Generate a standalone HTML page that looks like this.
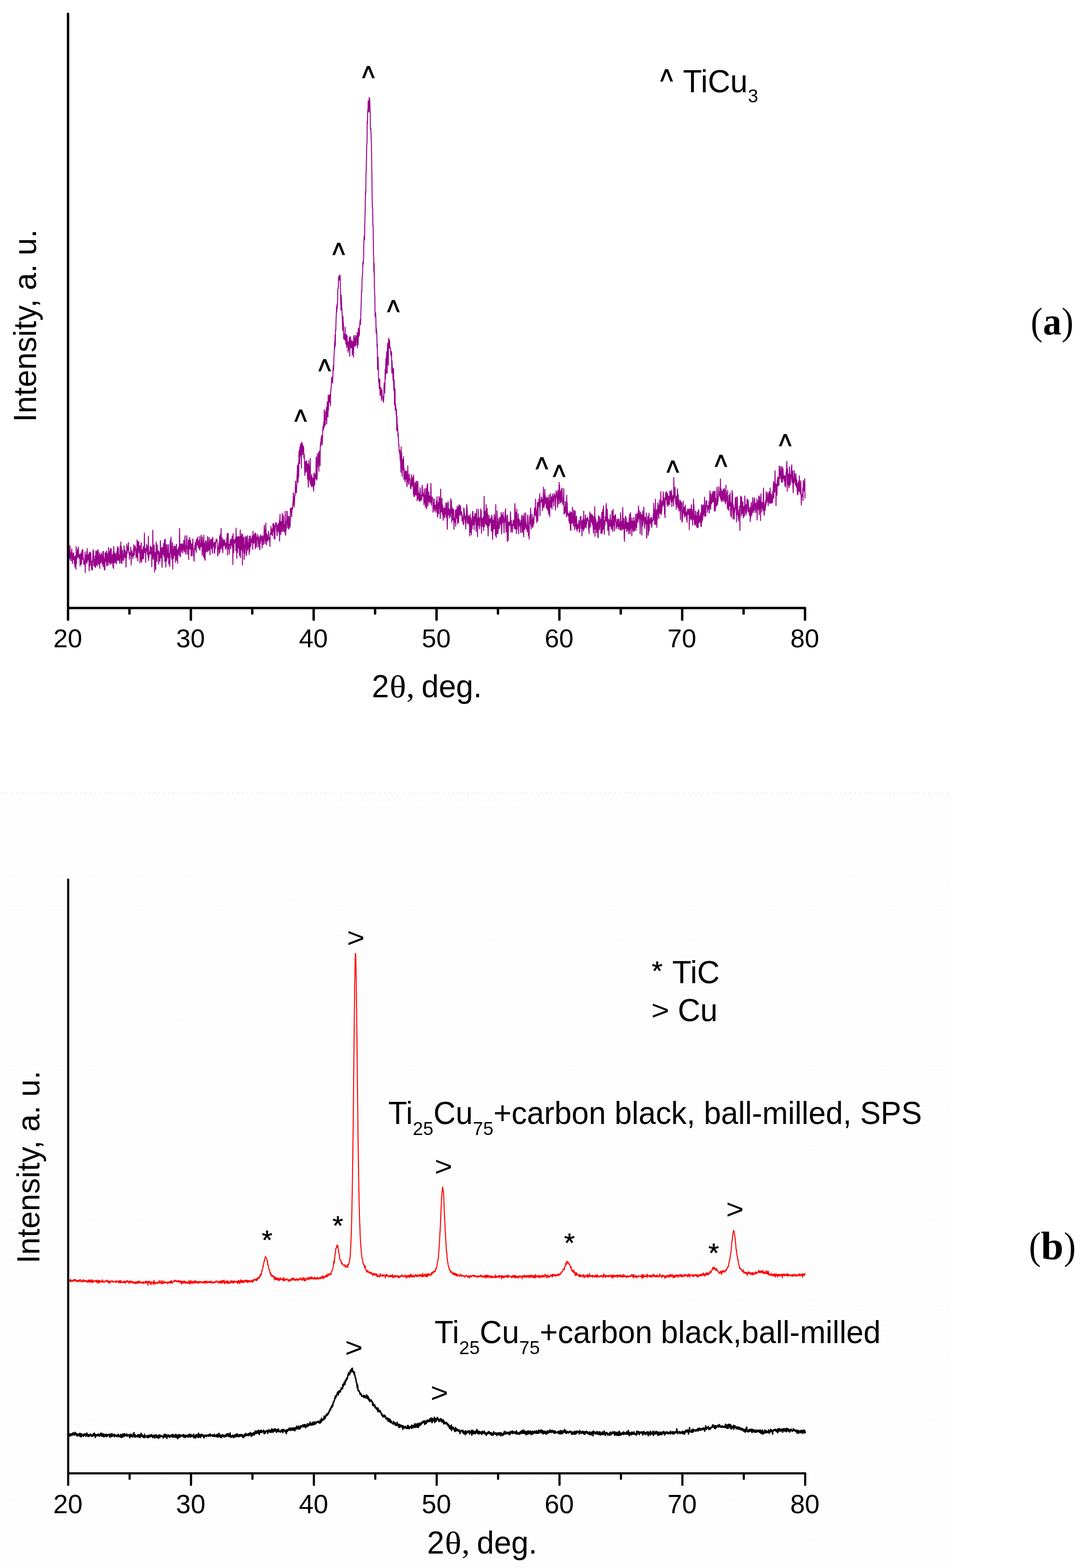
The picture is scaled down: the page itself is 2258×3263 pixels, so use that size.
<!DOCTYPE html>
<html lang="en"><head><meta charset="utf-8"><title>XRD patterns</title>
<style>html,body{margin:0;padding:0;background:#fff}body{width:2258px;height:3263px;overflow:hidden}svg{display:block}</style></head><body>
<svg width="2258" height="3263" viewBox="0 0 2258 3263">
<defs><filter id="soft" x="-2%" y="-2%" width="104%" height="104%"><feGaussianBlur stdDeviation="0.7"/></filter><pattern id="dither" x="0" y="1650.3" width="10.4" height="10.4" patternUnits="userSpaceOnUse"><g fill="#f7f8f8"><circle cx="2.6" cy="5.2" r="1.25"/><circle cx="7.8" cy="5.2" r="1.25"/><circle cx="0" cy="10.4" r="1.25"/><circle cx="5.2" cy="10.4" r="1.25"/><circle cx="10.4" cy="10.4" r="1.25"/><circle cx="0" cy="0" r="1.25" fill="#fff"/></g></pattern></defs>
<rect width="2258" height="3263" fill="#fff"/>
<g id="chart-a">
<polyline fill="none" stroke="#99008a" stroke-width="2.0" stroke-linejoin="round" stroke-linecap="round" points="141.6,1157.3 142.1,1153.4 142.6,1162.1 143.1,1130 143.6,1164.1 144.2,1156.3 144.7,1151.1 145.2,1162 145.7,1135.4 146.2,1158.8 146.7,1151.5 147.2,1166.4 147.7,1166.9 148.2,1149.2 148.8,1149.2 149.3,1142.3 149.8,1151.3 150.3,1165.7 150.8,1172.8 151.3,1164.7 151.8,1162.3 152.3,1150.6 152.8,1164.5 153.4,1151.5 153.9,1165.3 154.4,1159.6 154.9,1173.4 155.4,1165 155.9,1180.2 156.4,1157.2 156.9,1172.4 157.4,1165.5 158,1184.7 158.5,1137.2 159,1174.1 159.5,1149.5 160,1151.5 160.5,1162.6 161,1143.2 161.5,1147.4 162,1156.4 162.6,1158.8 163.1,1138.2 163.6,1151.6 164.1,1161.1 164.6,1161.3 165.1,1154.4 165.6,1162.9 166.1,1156.3 166.7,1178.3 167.2,1152.5 167.7,1163.8 168.2,1156.6 168.7,1174.1 169.2,1150.4 169.7,1174.4 170.2,1147.5 170.7,1145.2 171.3,1155.9 171.8,1164.2 172.3,1143.2 172.8,1156.4 173.3,1162.9 173.8,1162.5 174.3,1174.4 174.8,1173.2 175.3,1167.3 175.9,1174.9 176.4,1175.2 176.9,1148.6 177.4,1191.4 177.9,1162.4 178.4,1155.1 178.9,1170.8 179.4,1156.6 179.9,1171.2 180.5,1147.4 181,1172.4 181.5,1141.6 182,1167.9 182.5,1160.2 183,1156.5 183.5,1165 184,1155.5 184.5,1153 185.1,1168.1 185.6,1188.1 186.1,1150 186.6,1178 187.1,1177.1 187.6,1148.4 188.1,1165.5 188.6,1169.8 189.1,1151.2 189.7,1177 190.2,1174.4 190.7,1185.1 191.2,1168 191.7,1175.3 192.2,1186.5 192.7,1166.4 193.2,1156.4 193.7,1144.1 194.3,1166.6 194.8,1146.4 195.3,1177.1 195.8,1164.8 196.3,1173.4 196.8,1164.9 197.3,1178.9 197.8,1156.8 198.3,1163.4 198.9,1180.9 199.4,1146.3 199.9,1165.2 200.4,1175.3 200.9,1148.8 201.4,1153.5 201.9,1146.3 202.4,1177.9 202.9,1160 203.5,1158.3 204,1144 204.5,1148.5 205,1174.4 205.5,1159.8 206,1157.1 206.5,1172.5 207,1150.4 207.5,1183.1 208.1,1157.3 208.6,1155.4 209.1,1158.6 209.6,1162.5 210.1,1171.1 210.6,1152.8 211.1,1151.1 211.6,1162.3 212.2,1166.2 212.7,1173.1 213.2,1155.5 213.7,1174.2 214.2,1148.3 214.7,1179.5 215.2,1147.3 215.7,1160.3 216.2,1163.9 216.8,1174.5 217.3,1186 217.8,1161.9 218.3,1185.8 218.8,1150.5 219.3,1165.3 219.8,1158 220.3,1168.4 220.8,1148.6 221.4,1146.6 221.9,1177.5 222.4,1174.6 222.9,1168 223.4,1151.5 223.9,1168.3 224.4,1166.4 224.9,1176.6 225.4,1163.5 226,1139.4 226.5,1157.6 227,1160 227.5,1170.6 228,1157 228.5,1146.4 229,1175.1 229.5,1165.1 230,1141.4 230.6,1151.3 231.1,1171.8 231.6,1142.3 232.1,1172.4 232.6,1160 233.1,1157.7 233.6,1170.9 234.1,1154 234.6,1160.2 235.2,1180.7 235.7,1148.3 236.2,1182.9 236.7,1137.3 237.2,1148 237.7,1170.8 238.2,1150.4 238.7,1154.8 239.2,1169.1 239.8,1171.2 240.3,1165 240.8,1151.5 241.3,1166.7 241.8,1160.4 242.3,1173.7 242.8,1163.3 243.3,1147.8 243.8,1156.5 244.4,1137.8 244.9,1166.1 245.4,1163.6 245.9,1158 246.4,1140.1 246.9,1152.5 247.4,1166.3 247.9,1155 248.4,1158.8 249,1172.1 249.5,1165.3 250,1136.2 250.5,1161.7 251,1144.6 251.5,1127.8 252,1171.7 252.5,1137.2 253,1152.3 253.6,1172.5 254.1,1165.3 254.6,1155.3 255.1,1144.5 255.6,1159.7 256.1,1154.9 256.6,1166.4 257.1,1160.6 257.6,1165 258.2,1135.8 258.7,1144.1 259.2,1157.3 259.7,1159.9 260.2,1146.9 260.7,1145.7 261.2,1154.4 261.7,1156.3 262.3,1180.1 262.8,1149.5 263.3,1161.3 263.8,1132 264.3,1152.8 264.8,1149.9 265.3,1137.2 265.8,1141.2 266.3,1145.3 266.9,1143.5 267.4,1128.9 267.9,1149.2 268.4,1152 268.9,1149.2 269.4,1163.7 269.9,1150.8 270.4,1154.2 270.9,1152.3 271.5,1154.2 272,1138.8 272.5,1148.7 273,1175.6 273.5,1156.4 274,1149.9 274.5,1146.1 275,1156.7 275.5,1151.7 276.1,1154.3 276.6,1162.8 277.1,1153.1 277.6,1149.9 278.1,1143 278.6,1133.6 279.1,1156.2 279.6,1155.1 280.1,1141.8 280.7,1142.9 281.2,1135.8 281.7,1137 282.2,1145.2 282.7,1148.8 283.2,1160.8 283.7,1156.6 284.2,1142 284.7,1159.5 285.3,1123.5 285.8,1143.5 286.3,1154.8 286.8,1167.5 287.3,1126.8 287.8,1132.4 288.3,1141.5 288.8,1127.4 289.3,1147.1 289.9,1150.9 290.4,1143.9 290.9,1135.8 291.4,1171.6 291.9,1167.6 292.4,1150.9 292.9,1165.9 293.4,1133.4 293.9,1129.4 294.5,1149.9 295,1169.9 295.5,1143.5 296,1156.2 296.5,1162.7 297,1146.8 297.5,1157.1 298,1137.5 298.5,1162.9 299.1,1151.5 299.6,1146.9 300.1,1137.8 300.6,1108.9 301.1,1150.1 301.6,1146 302.1,1144.5 302.6,1140.9 303.1,1170.6 303.7,1145 304.2,1145.1 304.7,1146.1 305.2,1132.3 305.7,1139.3 306.2,1141.9 306.7,1150.6 307.2,1154.3 307.8,1136.8 308.3,1160.4 308.8,1115.7 309.3,1166.6 309.8,1155.6 310.3,1157.8 310.8,1149 311.3,1152.7 311.8,1151.8 312.4,1143.1 312.9,1135.9 313.4,1153.3 313.9,1151.5 314.4,1139.3 314.9,1149 315.4,1138.9 315.9,1179.6 316.4,1155.8 317,1157.2 317.5,1160.8 318,1103.5 318.5,1149.6 319,1163.9 319.5,1135.1 320,1154.4 320.5,1157.6 321,1133.9 321.6,1190.6 322.1,1151.6 322.6,1149.9 323.1,1151.7 323.6,1167.7 324.1,1185 324.6,1145.6 325.1,1128.1 325.6,1159.8 326.2,1154.9 326.7,1169.1 327.2,1133.8 327.7,1147.9 328.2,1152.2 328.7,1149.4 329.2,1147.4 329.7,1146.1 330.2,1174.1 330.8,1148 331.3,1167.6 331.8,1151.1 332.3,1161 332.8,1168.1 333.3,1159.8 333.8,1124.9 334.3,1138 334.8,1144.3 335.4,1161 335.9,1142.3 336.4,1140.5 336.9,1170.2 337.4,1180.7 337.9,1139.5 338.4,1149.4 338.9,1154 339.4,1138 340,1146.1 340.5,1130.8 341,1157.8 341.5,1149.1 342,1134.9 342.5,1123.2 343,1168.5 343.5,1152.4 344,1122.3 344.6,1153 345.1,1180.2 345.6,1151.4 346.1,1167.4 346.6,1133.2 347.1,1166.3 347.6,1133.2 348.1,1159.3 348.6,1146.3 349.2,1155.3 349.7,1160.6 350.2,1140.4 350.7,1133 351.2,1173.8 351.7,1160.1 352.2,1157.8 352.7,1151.4 353.3,1178.8 353.8,1161 354.3,1124.4 354.8,1148.6 355.3,1150.7 355.8,1117.7 356.3,1130 356.8,1161 357.3,1143 357.9,1164.7 358.4,1140.9 358.9,1129.3 359.4,1183.9 359.9,1156.9 360.4,1143.9 360.9,1162.8 361.4,1146.3 361.9,1136 362.5,1156.4 363,1150.5 363.5,1137.2 364,1148.4 364.5,1138.2 365,1170.4 365.5,1157.5 366,1144.4 366.5,1135.6 367.1,1132.7 367.6,1166.3 368.1,1143.5 368.6,1159 369.1,1156.7 369.6,1172.3 370.1,1146.5 370.6,1142.6 371.1,1142.6 371.7,1138.5 372.2,1152.9 372.7,1154.5 373.2,1156.8 373.7,1099.8 374.2,1134.5 374.7,1136.3 375.2,1133.2 375.7,1158.8 376.3,1136.5 376.8,1132.1 377.3,1147.2 377.8,1136.6 378.3,1142.9 378.8,1133.3 379.3,1131.2 379.8,1150.9 380.3,1141.9 380.9,1133.6 381.4,1140.2 381.9,1143.7 382.4,1123.9 382.9,1145 383.4,1148.7 383.9,1130.8 384.4,1144.3 384.9,1115.2 385.5,1133.8 386,1149 386.5,1136.2 387,1153.8 387.5,1141.9 388,1142.4 388.5,1114.4 389,1120.7 389.5,1135.6 390.1,1138.4 390.6,1153.2 391.1,1139.4 391.6,1153.3 392.1,1123.4 392.6,1164.8 393.1,1132 393.6,1126.6 394.1,1124.1 394.7,1118.3 395.2,1143.2 395.7,1130.5 396.2,1124.2 396.7,1133.2 397.2,1129.4 397.7,1156.4 398.2,1133.4 398.8,1140.9 399.3,1132.7 399.8,1156.9 400.3,1131.3 400.8,1133.2 401.3,1121.5 401.8,1141.7 402.3,1140.2 402.8,1155.9 403.4,1155.6 403.9,1167.9 404.4,1144.3 404.9,1144.7 405.4,1134.4 405.9,1141.9 406.4,1127.6 406.9,1135 407.4,1137.4 408,1146.4 408.5,1149.5 409,1122.7 409.5,1121.9 410,1133.6 410.5,1132 411,1132 411.5,1117.6 412,1136.2 412.6,1130.1 413.1,1139.7 413.6,1138.9 414.1,1124.4 414.6,1142.2 415.1,1142.8 415.6,1116.4 416.1,1144.8 416.6,1131.4 417.2,1138.8 417.7,1137.1 418.2,1130.4 418.7,1113.5 419.2,1137.1 419.7,1129.1 420.2,1132.9 420.7,1155 421.2,1117.6 421.8,1128.9 422.3,1145.5 422.8,1127 423.3,1158.3 423.8,1156.1 424.3,1113.7 424.8,1160.8 425.3,1130.2 425.8,1133.2 426.4,1165.4 426.9,1165.8 427.4,1133.5 427.9,1124.4 428.4,1136.7 428.9,1148.3 429.4,1127.1 429.9,1142.5 430.4,1137.1 431,1135.3 431.5,1148.7 432,1116.5 432.5,1118.1 433,1126.4 433.5,1146.4 434,1144.1 434.5,1133.2 435,1143.3 435.6,1118.8 436.1,1127.7 436.6,1144 437.1,1154.8 437.6,1128.5 438.1,1135.2 438.6,1122.8 439.1,1126.6 439.6,1137.9 440.2,1142.3 440.7,1121.5 441.2,1130.9 441.7,1143.4 442.2,1151.4 442.7,1118.1 443.2,1129.4 443.7,1131.3 444.3,1131.4 444.8,1137.8 445.3,1129.4 445.8,1137 446.3,1151.2 446.8,1151.1 447.3,1127.9 447.8,1131.8 448.3,1141.6 448.9,1129 449.4,1127.4 449.9,1121.9 450.4,1126.6 450.9,1121.8 451.4,1123.2 451.9,1125.3 452.4,1132.2 452.9,1156.9 453.5,1154.9 454,1138.5 454.5,1139.1 455,1142.4 455.5,1133.1 456,1129.7 456.5,1152 457,1115.5 457.5,1149.1 458.1,1121.9 458.6,1111.5 459.1,1142.5 459.6,1122.6 460.1,1100 460.6,1138.5 461.1,1138.3 461.6,1132 462.1,1143.6 462.7,1118.7 463.2,1134.3 463.7,1150.2 464.2,1134.7 464.7,1131.6 465.2,1123.6 465.7,1130.8 466.2,1135.8 466.7,1122.8 467.3,1127 467.8,1126.4 468.3,1132.2 468.8,1140.4 469.3,1134.7 469.8,1143.4 470.3,1130 470.8,1140.1 471.3,1131.4 471.9,1120.9 472.4,1117.4 472.9,1110.4 473.4,1155 473.9,1112.7 474.4,1115.5 474.9,1109.8 475.4,1136 475.9,1142.7 476.5,1132.9 477,1153.3 477.5,1133 478,1134.6 478.5,1134.6 479,1124.2 479.5,1130.8 480,1142 480.5,1121.4 481.1,1129.4 481.6,1134.5 482.1,1133.9 482.6,1130.2 483.1,1115.7 483.6,1140.7 484.1,1128.8 484.6,1175.1 485.1,1110.5 485.7,1150.1 486.2,1150.3 486.7,1143.9 487.2,1123.3 487.7,1126.5 488.2,1130.2 488.7,1123.7 489.2,1127.7 489.7,1120.5 490.3,1120.7 490.8,1145.9 491.3,1099.2 491.8,1136.6 492.3,1137 492.8,1161.7 493.3,1117 493.8,1118.1 494.4,1149.7 494.9,1135.5 495.4,1116.5 495.9,1140.3 496.4,1124.6 496.9,1140.5 497.4,1117.1 497.9,1138.2 498.4,1156.3 499,1117.9 499.5,1124.7 500,1102.9 500.5,1160.8 501,1131.6 501.5,1141.7 502,1115.6 502.5,1144.2 503,1110.4 503.6,1118.3 504.1,1125.8 504.6,1175.9 505.1,1112.6 505.6,1149.3 506.1,1118.9 506.6,1132.2 507.1,1121.7 507.6,1118.1 508.2,1163.9 508.7,1133.7 509.2,1147.3 509.7,1152.6 510.2,1135.1 510.7,1117.2 511.2,1139 511.7,1116.8 512.2,1127.8 512.8,1156.5 513.3,1152.1 513.8,1123.7 514.3,1116.6 514.8,1114.6 515.3,1145.3 515.8,1130 516.3,1141 516.8,1135.3 517.4,1133.7 517.9,1121.2 518.4,1153.9 518.9,1115.7 519.4,1148.4 519.9,1130.9 520.4,1140.3 520.9,1133.3 521.4,1115.2 522,1136.9 522.5,1127.6 523,1121.4 523.5,1128.1 524,1128.8 524.5,1123 525,1115.5 525.5,1120.6 526,1143.2 526.6,1105.5 527.1,1126.6 527.6,1129.4 528.1,1130.7 528.6,1121.2 529.1,1112.6 529.6,1121.4 530.1,1128.3 530.6,1109.5 531.2,1141.9 531.7,1123.9 532.2,1109.7 532.7,1112.6 533.2,1130.8 533.7,1138.6 534.2,1127.8 534.7,1121.7 535.2,1117.3 535.8,1116.5 536.3,1112.3 536.8,1122.8 537.3,1138.6 537.8,1124.7 538.3,1117.9 538.8,1117.6 539.3,1131.3 539.9,1128.7 540.4,1143.9 540.9,1142.3 541.4,1115.3 541.9,1130.4 542.4,1113.1 542.9,1120.9 543.4,1124.3 543.9,1117.1 544.5,1115.6 545,1127.4 545.5,1140.6 546,1125.4 546.5,1132.6 547,1115.1 547.5,1125.2 548,1133.2 548.5,1131 549.1,1123.7 549.6,1106.7 550.1,1093.3 550.6,1119 551.1,1101.2 551.6,1131.6 552.1,1102.9 552.6,1125.8 553.1,1088.4 553.7,1105.5 554.2,1116.9 554.7,1133.8 555.2,1121.5 555.7,1111.4 556.2,1126.5 556.7,1124.7 557.2,1115.1 557.7,1118.1 558.3,1123.2 558.8,1105.5 559.3,1118.8 559.8,1121.1 560.3,1120.6 560.8,1125.3 561.3,1118.5 561.8,1137.3 562.3,1110.1 562.9,1111.8 563.4,1111.8 563.9,1095.5 564.4,1110 564.9,1100.4 565.4,1112.4 565.9,1101.1 566.4,1101.2 566.9,1114.9 567.5,1108.4 568,1089.7 568.5,1093.4 569,1089.9 569.5,1105.6 570,1090.1 570.5,1121.1 571,1094.1 571.5,1110 572.1,1121.9 572.6,1104.2 573.1,1094 573.6,1088.5 574.1,1094.1 574.6,1088 575.1,1087.7 575.6,1101.2 576.1,1108.8 576.7,1114.9 577.2,1093.1 577.7,1092.7 578.2,1098.7 578.7,1105.6 579.2,1089.4 579.7,1102.2 580.2,1096.3 580.7,1109.8 581.3,1084.3 581.8,1126 582.3,1082.9 582.8,1070 583.3,1105.8 583.8,1112.5 584.3,1090.4 584.8,1085.2 585.4,1105.5 585.9,1099.3 586.4,1106.7 586.9,1086.4 587.4,1068.3 587.9,1085.9 588.4,1090.7 588.9,1104.8 589.4,1106 590,1072.5 590.5,1091.9 591,1091.5 591.5,1096.1 592,1107.2 592.5,1093.3 593,1097.8 593.5,1063.7 594,1113.8 594.6,1112.5 595.1,1092.6 595.6,1102.3 596.1,1083.9 596.6,1081.3 597.1,1063.8 597.6,1064.7 598.1,1089.7 598.6,1097.9 599.2,1085.5 599.7,1098.9 600.2,1074.4 600.7,1082.5 601.2,1101.4 601.7,1074.8 602.2,1079.5 602.7,1076.9 603.2,1087.1 603.8,1097.5 604.3,1058 604.8,1058.7 605.3,1057.8 605.8,1066 606.3,1057.5 606.8,1075.7 607.3,1067.8 607.8,1055.9 608.4,1060.4 608.9,1058.4 609.4,1046.7 609.9,1051.1 610.4,1025.2 610.9,1048.5 611.4,1033.3 611.9,1044.8 612.4,1055.3 613,1042.6 613.5,1028.5 614,1031.1 614.5,1019.6 615,1001.3 615.5,1023.5 616,1025.3 616.5,1019.5 617,1025.4 617.6,1007 618.1,992.1 618.6,983.8 619.1,968.3 619.6,997.1 620.1,1004.3 620.6,996.5 621.1,963.8 621.6,992.4 622.2,939.2 622.7,945.2 623.2,936.2 623.7,964.9 624.2,930 624.7,948.3 625.2,925.3 625.7,932.2 626.2,949.4 626.8,921.5 627.3,974.1 627.8,922.2 628.3,920.9 628.8,938.6 629.3,923.2 629.8,946 630.3,935.1 630.9,927.4 631.4,941.2 631.9,930.3 632.4,953.1 632.9,944.7 633.4,950 633.9,970.3 634.4,989.5 634.9,974.8 635.5,961.4 636,960.3 636.5,983.1 637,965.4 637.5,980.9 638,958.7 638.5,977.3 639,977.9 639.5,965 640.1,997.3 640.6,965.6 641.1,983.3 641.6,1014 642.1,998 642.6,958.8 643.1,999 643.6,991.9 644.1,994.2 644.7,968.4 645.2,1003.4 645.7,953.7 646.2,1006.6 646.7,1009 647.2,1007.8 647.7,992.2 648.2,1012.8 648.7,987.8 649.3,992.7 649.8,1004.6 650.3,1011.5 650.8,1010 651.3,995 651.8,1016 652.3,1002.7 652.8,1022.3 653.3,986.6 653.9,984 654.4,989.1 654.9,1009.7 655.4,991.9 655.9,988 656.4,987.2 656.9,989.6 657.4,996.4 657.9,951.2 658.5,963 659,983.4 659.5,999.2 660,989.5 660.5,944.2 661,971.6 661.5,955.9 662,949.5 662.5,960.8 663.1,941.9 663.6,980.8 664.1,948.7 664.6,938.5 665.1,943.3 665.6,956.1 666.1,969.4 666.6,929.6 667.1,920.5 667.7,928.3 668.2,911.4 668.7,912.6 669.2,909 669.7,905.9 670.2,921.8 670.7,925.7 671.2,909.8 671.7,894.7 672.3,887.1 672.8,895.2 673.3,884.4 673.8,879.2 674.3,890.6 674.8,852.4 675.3,886.9 675.8,876.3 676.4,880.8 676.9,884.6 677.4,857 677.9,873.5 678.4,855 678.9,870.1 679.4,847.4 679.9,882.1 680.4,863.5 681,836.5 681.5,843.6 682,855.9 682.5,867.6 683,822.4 683.5,853.9 684,834.1 684.5,828.1 685,827.7 685.6,821.2 686.1,837.7 686.6,832.1 687.1,821.5 687.6,844.2 688.1,813.4 688.6,813.4 689.1,807.1 689.6,799.9 690.2,785.8 690.7,784.6 691.2,796.9 691.7,790.8 692.2,796 692.7,784.4 693.2,768.9 693.7,760.1 694.2,770.6 694.8,744.9 695.3,740.6 695.8,727.7 696.3,712.9 696.8,724.2 697.3,696.5 697.8,719.6 698.3,685.2 698.8,687.7 699.4,665.3 699.9,654.2 700.4,638.9 700.9,649 701.4,632.7 701.9,640.8 702.4,630.3 702.9,606.2 703.4,599.8 704,600 704.5,577.5 705,578.8 705.5,573.5 706,575.8 706.5,583 707,580.2 707.5,572.2 708,578.6 708.6,604.6 709.1,625.7 709.6,645.5 710.1,614.6 710.6,622.8 711.1,640.8 711.6,641.2 712.1,656.1 712.6,669.6 713.2,687.5 713.7,658.3 714.2,671.1 714.7,672.1 715.2,704.9 715.7,701.7 716.2,705.6 716.7,694.9 717.2,702.6 717.8,707.6 718.3,681 718.8,706.4 719.3,705.9 719.8,715.9 720.3,710.5 720.8,695.8 721.3,723.4 721.8,715 722.4,698.5 722.9,716.7 723.4,711.5 723.9,714.1 724.4,733 724.9,725.5 725.4,728.5 725.9,709.6 726.5,719.6 727,701.3 727.5,705 728,741.5 728.5,712.8 729,719.7 729.5,700.7 730,716.2 730.5,723.9 731.1,715 731.6,722.4 732.1,709 732.6,708.3 733.1,738.7 733.6,729.9 734.1,711.4 734.6,715 735.1,715 735.7,743.2 736.2,698.5 736.7,714.3 737.2,721.6 737.7,719.3 738.2,703.8 738.7,705 739.2,697.8 739.7,717.7 740.3,719.7 740.8,718.4 741.3,711.1 741.8,700.5 742.3,698.6 742.8,705.9 743.3,691.7 743.8,724 744.3,694.1 744.9,715.7 745.4,717.4 745.9,682.4 746.4,701.6 746.9,697.8 747.4,688.7 747.9,698 748.4,677.3 748.9,674.3 749.5,665.4 750,675.3 750.5,669 751,648.9 751.5,637.6 752,617.3 752.5,606.7 753,607.8 753.5,579.8 754.1,576 754.6,568.1 755.1,545.6 755.6,545.6 756.1,549.5 756.6,536.2 757.1,510.7 757.6,495.6 758.1,490.1 758.7,499.2 759.2,464.3 759.7,446.7 760.2,421.7 760.7,398.6 761.2,402.6 761.7,361 762.2,354.2 762.7,327.5 763.3,300.3 763.8,297.2 764.3,251.7 764.8,256.9 765.3,228.7 765.8,230.7 766.3,209.8 766.8,215.2 767.3,233 767.9,232.5 768.4,203 768.9,222.4 769.4,205.4 769.9,221.1 770.4,232.4 770.9,268.7 771.4,266.5 772,274 772.5,287.5 773,301.3 773.5,341.6 774,366.6 774.5,411.6 775,433.4 775.5,432.7 776,466.6 776.6,473.5 777.1,522.6 777.6,534.3 778.1,567 778.6,547.9 779.1,593.1 779.6,610.3 780.1,617.4 780.6,658.7 781.2,654 781.7,650.9 782.2,662.3 782.7,692.8 783.2,682.1 783.7,689 784.2,694.2 784.7,722.4 785.2,715.6 785.8,768.9 786.3,746.3 786.8,743 787.3,760.2 787.8,791 788.3,796.3 788.8,792.7 789.3,808.4 789.8,790.9 790.4,788.3 790.9,823.1 791.4,818.6 791.9,811 792.4,806.2 792.9,809 793.4,820.6 793.9,833.2 794.4,823.6 795,811.3 795.5,825.6 796,825 796.5,824.7 797,833.2 797.5,832 798,837.1 798.5,831.3 799,808.6 799.6,796.9 800.1,805.9 800.6,818.1 801.1,804.4 801.6,768.8 802.1,788.8 802.6,766.3 803.1,746.5 803.6,776.8 804.2,747.3 804.7,731.7 805.2,746.4 805.7,776.8 806.2,728.8 806.7,715.7 807.2,713.8 807.7,728.5 808.2,760.1 808.8,703.5 809.3,723.3 809.8,723.7 810.3,707.3 810.8,707.8 811.3,724.4 811.8,721.9 812.3,725.1 812.8,727.2 813.4,738.4 813.9,740.6 814.4,731.2 814.9,733.1 815.4,776.1 815.9,751.2 816.4,763.2 816.9,767.2 817.5,778.4 818,791.7 818.5,783.6 819,767 819.5,812.3 820,798.7 820.5,790.9 821,842.3 821.5,831.3 822.1,809.1 822.6,853.3 823.1,840.9 823.6,844.8 824.1,853.3 824.6,864 825.1,851.4 825.6,896.1 826.1,865.8 826.7,896.7 827.2,884.3 827.7,892.9 828.2,907.7 828.7,901.7 829.2,913.8 829.7,927 830.2,925.3 830.7,940 831.3,936.6 831.8,945.1 832.3,937.1 832.8,958.2 833.3,954.9 833.8,964.3 834.3,982.7 834.8,930 835.3,971.4 835.9,942.2 836.4,967.6 836.9,991.1 837.4,973.3 837.9,956.4 838.4,977.5 838.9,971.7 839.4,966.3 839.9,950.6 840.5,997.4 841,973.4 841.5,994.6 842,984 842.5,990 843,1002.6 843.5,981 844,981.5 844.5,978.7 845.1,994.2 845.6,997.8 846.1,981.3 846.6,1009.3 847.1,1012.8 847.6,997.4 848.1,1002.6 848.6,969.3 849.1,994 849.7,996.1 850.2,1005.2 850.7,1008 851.2,992.1 851.7,986.4 852.2,998.5 852.7,996 853.2,996 853.7,1000.6 854.3,1016.1 854.8,1006.2 855.3,1017.3 855.8,1012.6 856.3,990.1 856.8,988.3 857.3,1009.9 857.8,997.5 858.3,1006.7 858.9,1012.3 859.4,993.4 859.9,994.2 860.4,1028.7 860.9,988.5 861.4,1033 861.9,1015.4 862.4,1027.2 863,1033.2 863.5,1006.6 864,1003.5 864.5,1011.5 865,1028 865.5,1030.2 866,1029.4 866.5,1002.2 867,1001.4 867.6,1013.3 868.1,1042.1 868.6,1039 869.1,1031.2 869.6,1001.8 870.1,1019.6 870.6,1038.5 871.1,1030.6 871.6,1026 872.2,1042 872.7,1026.6 873.2,1043.4 873.7,1026.6 874.2,1015.1 874.7,1022.2 875.2,1042 875.7,1034.7 876.2,1030.2 876.8,1039.7 877.3,1040.1 877.8,1037.9 878.3,1015.9 878.8,1009.9 879.3,1022 879.8,1031.2 880.3,1032.7 880.8,1027.1 881.4,1031.4 881.9,1040.3 882.4,1050.4 882.9,1017.3 883.4,1030.9 883.9,1045.6 884.4,1031.1 884.9,1042.1 885.4,1055.8 886,1021 886.5,1015.7 887,1033 887.5,1051.3 888,1058.6 888.5,1031 889,1009.5 889.5,1037.5 890,1006.5 890.6,1053 891.1,1031.9 891.6,1045.7 892.1,1039.7 892.6,1023.5 893.1,1044.6 893.6,1037.7 894.1,1032.1 894.6,1034.4 895.2,1036.8 895.7,1046.5 896.2,1037.9 896.7,1006 897.2,1025.8 897.7,1051.7 898.2,1040.8 898.7,1035 899.2,1038.3 899.8,1034.4 900.3,1040.5 900.8,1049.8 901.3,1066.1 901.8,1046 902.3,1058.6 902.8,1049.6 903.3,1037.8 903.8,1044.5 904.4,1063.6 904.9,1060.4 905.4,1053 905.9,1051.2 906.4,1056.7 906.9,1057 907.4,1065.9 907.9,1041.8 908.5,1042.7 909,1059.5 909.5,1033.5 910,1057.2 910.5,1073.5 911,1075.9 911.5,1058.3 912,1045.7 912.5,1060.9 913.1,1068.9 913.6,1033.3 914.1,1050.5 914.6,1056.8 915.1,1058.3 915.6,1036.3 916.1,1079 916.6,1063.9 917.1,1017.8 917.7,1066 918.2,1055.2 918.7,1064.8 919.2,1061.8 919.7,1037.1 920.2,1057 920.7,1070.3 921.2,1051.4 921.7,1069.8 922.3,1082.7 922.8,1060.6 923.3,1059.4 923.8,1074.1 924.3,1056.1 924.8,1063.4 925.3,1078 925.8,1072.6 926.3,1057.9 926.9,1070 927.4,1060.7 927.9,1046.7 928.4,1050.8 928.9,1076.4 929.4,1054.9 929.9,1047 930.4,1083.6 930.9,1101.2 931.5,1065.8 932,1065.5 932.5,1043.9 933,1048.8 933.5,1072 934,1058.8 934.5,1058.7 935,1064.6 935.5,1078.4 936.1,1060.8 936.6,1061 937.1,1075.1 937.6,1056.9 938.1,1037.8 938.6,1057.4 939.1,1068.4 939.6,1042.4 940.1,1087.1 940.7,1069.7 941.2,1056.3 941.7,1078 942.2,1077.6 942.7,1082.8 943.2,1059.6 943.7,1060.5 944.2,1061.1 944.7,1101.8 945.3,1078.6 945.8,1087.9 946.3,1086.6 946.8,1084.2 947.3,1074.5 947.8,1061.6 948.3,1095.3 948.8,1071.4 949.3,1060.5 949.9,1074.5 950.4,1066.1 950.9,1079 951.4,1053.3 951.9,1076.1 952.4,1090.2 952.9,1083.7 953.4,1055.7 953.9,1064.1 954.5,1087.4 955,1050.5 955.5,1056.9 956,1053.2 956.5,1051.8 957,1072.8 957.5,1051.7 958,1070.7 958.6,1054.2 959.1,1071.3 959.6,1070.5 960.1,1069.2 960.6,1065.1 961.1,1068.5 961.6,1084.2 962.1,1071.8 962.6,1076.3 963.2,1081.7 963.7,1090 964.2,1078.4 964.7,1092.2 965.2,1057.2 965.7,1058.1 966.2,1066.3 966.7,1068.7 967.2,1081.4 967.8,1081.5 968.3,1089.1 968.8,1075 969.3,1101 969.8,1072.3 970.3,1086.8 970.8,1067.9 971.3,1049.8 971.8,1057.1 972.4,1061.9 972.9,1089.7 973.4,1084.1 973.9,1088.3 974.4,1078.9 974.9,1072.9 975.4,1080 975.9,1091.1 976.4,1075.2 977,1089.5 977.5,1115.4 978,1081.1 978.5,1070.1 979,1108 979.5,1084.8 980,1077.8 980.5,1090.3 981,1113.2 981.6,1084.8 982.1,1082.7 982.6,1100.5 983.1,1065.2 983.6,1093.3 984.1,1064 984.6,1080.1 985.1,1091 985.6,1075.6 986.2,1083.3 986.7,1102.2 987.2,1074.8 987.7,1091.7 988.2,1068.5 988.7,1084.5 989.2,1070.2 989.7,1084.7 990.2,1069.1 990.8,1105.7 991.3,1089.8 991.8,1059.4 992.3,1087.9 992.8,1091.3 993.3,1092.9 993.8,1117.1 994.3,1077.6 994.8,1088.6 995.4,1059.8 995.9,1086.5 996.4,1094.1 996.9,1078.1 997.4,1085.7 997.9,1100.5 998.4,1087.5 998.9,1076.5 999.4,1078.4 1000,1076.4 1000.5,1059 1001,1095.7 1001.5,1062.5 1002,1109.7 1002.5,1083.2 1003,1082.6 1003.5,1078.3 1004.1,1084 1004.6,1095.6 1005.1,1079.6 1005.6,1085.5 1006.1,1075.1 1006.6,1104 1007.1,1072.1 1007.6,1033.1 1008.1,1096.1 1008.7,1081.6 1009.2,1084.8 1009.7,1063.8 1010.2,1076.4 1010.7,1090.5 1011.2,1083.8 1011.7,1049.9 1012.2,1083.3 1012.7,1093.5 1013.3,1066.8 1013.8,1058.2 1014.3,1087.5 1014.8,1098.1 1015.3,1070.1 1015.8,1115.5 1016.3,1097.3 1016.8,1080.2 1017.3,1092.3 1017.9,1073 1018.4,1094 1018.9,1088.8 1019.4,1085.9 1019.9,1080.5 1020.4,1086.3 1020.9,1087.2 1021.4,1078 1021.9,1087.2 1022.5,1105.4 1023,1078.1 1023.5,1071.9 1024,1102.8 1024.5,1076 1025,1122.6 1025.5,1109.6 1026,1106 1026.5,1082.6 1027.1,1098.6 1027.6,1101.3 1028.1,1083.6 1028.6,1070.6 1029.1,1075.2 1029.6,1100 1030.1,1100.8 1030.6,1076.8 1031.1,1114.2 1031.7,1049.9 1032.2,1087.2 1032.7,1118.6 1033.2,1094.6 1033.7,1111.2 1034.2,1106.6 1034.7,1063.3 1035.2,1106.4 1035.7,1106 1036.3,1110.5 1036.8,1099.9 1037.3,1078.9 1037.8,1087.7 1038.3,1099.7 1038.8,1085.9 1039.3,1099.7 1039.8,1086.6 1040.3,1076.3 1040.9,1077 1041.4,1088.6 1041.9,1082.5 1042.4,1093.2 1042.9,1066 1043.4,1083.4 1043.9,1110.9 1044.4,1105.9 1044.9,1071.2 1045.5,1079.3 1046,1088 1046.5,1074.6 1047,1066 1047.5,1082.6 1048,1074.6 1048.5,1093.2 1049,1108.8 1049.6,1080.7 1050.1,1087.1 1050.6,1081.5 1051.1,1064.4 1051.6,1078.6 1052.1,1058.8 1052.6,1090.3 1053.1,1107 1053.6,1073.9 1054.2,1101.6 1054.7,1092.3 1055.2,1090.9 1055.7,1127 1056.2,1071.6 1056.7,1088.1 1057.2,1099.3 1057.7,1124.2 1058.2,1089.3 1058.8,1086.6 1059.3,1093.1 1059.8,1086.1 1060.3,1089.7 1060.8,1094.1 1061.3,1092.2 1061.8,1090.7 1062.3,1064.9 1062.8,1081.9 1063.4,1107.5 1063.9,1092.2 1064.4,1083 1064.9,1093.6 1065.4,1102 1065.9,1092.1 1066.4,1107.6 1066.9,1092.9 1067.4,1094.8 1068,1083.5 1068.5,1090.5 1069,1091.9 1069.5,1081.9 1070,1093.4 1070.5,1100.2 1071,1071.5 1071.5,1048.1 1072,1060.4 1072.6,1100.9 1073.1,1086.6 1073.6,1087.2 1074.1,1066.3 1074.6,1110.2 1075.1,1082.1 1075.6,1059.2 1076.1,1101.8 1076.6,1094.5 1077.2,1080.2 1077.7,1079.6 1078.2,1081.1 1078.7,1068.9 1079.2,1111 1079.7,1083.3 1080.2,1095.8 1080.7,1081 1081.2,1081.8 1081.8,1089 1082.3,1093.7 1082.8,1088.6 1083.3,1108.1 1083.8,1098.8 1084.3,1082.4 1084.8,1092.9 1085.3,1080.8 1085.8,1072.2 1086.4,1108.5 1086.9,1098.9 1087.4,1085.4 1087.9,1105.6 1088.4,1073.6 1088.9,1079.3 1089.4,1110 1089.9,1117.3 1090.4,1084.6 1091,1068.5 1091.5,1083.1 1092,1102 1092.5,1100.2 1093,1097 1093.5,1095.8 1094,1067.3 1094.5,1090.4 1095.1,1088.2 1095.6,1101.2 1096.1,1095.9 1096.6,1094.4 1097.1,1107 1097.6,1100.4 1098.1,1072.1 1098.6,1073.8 1099.1,1086.8 1099.7,1115 1100.2,1094.8 1100.7,1095.1 1101.2,1122.1 1101.7,1089.2 1102.2,1079.6 1102.7,1072.6 1103.2,1090.7 1103.7,1077.3 1104.3,1057.4 1104.8,1086 1105.3,1100.7 1105.8,1085.3 1106.3,1082.7 1106.8,1085 1107.3,1069.9 1107.8,1093.5 1108.3,1097.5 1108.9,1081.1 1109.4,1096.3 1109.9,1085.3 1110.4,1076 1110.9,1090.3 1111.4,1079.8 1111.9,1066.3 1112.4,1057.1 1112.9,1057.8 1113.5,1067.3 1114,1072.7 1114.5,1038.6 1115,1070.5 1115.5,1063.9 1116,1075.1 1116.5,1077.1 1117,1087.3 1117.5,1059.4 1118.1,1057.8 1118.6,1045.2 1119.1,1084.2 1119.6,1073.1 1120.1,1057.5 1120.6,1045 1121.1,1048.2 1121.6,1040.5 1122.1,1037.2 1122.7,1055.1 1123.2,1027.5 1123.7,1073.2 1124.2,1050.7 1124.7,1048.2 1125.2,1042.3 1125.7,1040.7 1126.2,1043.7 1126.7,1034.1 1127.3,1036 1127.8,1038.5 1128.3,1046.5 1128.8,1062.7 1129.3,1047.4 1129.8,1038.8 1130.3,1054.5 1130.8,1013.9 1131.3,1034.9 1131.9,1057.1 1132.4,1046.8 1132.9,1052.8 1133.4,1030.6 1133.9,1018.2 1134.4,1037.3 1134.9,1031.3 1135.4,1048.4 1135.9,1038.5 1136.5,1050.5 1137,1057.6 1137.5,1034.7 1138,1038.5 1138.5,1039.7 1139,1056.6 1139.5,1061.6 1140,1035.4 1140.5,1052.9 1141.1,1055.7 1141.6,1070.1 1142.1,1061.2 1142.6,1030 1143.1,1048.7 1143.6,1045.9 1144.1,1075.1 1144.6,1041.6 1145.2,1050.5 1145.7,1027 1146.2,1041.7 1146.7,1055.7 1147.2,1045.1 1147.7,1034.1 1148.2,1036.5 1148.7,1059.2 1149.2,1041 1149.8,1037.8 1150.3,1027.5 1150.8,1044.1 1151.3,1043.6 1151.8,1031.7 1152.3,1052.9 1152.8,1032.2 1153.3,1033.5 1153.8,1027.2 1154.4,1030.2 1154.9,1033.5 1155.4,1045.4 1155.9,1061.3 1156.4,1050.8 1156.9,1031.7 1157.4,1021.2 1157.9,1027.6 1158.4,1024.1 1159,1035.5 1159.5,1032.2 1160,1043.7 1160.5,1056 1161,1020 1161.5,1047.7 1162,1048.8 1162.5,1037.6 1163,1040.1 1163.6,1003.8 1164.1,1024.8 1164.6,1009.7 1165.1,1047.4 1165.6,1024.2 1166.1,1024.4 1166.6,1045.1 1167.1,1021.4 1167.6,1045.2 1168.2,1035 1168.7,1017.2 1169.2,1020 1169.7,1015.8 1170.2,1043 1170.7,1046.8 1171.2,1042.7 1171.7,1050.3 1172.2,1044 1172.8,1033.8 1173.3,1017.1 1173.8,1069.9 1174.3,1060.4 1174.8,1068.6 1175.3,1062.3 1175.8,1054.4 1176.3,1054.1 1176.8,1043.6 1177.4,1067.2 1177.9,1060.2 1178.4,1064.5 1178.9,1076 1179.4,1030.5 1179.9,1071.3 1180.4,1045.5 1180.9,1065.2 1181.4,1069.7 1182,1073.5 1182.5,1068.4 1183,1068.3 1183.5,1070.4 1184,1084.4 1184.5,1068.9 1185,1088.5 1185.5,1079.3 1186,1064.3 1186.6,1087.4 1187.1,1101.6 1187.6,1066.5 1188.1,1104 1188.6,1070.7 1189.1,1082.5 1189.6,1067.1 1190.1,1088.9 1190.7,1072.9 1191.2,1055.5 1191.7,1076.4 1192.2,1088.3 1192.7,1074 1193.2,1094.8 1193.7,1073.5 1194.2,1061.3 1194.7,1064.4 1195.3,1071.5 1195.8,1102.6 1196.3,1091.1 1196.8,1076.8 1197.3,1063.4 1197.8,1094.6 1198.3,1086.3 1198.8,1099.8 1199.3,1082.8 1199.9,1074 1200.4,1099.7 1200.9,1105.3 1201.4,1090.9 1201.9,1101.8 1202.4,1095.5 1202.9,1099.5 1203.4,1092 1203.9,1095.7 1204.5,1083.2 1205,1088.2 1205.5,1107.2 1206,1090 1206.5,1106.6 1207,1094.1 1207.5,1075.8 1208,1082.8 1208.5,1076.7 1209.1,1074.7 1209.6,1099.7 1210.1,1084.9 1210.6,1097.4 1211.1,1115.2 1211.6,1083.2 1212.1,1091 1212.6,1100.3 1213.1,1080.5 1213.7,1085.1 1214.2,1105.3 1214.7,1063.6 1215.2,1094.7 1215.7,1101.3 1216.2,1086 1216.7,1082 1217.2,1097.2 1217.7,1081.7 1218.3,1071.5 1218.8,1095.6 1219.3,1094.9 1219.8,1098.5 1220.3,1079.3 1220.8,1091.5 1221.3,1084.1 1221.8,1080.8 1222.3,1076.3 1222.9,1078.6 1223.4,1083.4 1223.9,1080.8 1224.4,1084.7 1224.9,1100.9 1225.4,1093.7 1225.9,1110.6 1226.4,1088.5 1226.9,1079.4 1227.5,1065.3 1228,1093.5 1228.5,1097.1 1229,1069.7 1229.5,1077.7 1230,1085.8 1230.5,1080.8 1231,1085.2 1231.5,1069.7 1232.1,1091 1232.6,1080.3 1233.1,1072.4 1233.6,1087.5 1234.1,1094.4 1234.6,1100.5 1235.1,1109.4 1235.6,1074.8 1236.2,1090.9 1236.7,1101.1 1237.2,1092.5 1237.7,1054.2 1238.2,1115.9 1238.7,1076.6 1239.2,1083.6 1239.7,1100.4 1240.2,1081.9 1240.8,1092.2 1241.3,1108.9 1241.8,1106.7 1242.3,1096.1 1242.8,1090.1 1243.3,1085.9 1243.8,1090.5 1244.3,1118.3 1244.8,1118.9 1245.4,1073.1 1245.9,1077.1 1246.4,1088.4 1246.9,1102.6 1247.4,1101.5 1247.9,1098.4 1248.4,1075.3 1248.9,1083.5 1249.4,1091.1 1250,1081 1250.5,1109.8 1251,1083.8 1251.5,1110.3 1252,1082.1 1252.5,1065.7 1253,1066.1 1253.5,1109 1254,1098.8 1254.6,1059.6 1255.1,1101.5 1255.6,1092.1 1256.1,1052.5 1256.6,1096.7 1257.1,1083.4 1257.6,1111.9 1258.1,1083.5 1258.6,1087.1 1259.2,1092.2 1259.7,1075.1 1260.2,1079.5 1260.7,1083.7 1261.2,1054.2 1261.7,1047.8 1262.2,1082.5 1262.7,1085.1 1263.2,1086.9 1263.8,1059.7 1264.3,1081.3 1264.8,1103.9 1265.3,1083.1 1265.8,1079.6 1266.3,1102 1266.8,1093.5 1267.3,1114 1267.8,1091.8 1268.4,1081.4 1268.9,1085.3 1269.4,1094.3 1269.9,1071 1270.4,1087 1270.9,1095.9 1271.4,1083.3 1271.9,1100.4 1272.4,1082.5 1273,1100 1273.5,1063.1 1274,1067.2 1274.5,1101.9 1275,1067.2 1275.5,1106.2 1276,1060.1 1276.5,1093.1 1277,1085.6 1277.6,1073.7 1278.1,1090.1 1278.6,1096.8 1279.1,1104.6 1279.6,1077.6 1280.1,1070.7 1280.6,1084.5 1281.1,1072.2 1281.7,1084.6 1282.2,1088.7 1282.7,1099.9 1283.2,1095.9 1283.7,1092.5 1284.2,1086 1284.7,1080 1285.2,1095.6 1285.7,1085.3 1286.3,1081.5 1286.8,1100.7 1287.3,1093.3 1287.8,1080 1288.3,1083.9 1288.8,1094.9 1289.3,1087.6 1289.8,1101.2 1290.3,1096 1290.9,1102.6 1291.4,1066.9 1291.9,1075.7 1292.4,1103.3 1292.9,1086.8 1293.4,1084.8 1293.9,1085.8 1294.4,1089.4 1294.9,1102.4 1295.5,1078.7 1296,1056.2 1296.5,1079.9 1297,1098.8 1297.5,1100.9 1298,1079.1 1298.5,1084.9 1299,1113.8 1299.5,1126.8 1300.1,1104.2 1300.6,1096.6 1301.1,1078.2 1301.6,1075.7 1302.1,1074.1 1302.6,1099.8 1303.1,1077.4 1303.6,1097.3 1304.1,1105.1 1304.7,1106.6 1305.2,1086.2 1305.7,1101.8 1306.2,1099.9 1306.7,1102.3 1307.2,1087.9 1307.7,1094.8 1308.2,1110.6 1308.7,1092.6 1309.3,1078.4 1309.8,1103.9 1310.3,1070.3 1310.8,1094.4 1311.3,1111.3 1311.8,1100.6 1312.3,1067.1 1312.8,1099 1313.3,1087.4 1313.9,1090.1 1314.4,1084.1 1314.9,1115.1 1315.4,1077.6 1315.9,1101.3 1316.4,1084.2 1316.9,1084.9 1317.4,1093.4 1317.9,1105.9 1318.5,1105.5 1319,1076.8 1319.5,1089.8 1320,1083.4 1320.5,1104.7 1321,1099.2 1321.5,1087.1 1322,1096.3 1322.5,1078.9 1323.1,1070.1 1323.6,1103.8 1324.1,1092.3 1324.6,1081.2 1325.1,1097.6 1325.6,1069.4 1326.1,1068.6 1326.6,1078.6 1327.2,1080.1 1327.7,1086.8 1328.2,1073.4 1328.7,1052.7 1329.2,1074.9 1329.7,1079.3 1330.2,1062.2 1330.7,1071.4 1331.2,1083.5 1331.8,1089.8 1332.3,1110.9 1332.8,1065.8 1333.3,1080.6 1333.8,1076.4 1334.3,1081.2 1334.8,1070.8 1335.3,1093 1335.8,1113.4 1336.4,1072.2 1336.9,1095.2 1337.4,1063.9 1337.9,1092.4 1338.4,1086 1338.9,1079.6 1339.4,1080.4 1339.9,1055.2 1340.4,1076.6 1341,1084.5 1341.5,1099.5 1342,1091.2 1342.5,1076.1 1343,1082.2 1343.5,1089.3 1344,1077.2 1344.5,1086.1 1345,1067.5 1345.6,1119.8 1346.1,1118.8 1346.6,1092.6 1347.1,1085.9 1347.6,1081.9 1348.1,1077 1348.6,1073.5 1349.1,1113.8 1349.6,1088.5 1350.2,1107 1350.7,1067.7 1351.2,1103.1 1351.7,1082.9 1352.2,1083.7 1352.7,1089 1353.2,1079.6 1353.7,1088.4 1354.2,1076.7 1354.8,1080.9 1355.3,1093.3 1355.8,1076.8 1356.3,1097.5 1356.8,1088.9 1357.3,1087.5 1357.8,1081.3 1358.3,1081 1358.8,1084.2 1359.4,1070.8 1359.9,1082.1 1360.4,1047.3 1360.9,1077.9 1361.4,1064.1 1361.9,1070.5 1362.4,1091.5 1362.9,1059.9 1363.4,1069 1364,1038.7 1364.5,1091.6 1365,1073.2 1365.5,1066 1366,1078 1366.5,1060.5 1367,1097.4 1367.5,1071.4 1368,1080.2 1368.6,1056.9 1369.1,1046.4 1369.6,1062.3 1370.1,1058.8 1370.6,1070.8 1371.1,1078.9 1371.6,1050.9 1372.1,1062.8 1372.6,1040 1373.2,1067.2 1373.7,1056.3 1374.2,1060.3 1374.7,1069.6 1375.2,1023 1375.7,1053.5 1376.2,1070.6 1376.7,1066.7 1377.3,1062.9 1377.8,1043.3 1378.3,1055.4 1378.8,1042.4 1379.3,1049.5 1379.8,1032 1380.3,1023.5 1380.8,1047.9 1381.3,1052.9 1381.9,1042.1 1382.4,1036.1 1382.9,1069.9 1383.4,1043.2 1383.9,1077 1384.4,1046.2 1384.9,1035.9 1385.4,1024.6 1385.9,1031.3 1386.5,1040 1387,1023.8 1387.5,1023.6 1388,1050.2 1388.5,1049.2 1389,1044.1 1389.5,1027.5 1390,1054.1 1390.5,1032.2 1391.1,1049 1391.6,1032.8 1392.1,1048.2 1392.6,1033.3 1393.1,1050.6 1393.6,1039.1 1394.1,1021.4 1394.6,1038.1 1395.1,1023.3 1395.7,1039.5 1396.2,1024.3 1396.7,1044.9 1397.2,1029.8 1397.7,1020.2 1398.2,1054.5 1398.7,1029.9 1399.2,1044.2 1399.7,1037.7 1400.3,1038 1400.8,1033.4 1401.3,1031.3 1401.8,1052.9 1402.3,993.7 1402.8,1032.8 1403.3,1018.8 1403.8,1016.7 1404.3,1037.6 1404.9,1014 1405.4,1034.6 1405.9,1044.8 1406.4,1049.2 1406.9,1041.2 1407.4,1060 1407.9,1032.1 1408.4,1054.2 1408.9,1048.2 1409.5,1041.6 1410,1017.4 1410.5,1037.5 1411,1057.1 1411.5,1029.8 1412,1052.2 1412.5,1039.8 1413,1063.3 1413.5,1048.5 1414.1,1058 1414.6,1056.7 1415.1,1040.9 1415.6,1064.3 1416.1,1080.9 1416.6,1042.7 1417.1,1063.2 1417.6,1049 1418.1,1061.5 1418.7,1045.9 1419.2,1086.8 1419.7,1062.6 1420.2,1083.7 1420.7,1069.4 1421.2,1065.6 1421.7,1042.9 1422.2,1059.1 1422.8,1062.6 1423.3,1069.9 1423.8,1066.4 1424.3,1055.4 1424.8,1075.1 1425.3,1075.8 1425.8,1065.7 1426.3,1051 1426.8,1068.2 1427.4,1072.8 1427.9,1065.1 1428.4,1066.5 1428.9,1081 1429.4,1066.3 1429.9,1086.9 1430.4,1063.9 1430.9,1060.9 1431.4,1059.1 1432,1070.5 1432.5,1060.8 1433,1059.7 1433.5,1067.3 1434,1066.1 1434.5,1102.2 1435,1069.5 1435.5,1059.5 1436,1078.8 1436.6,1058.9 1437.1,1078.8 1437.6,1078.6 1438.1,1082 1438.6,1053.6 1439.1,1050.3 1439.6,1079.6 1440.1,1072.3 1440.6,1067 1441.2,1092.9 1441.7,1060.2 1442.2,1072.3 1442.7,1081.2 1443.2,1038.5 1443.7,1062.3 1444.2,1050.7 1444.7,1074.1 1445.2,1091.1 1445.8,1073.6 1446.3,1076.2 1446.8,1092.9 1447.3,1063.3 1447.8,1066.7 1448.3,1089.5 1448.8,1073.8 1449.3,1089.1 1449.8,1096.5 1450.4,1078.3 1450.9,1065.5 1451.4,1098.1 1451.9,1080.7 1452.4,1080 1452.9,1097.7 1453.4,1061.6 1453.9,1067.1 1454.4,1061 1455,1087.5 1455.5,1082.7 1456,1074.3 1456.5,1074 1457,1075 1457.5,1087 1458,1067.3 1458.5,1094.1 1459,1093.7 1459.6,1096.1 1460.1,1050.2 1460.6,1087.6 1461.1,1061.9 1461.6,1053.2 1462.1,1082.4 1462.6,1073.6 1463.1,1053 1463.6,1050.6 1464.2,1063.9 1464.7,1068.9 1465.2,1073.5 1465.7,1061.4 1466.2,1034.4 1466.7,1058.4 1467.2,1052.6 1467.7,1074.7 1468.3,1055.6 1468.8,1074 1469.3,1042.7 1469.8,1051.1 1470.3,1041.2 1470.8,1050.1 1471.3,1051.3 1471.8,1057 1472.3,1066.1 1472.9,1052.4 1473.4,1057 1473.9,1052.7 1474.4,1056.5 1474.9,1059.6 1475.4,1043.3 1475.9,1067.6 1476.4,1061 1476.9,1041.9 1477.5,1021.6 1478,1033.4 1478.5,1051.6 1479,1059.8 1479.5,1028 1480,1039.6 1480.5,1048.8 1481,1047.5 1481.5,1045.1 1482.1,1027.8 1482.6,1044.8 1483.1,1029.6 1483.6,1022.4 1484.1,1042.6 1484.6,1044.8 1485.1,1033.2 1485.6,1027.4 1486.1,1023 1486.7,1063.7 1487.2,1050.1 1487.7,1021.8 1488.2,1023.4 1488.7,1063.1 1489.2,1037 1489.7,1048.6 1490.2,1049.1 1490.7,1051.7 1491.3,1053.3 1491.8,1022.2 1492.3,1013.8 1492.8,1035.5 1493.3,1050 1493.8,1036.2 1494.3,1043.5 1494.8,1032.2 1495.3,1034.2 1495.9,1012.9 1496.4,1028.4 1496.9,1025.5 1497.4,1025.6 1497.9,1032.2 1498.4,1022.7 1498.9,1034.7 1499.4,996.5 1499.9,1039.3 1500.5,1034.7 1501,1017.5 1501.5,1044.1 1502,1022.4 1502.5,1030 1503,1037.8 1503.5,1042.1 1504,1021.5 1504.5,1037.9 1505.1,1018.8 1505.6,1033.9 1506.1,1042.6 1506.6,1022.8 1507.1,1016 1507.6,1036.2 1508.1,1019.2 1508.6,1044.8 1509.1,1030.5 1509.7,1044.6 1510.2,1048.5 1510.7,1009.5 1511.2,1038.2 1511.7,1024.3 1512.2,1041.9 1512.7,1034.8 1513.2,1033.5 1513.8,1059.3 1514.3,1020.1 1514.8,1049.3 1515.3,1054.6 1515.8,1045.7 1516.3,1060.1 1516.8,1062.3 1517.3,1030.8 1517.8,1040.8 1518.4,1030.1 1518.9,1052.5 1519.4,1025.6 1519.9,1041 1520.4,1065.7 1520.9,1073.2 1521.4,1045.9 1521.9,1076.3 1522.4,1063.1 1523,1052.3 1523.5,1020.8 1524,1055 1524.5,1025.5 1525,1060.6 1525.5,1080 1526,1050.5 1526.5,1062.5 1527,1056 1527.6,1066.9 1528.1,1080.2 1528.6,1057.9 1529.1,1066.1 1529.6,1060.8 1530.1,1036.7 1530.6,1036 1531.1,1041.5 1531.6,1058.3 1532.2,1034.6 1532.7,1086.2 1533.2,1054.5 1533.7,1063.7 1534.2,1071.3 1534.7,1033.9 1535.2,1064.1 1535.7,1070.9 1536.2,1073.2 1536.8,1083.6 1537.3,1074 1537.8,1060.7 1538.3,1071.6 1538.8,1076.1 1539.3,1052.9 1539.8,1103.7 1540.3,1057 1540.8,1056.2 1541.4,1032.3 1541.9,1047.3 1542.4,1044.5 1542.9,1073.3 1543.4,1034.4 1543.9,1051.6 1544.4,1068.8 1544.9,1068 1545.4,1054.5 1546,1043.9 1546.5,1072.3 1547,1077.7 1547.5,1055.2 1548,1057.1 1548.5,1054.1 1549,1064 1549.5,1074.1 1550,1032.3 1550.6,1045.2 1551.1,1059.2 1551.6,1050.8 1552.1,1064.6 1552.6,1071.2 1553.1,1050.5 1553.6,1067.1 1554.1,1060.3 1554.6,1038.3 1555.2,1041.6 1555.7,1051.6 1556.2,1045.5 1556.7,1064.8 1557.2,1040.5 1557.7,1055.8 1558.2,1054.7 1558.7,1067.7 1559.3,1066.3 1559.8,1072.5 1560.3,1068.9 1560.8,1056.1 1561.3,1085.5 1561.8,1064.4 1562.3,1077.1 1562.8,1053.7 1563.3,1045.6 1563.9,1063.2 1564.4,1072.5 1564.9,1067.5 1565.4,1063.2 1565.9,1054.9 1566.4,1035.5 1566.9,1045.2 1567.4,1066.7 1567.9,1059.8 1568.5,1051.5 1569,1061.9 1569.5,1039.4 1570,1036.1 1570.5,1042.6 1571,1044.5 1571.5,1066.9 1572,1060.1 1572.5,1053 1573.1,1047.8 1573.6,1053.4 1574.1,1050 1574.6,1066.3 1575.1,1037.9 1575.6,1082.3 1576.1,1054.9 1576.6,1048.7 1577.1,1052.9 1577.7,1041.8 1578.2,1060.2 1578.7,1044.8 1579.2,1031.7 1579.7,1071 1580.2,1058.1 1580.7,1034 1581.2,1058.4 1581.7,1043.4 1582.3,1047.5 1582.8,1083.2 1583.3,1036 1583.8,1027.8 1584.3,1065.7 1584.8,1046.3 1585.3,1046.3 1585.8,1048.6 1586.3,1056.9 1586.9,1045 1587.4,1062.8 1587.9,1053.8 1588.4,1042.3 1588.9,1015.4 1589.4,1043.1 1589.9,1068.2 1590.4,1072.1 1590.9,1057 1591.5,1056.7 1592,1046.8 1592.5,1062 1593,1054.1 1593.5,1041.1 1594,1051.7 1594.5,1023.5 1595,1027.3 1595.5,1046 1596.1,1040.8 1596.6,1041.2 1597.1,1039.5 1597.6,1025 1598.1,1034.9 1598.6,1052.5 1599.1,1040.1 1599.6,1041.9 1600.1,1029.5 1600.7,1023.6 1601.2,1046.1 1601.7,1047.1 1602.2,1042.1 1602.7,1015.4 1603.2,1045.2 1603.7,1032.6 1604.2,1047.9 1604.7,1031.1 1605.3,1027.3 1605.8,1031.5 1606.3,1045.6 1606.8,1038.1 1607.3,1046.5 1607.8,1045 1608.3,1021.7 1608.8,1036.4 1609.4,1007.8 1609.9,1001.9 1610.4,1036.4 1610.9,1016 1611.4,1006.1 1611.9,1021.6 1612.4,1023.9 1612.9,979.8 1613.4,1002.6 1614,1012.4 1614.5,1006.7 1615,1052.5 1615.5,1011.1 1616,1020.2 1616.5,1008.1 1617,1030.7 1617.5,1000.6 1618,1001.6 1618.6,992.5 1619.1,1011.4 1619.6,999.2 1620.1,994.5 1620.6,1008.2 1621.1,1009.5 1621.6,969.6 1622.1,986.9 1622.6,978.5 1623.2,979.6 1623.7,996.1 1624.2,970.9 1624.7,980.4 1625.2,990.4 1625.7,988.5 1626.2,1003.2 1626.7,981.3 1627.2,971 1627.8,977.8 1628.3,1003.8 1628.8,989.3 1629.3,974 1629.8,981.6 1630.3,995.1 1630.8,991.2 1631.3,997.3 1631.8,1000.4 1632.4,989.3 1632.9,990.8 1633.4,1010.7 1633.9,1003.5 1634.4,990.7 1634.9,1013.8 1635.4,1004.9 1635.9,983.2 1636.4,983 1637,973.9 1637.5,959.9 1638,983 1638.5,1022.5 1639,975.8 1639.5,989.4 1640,996.2 1640.5,1009.3 1641,986.9 1641.6,1011.5 1642.1,1015 1642.6,1008.4 1643.1,971.6 1643.6,983.6 1644.1,988 1644.6,1009.5 1645.1,1000.8 1645.6,998.2 1646.2,988.2 1646.7,986 1647.2,971.8 1647.7,967.2 1648.2,1004.1 1648.7,1003.1 1649.2,1004.4 1649.7,979.9 1650.2,1011.6 1650.8,1025.4 1651.3,996.7 1651.8,992.4 1652.3,1005.1 1652.8,979.4 1653.3,994.9 1653.8,986.3 1654.3,997.9 1654.9,1006.7 1655.4,1002.7 1655.9,1010.2 1656.4,985.9 1656.9,999.7 1657.4,1013.8 1657.9,998 1658.4,1003.2 1658.9,1019.1 1659.5,1028.7 1660,1005.9 1660.5,1029.4 1661,1008 1661.5,1019.4 1662,1001.1 1662.5,1018.8 1663,1022.5 1663.5,990.2 1664.1,1004.5 1664.6,1011.7 1665.1,1027.7 1665.6,1022.4 1666.1,1018.7 1666.6,1000.4 1667.1,1024.6 1667.6,1050.9 1668.1,1028.9 1668.7,1032.4 1669.2,1030.7 1669.7,1031.5 1670.2,1033.4 1670.7,1014.8 1671.2,1041.7 1671.7,1002 1672.2,999.9 1672.7,1022.2 1673.3,1013.5 1673.8,1007.9 1674.3,1013.9 1674.8,995.9 1675.3,1036.5"/>
<g stroke="#000" stroke-width="5" stroke-linecap="round" fill="none">
<path d="M141.6 28.8 V1289.5"/>
<path d="M141.6 1265.2 H1675.3" stroke-linecap="butt"/>
<path d="M269.4 1265.2 v11.5 M397.2 1265.2 v24.3 M525 1265.2 v11.5 M652.8 1265.2 v24.3 M780.6 1265.2 v11.5 M908.5 1265.2 v24.3 M1036.3 1265.2 v11.5 M1164.1 1265.2 v24.3 M1291.9 1265.2 v11.5 M1419.7 1265.2 v24.3 M1547.5 1265.2 v11.5 M1675.3 1265.2 v24.3"/>
</g>
<g font-family='"Liberation Sans", Arial, Helvetica, sans-serif' font-size="54" text-anchor="middle" fill="#000">
<text transform="translate(141 1346.5) scale(1 1.010)" x="0" y="0">20</text>
<text transform="translate(396.6 1346.5) scale(1 1.010)" x="0" y="0">30</text>
<text transform="translate(652.2 1346.5) scale(1 1.010)" x="0" y="0">40</text>
<text transform="translate(907.9 1346.5) scale(1 1.010)" x="0" y="0">50</text>
<text transform="translate(1163.5 1346.5) scale(1 1.010)" x="0" y="0">60</text>
<text transform="translate(1419.1 1346.5) scale(1 1.010)" x="0" y="0">70</text>
<text transform="translate(1674.7 1346.5) scale(1 1.010)" x="0" y="0">80</text>
</g>
<text transform="translate(777 1450.8) scale(1.000 1.030)" x="-3.2" y="0" font-family='"Liberation Sans", Arial, Helvetica, sans-serif' font-size="64.5" fill="#000">2</text>
<text transform="translate(814.2 1450.8) scale(1.090 1.000)" x="-3.1" y="0" font-family='"Liberation Serif", "Times New Roman", serif' font-size="66" fill="#000">θ</text>
<text transform="translate(848 1450.8) scale(1.050 1.000)" x="-2.5" y="0" font-family='"Liberation Serif", "Times New Roman", serif' font-size="66" fill="#000">,</text>
<text transform="translate(880 1450.8) scale(1.000 1.030)" x="-2.7" y="0" font-family='"Liberation Sans", Arial, Helvetica, sans-serif' font-size="64.5" fill="#000">deg.</text>
<text transform="translate(75.2 878.3) rotate(-90) scale(1.011 1.04)" font-family='"Liberation Sans", Arial, Helvetica, sans-serif' font-size="64.5" fill="#000">Intensity, a. u.</text>
<g font-family='"Liberation Sans", Arial, Helvetica, sans-serif' font-size="54" fill="#000" stroke="#000" stroke-width="1.1" stroke-linejoin="miter">
<text transform="translate(625.6 852.5) scale(1 1.224)" x="-12.7" y="37.7">^</text>
<text transform="translate(675.7 747.7) scale(1 1.224)" x="-12.7" y="37.7">^</text>
<text transform="translate(705 505.7) scale(1 1.224)" x="-12.7" y="37.7">^</text>
<text transform="translate(766.8 137.4) scale(1 1.224)" x="-12.7" y="37.7">^</text>
<text transform="translate(818.6 624.6) scale(1 1.224)" x="-12.7" y="37.7">^</text>
<text transform="translate(1127.8 952) scale(1 1.224)" x="-12.7" y="37.7">^</text>
<text transform="translate(1163.6 967.6) scale(1 1.224)" x="-12.7" y="37.7">^</text>
<text transform="translate(1400.3 958.8) scale(1 1.224)" x="-12.7" y="37.7">^</text>
<text transform="translate(1500.5 947.2) scale(1 1.224)" x="-12.7" y="37.7">^</text>
<text transform="translate(1634.3 904.3) scale(1 1.224)" x="-12.7" y="37.7">^</text>
</g>
<g font-family='"Liberation Sans", Arial, Helvetica, sans-serif' font-size="54.5" fill="#000" stroke="#000" stroke-width="1.1" stroke-linejoin="miter">
<text transform="translate(1387.2 144.7) scale(1 1.250)" x="-12.8" y="38">^</text>
</g>
<text transform="translate(1422.7 191.7) scale(1.000 1.030)" x="-1.5" y="0" font-family='"Liberation Sans", Arial, Helvetica, sans-serif' font-size="65" fill="#000">TiCu</text>
<text transform="translate(1558 213.3) scale(1.000 1.030)" x="-1.5" y="0" font-family='"Liberation Sans", Arial, Helvetica, sans-serif' font-size="38.5" fill="#000">3</text>
<text transform="translate(2148.3 695.6) scale(0.930 1.000)" x="-3.5" y="0" font-family='"Liberation Serif", "Times New Roman", serif' font-size="80.3" fill="#000">(</text>
<text transform="translate(2173 695.6) scale(0.950 1.000)" x="-2.6" y="0" font-family='"Liberation Serif", "Times New Roman", serif' font-size="81" font-weight="bold" fill="#000">a</text>
<text transform="translate(2211.7 695.6) scale(0.930 1.000)" x="-2.6" y="0" font-family='"Liberation Serif", "Times New Roman", serif' font-size="80.3" fill="#000">)</text>
</g>
<g id="chart-b" filter="url(#soft)">
<rect x="0" y="1652" width="1980" height="1611" fill="#fefefe"/>
<rect x="0" y="1652" width="1980" height="1611" fill="url(#dither)"/>
<path d="M5 1650.3 H1980" stroke="#e4efe6" stroke-width="3" stroke-dasharray="0.1 10.1" stroke-linecap="round" fill="none"/>
<polyline fill="none" stroke="#000" stroke-width="2.9" stroke-linejoin="round" stroke-linecap="round" points="141.9,2985.6 142.4,2986.2 143,2985 143.5,2983.8 144.1,2984.7 144.6,2983.6 145.2,2985.8 145.7,2988.5 146.3,2984.7 146.8,2984.4 147.4,2986.7 147.9,2986.5 148.5,2986 149,2983.8 149.6,2985.7 150.1,2987.2 150.7,2983 151.2,2984.8 151.8,2981.8 152.3,2983.1 152.9,2981.9 153.4,2985.3 154,2983.2 154.5,2986.4 155.1,2986.2 155.6,2985.5 156.1,2980.6 156.7,2984.8 157.2,2985.8 157.8,2986.1 158.3,2982.7 158.9,2984.9 159.4,2983.9 160,2984.3 160.5,2988.2 161.1,2984.3 161.6,2985.9 162.2,2987.9 162.7,2984.8 163.3,2985.8 163.8,2986.3 164.4,2986.2 164.9,2983.5 165.5,2986.2 166,2988.9 166.6,2982.8 167.1,2987.9 167.7,2986.4 168.2,2984.8 168.8,2990.3 169.3,2987.7 169.8,2983.6 170.4,2986.3 170.9,2987.4 171.5,2985.8 172,2987.6 172.6,2986.1 173.1,2987.6 173.7,2989.2 174.2,2984.8 174.8,2986.7 175.3,2985.3 175.9,2986.5 176.4,2983.8 177,2985.1 177.5,2985.9 178.1,2988.2 178.6,2988.7 179.2,2983.5 179.7,2984.7 180.3,2987.7 180.8,2982.2 181.4,2985.4 181.9,2986.2 182.5,2989 183,2987.8 183.5,2985.7 184.1,2985.6 184.6,2985.9 185.2,2989.6 185.7,2985.5 186.3,2985.8 186.8,2987.2 187.4,2986.2 187.9,2986.1 188.5,2984.1 189,2986.5 189.6,2985.6 190.1,2989 190.7,2987.9 191.2,2986.5 191.8,2987.9 192.3,2985.8 192.9,2988.8 193.4,2986.6 194,2987.8 194.5,2983.9 195.1,2987.3 195.6,2983.1 196.2,2982.3 196.7,2986 197.2,2984.7 197.8,2987 198.3,2991.4 198.9,2984.9 199.4,2985.4 200,2987.1 200.5,2987.7 201.1,2986.3 201.6,2986.3 202.2,2988.2 202.7,2987.8 203.3,2984.6 203.8,2986.6 204.4,2986.8 204.9,2984.6 205.5,2987.3 206,2985 206.6,2988.8 207.1,2987.2 207.7,2987 208.2,2985.6 208.8,2986.6 209.3,2982.7 209.8,2984.5 210.4,2987.6 210.9,2982.4 211.5,2988.7 212,2983.2 212.6,2988.5 213.1,2985.1 213.7,2988.6 214.2,2987.2 214.8,2983.7 215.3,2989.6 215.9,2990 216.4,2986.8 217,2986.4 217.5,2986.7 218.1,2984.9 218.6,2989.3 219.2,2985.9 219.7,2986.9 220.3,2985.4 220.8,2985.7 221.4,2984.4 221.9,2989.7 222.5,2986.7 223,2989.1 223.5,2987.1 224.1,2985.6 224.6,2986.4 225.2,2985.9 225.7,2987.1 226.3,2986.3 226.8,2986.5 227.4,2984.3 227.9,2985.5 228.5,2990.6 229,2985.8 229.6,2985 230.1,2987.9 230.7,2990.2 231.2,2984.2 231.8,2986.8 232.3,2985.9 232.9,2983.5 233.4,2988.8 234,2987.2 234.5,2987.4 235.1,2985.7 235.6,2988.2 236.2,2986.2 236.7,2987 237.2,2985 237.8,2984.8 238.3,2990.1 238.9,2986.3 239.4,2988 240,2987.3 240.5,2986.4 241.1,2986.3 241.6,2988.7 242.2,2986.7 242.7,2987.1 243.3,2987.4 243.8,2989.9 244.4,2988.8 244.9,2988.2 245.5,2986.2 246,2984.5 246.6,2989.4 247.1,2989.5 247.7,2987.2 248.2,2988.6 248.8,2989.1 249.3,2989.2 249.9,2989.4 250.4,2986.5 250.9,2990.7 251.5,2984.9 252,2989.3 252.6,2988.6 253.1,2989.4 253.7,2991.5 254.2,2990.7 254.8,2985.2 255.3,2984 255.9,2989.3 256.4,2985.5 257,2987.6 257.5,2989.4 258.1,2984.2 258.6,2983.2 259.2,2988.2 259.7,2987.7 260.3,2987.1 260.8,2987.8 261.4,2985.9 261.9,2984.5 262.5,2987.4 263,2985.7 263.6,2984.3 264.1,2988.8 264.6,2987.6 265.2,2988.6 265.7,2985.7 266.3,2986.4 266.8,2985.7 267.4,2985.9 267.9,2988.2 268.5,2986.2 269,2988.6 269.6,2988.5 270.1,2992.1 270.7,2984.9 271.2,2989.7 271.8,2987.7 272.3,2987.8 272.9,2984.8 273.4,2986.9 274,2989.5 274.5,2987.7 275.1,2988.1 275.6,2987.3 276.2,2990.4 276.7,2987.9 277.3,2983.3 277.8,2986.5 278.3,2983.8 278.9,2981.2 279.4,2986.9 280,2990.8 280.5,2988.1 281.1,2985.6 281.6,2986.1 282.2,2990.4 282.7,2988.4 283.3,2988.2 283.8,2988 284.4,2988.2 284.9,2989.8 285.5,2989.3 286,2988.6 286.6,2985.9 287.1,2989.2 287.7,2986.7 288.2,2990.4 288.8,2985.5 289.3,2987.9 289.9,2988.2 290.4,2985.4 291,2991.8 291.5,2991.3 292,2987.2 292.6,2989.8 293.1,2989 293.7,2982.8 294.2,2988.8 294.8,2988.1 295.3,2988.4 295.9,2986 296.4,2987.7 297,2987.9 297.5,2990.8 298.1,2989 298.6,2988.3 299.2,2991.5 299.7,2987.2 300.3,2987.5 300.8,2984.5 301.4,2991.7 301.9,2990.4 302.5,2990.3 303,2989.8 303.6,2988.6 304.1,2988.9 304.7,2987.9 305.2,2988 305.7,2988.5 306.3,2991.6 306.8,2989.6 307.4,2988.3 307.9,2987.2 308.5,2987.1 309,2991.8 309.6,2989.5 310.1,2988.6 310.7,2987.8 311.2,2986.2 311.8,2988.4 312.3,2990.3 312.9,2987.7 313.4,2988 314,2988.1 314.5,2988.8 315.1,2985.2 315.6,2988.1 316.2,2986.8 316.7,2990.4 317.3,2986.9 317.8,2989.8 318.4,2991.8 318.9,2987.9 319.4,2987.3 320,2989 320.5,2988.6 321.1,2986.5 321.6,2989.6 322.2,2992.8 322.7,2988.1 323.3,2988.2 323.8,2986.4 324.4,2989.3 324.9,2986 325.5,2986.3 326,2991.3 326.6,2986.7 327.1,2990.9 327.7,2991.9 328.2,2989.2 328.8,2989.8 329.3,2992.8 329.9,2988.3 330.4,2987.4 331,2985.8 331.5,2988.8 332,2991.8 332.6,2990.7 333.1,2986.7 333.7,2986.9 334.2,2987.6 334.8,2989.3 335.3,2988.3 335.9,2989.1 336.4,2989.3 337,2988.1 337.5,2988.6 338.1,2989.1 338.6,2988.5 339.2,2989.8 339.7,2992.6 340.3,2989.9 340.8,2988.8 341.4,2985.2 341.9,2989.5 342.5,2984.6 343,2985.7 343.6,2990.5 344.1,2990.2 344.7,2988.4 345.2,2985.1 345.7,2987.9 346.3,2987.3 346.8,2990 347.4,2993.4 347.9,2989.2 348.5,2987.1 349,2986.2 349.6,2988.6 350.1,2988.3 350.7,2986.3 351.2,2988.9 351.8,2986.3 352.3,2991 352.9,2990.9 353.4,2991 354,2987.7 354.5,2989.8 355.1,2988.4 355.6,2987.9 356.2,2988 356.7,2986 357.3,2985.7 357.8,2990.3 358.4,2988.3 358.9,2989.1 359.4,2990.8 360,2985 360.5,2987 361.1,2989 361.6,2989.5 362.2,2987.9 362.7,2990.8 363.3,2989.1 363.8,2986.1 364.4,2986.7 364.9,2990.4 365.5,2989.6 366,2984.7 366.6,2991.5 367.1,2989.9 367.7,2991.5 368.2,2987.8 368.8,2988 369.3,2986.3 369.9,2994 370.4,2988.3 371,2992 371.5,2987.3 372.1,2989 372.6,2985.1 373.1,2987.8 373.7,2990.7 374.2,2986 374.8,2990.9 375.3,2989.3 375.9,2986.4 376.4,2987.6 377,2987.7 377.5,2988.5 378.1,2987.5 378.6,2986.9 379.2,2988 379.7,2986.5 380.3,2985.9 380.8,2988.5 381.4,2990.5 381.9,2985.4 382.5,2988.6 383,2987.2 383.6,2986.5 384.1,2990.4 384.7,2987.5 385.2,2991.7 385.8,2986.9 386.3,2989.4 386.8,2988.1 387.4,2987 387.9,2989.8 388.5,2988.2 389,2989.8 389.6,2988.5 390.1,2986.3 390.7,2988.3 391.2,2988.7 391.8,2990.6 392.3,2986.6 392.9,2988.5 393.4,2984.9 394,2989.9 394.5,2986.3 395.1,2984.7 395.6,2988.4 396.2,2990.8 396.7,2985.3 397.3,2986.2 397.8,2987 398.4,2986.1 398.9,2989.3 399.5,2986.8 400,2987 400.5,2989.7 401.1,2986.9 401.6,2989.4 402.2,2986.4 402.7,2985.9 403.3,2984.6 403.8,2992.4 404.4,2987.8 404.9,2989 405.5,2988.4 406,2988.8 406.6,2988.6 407.1,2992.5 407.7,2986.3 408.2,2985.2 408.8,2986.3 409.3,2985.6 409.9,2990 410.4,2990.2 411,2986.4 411.5,2985.5 412.1,2987.7 412.6,2991.3 413.2,2982.5 413.7,2989.5 414.2,2986.2 414.8,2990.6 415.3,2986.1 415.9,2987.8 416.4,2985.2 417,2986.3 417.5,2991.3 418.1,2990.1 418.6,2987.5 419.2,2986.5 419.7,2984.4 420.3,2987.5 420.8,2988.3 421.4,2988.2 421.9,2988.2 422.5,2986 423,2988.2 423.6,2988.3 424.1,2991.1 424.7,2992.3 425.2,2988 425.8,2986.7 426.3,2988.2 426.9,2987 427.4,2986.8 427.9,2988.2 428.5,2986.1 429,2989.6 429.6,2988.1 430.1,2988.8 430.7,2987.9 431.2,2986.8 431.8,2986.3 432.3,2987.8 432.9,2987.1 433.4,2988.8 434,2988.3 434.5,2985.4 435.1,2988.4 435.6,2985.4 436.2,2987 436.7,2987.6 437.3,2983.9 437.8,2988.4 438.4,2988.6 438.9,2987.9 439.5,2987.3 440,2987.4 440.5,2986.2 441.1,2987.7 441.6,2987.1 442.2,2988.4 442.7,2985.7 443.3,2988.7 443.8,2988.5 444.4,2987.9 444.9,2987.3 445.5,2989.3 446,2984.7 446.6,2989.1 447.1,2988.7 447.7,2988.8 448.2,2989 448.8,2986.8 449.3,2987.6 449.9,2989.5 450.4,2989 451,2988.6 451.5,2985 452.1,2989.3 452.6,2990.6 453.2,2990.2 453.7,2988.6 454.2,2984.8 454.8,2990.1 455.3,2987.8 455.9,2982.8 456.4,2988.9 457,2984.9 457.5,2985.3 458.1,2986.7 458.6,2990.7 459.2,2987.3 459.7,2988.6 460.3,2991.7 460.8,2991.4 461.4,2987.8 461.9,2987.5 462.5,2985.4 463,2986.5 463.6,2988.9 464.1,2988.8 464.7,2988.2 465.2,2990.1 465.8,2986.3 466.3,2987.8 466.9,2989.5 467.4,2989.2 467.9,2990.2 468.5,2988.8 469,2987.3 469.6,2988.7 470.1,2985.8 470.7,2984.5 471.2,2989.1 471.8,2987.8 472.3,2988.5 472.9,2984.3 473.4,2987.1 474,2986.6 474.5,2986 475.1,2983.1 475.6,2987.1 476.2,2989.7 476.7,2988.6 477.3,2986.5 477.8,2987.8 478.4,2989.4 478.9,2982 479.5,2987.5 480,2988.9 480.6,2989.2 481.1,2991.3 481.6,2990.1 482.2,2988.4 482.7,2988.3 483.3,2989.3 483.8,2986.5 484.4,2987.6 484.9,2989.5 485.5,2991.7 486,2987.3 486.6,2987.5 487.1,2988 487.7,2990.4 488.2,2987.5 488.8,2990.6 489.3,2985.5 489.9,2987.1 490.4,2987.1 491,2989.1 491.5,2989.7 492.1,2984.3 492.6,2985.5 493.2,2988.1 493.7,2986 494.3,2984.2 494.8,2989.6 495.3,2988.4 495.9,2988.4 496.4,2986.3 497,2989.5 497.5,2986.8 498.1,2989.6 498.6,2985.4 499.2,2985.5 499.7,2987.7 500.3,2985.8 500.8,2988.6 501.4,2987.7 501.9,2985.2 502.5,2987.3 503,2986.4 503.6,2989 504.1,2985.8 504.7,2986.2 505.2,2989.6 505.8,2991.7 506.3,2991.2 506.9,2987.1 507.4,2987.4 508,2990.2 508.5,2986.6 509,2984.8 509.6,2987 510.1,2987.7 510.7,2984.9 511.2,2983.1 511.8,2983.5 512.3,2987.8 512.9,2984.7 513.4,2985.9 514,2986.5 514.5,2987.3 515.1,2985.1 515.6,2986.8 516.2,2983.7 516.7,2984.7 517.3,2983.2 517.8,2987.6 518.4,2985 518.9,2983.3 519.5,2984 520,2984.1 520.6,2985.9 521.1,2981 521.7,2982 522.2,2983.2 522.7,2989.2 523.3,2985.7 523.8,2983.3 524.4,2984.9 524.9,2987.6 525.5,2982.7 526,2982.3 526.6,2985.4 527.1,2983.8 527.7,2984.1 528.2,2981.5 528.8,2986.4 529.3,2985.9 529.9,2983.4 530.4,2983.5 531,2977.7 531.5,2983.3 532.1,2981.4 532.6,2982.7 533.2,2983.1 533.7,2980.9 534.3,2978 534.8,2982.2 535.4,2979.8 535.9,2980.6 536.4,2979.9 537,2980.4 537.5,2976.2 538.1,2983.6 538.6,2981.5 539.2,2983.2 539.7,2985 540.3,2980.8 540.8,2976.9 541.4,2978.7 541.9,2978 542.5,2979.4 543,2980.6 543.6,2976.1 544.1,2981 544.7,2977 545.2,2980.8 545.8,2979.9 546.3,2979.4 546.9,2979.8 547.4,2978.8 548,2978.5 548.5,2976.2 549.1,2979.6 549.6,2983.5 550.1,2983.7 550.7,2982.2 551.2,2980.9 551.8,2977.9 552.3,2982.3 552.9,2979 553.4,2978.9 554,2978.4 554.5,2979.1 555.1,2977.9 555.6,2978.5 556.2,2976.3 556.7,2977.7 557.3,2983.1 557.8,2978.1 558.4,2977.6 558.9,2979.1 559.5,2979.3 560,2975.4 560.6,2977.2 561.1,2979.5 561.7,2978.1 562.2,2977.8 562.7,2980.8 563.3,2976.1 563.8,2977.7 564.4,2976.4 564.9,2980.6 565.5,2973.4 566,2976.1 566.6,2976.4 567.1,2978.9 567.7,2978.8 568.2,2980.5 568.8,2974.2 569.3,2979.1 569.9,2977 570.4,2976.2 571,2978.7 571.5,2975.7 572.1,2973.2 572.6,2976.8 573.2,2974.5 573.7,2976.3 574.3,2978.4 574.8,2978.3 575.4,2981 575.9,2977.3 576.4,2974.5 577,2976.1 577.5,2975.8 578.1,2975.2 578.6,2978.7 579.2,2976.4 579.7,2973.6 580.3,2979.3 580.8,2977.6 581.4,2978.6 581.9,2978.1 582.5,2979.2 583,2977.9 583.6,2980.5 584.1,2978.8 584.7,2978.7 585.2,2978.8 585.8,2974.9 586.3,2977.6 586.9,2977.4 587.4,2978.4 588,2975.1 588.5,2981.4 589.1,2978.2 589.6,2975.4 590.1,2974.4 590.7,2977.4 591.2,2977.8 591.8,2976.5 592.3,2978.2 592.9,2976.7 593.4,2979.2 594,2976.5 594.5,2977.9 595.1,2980 595.6,2983.3 596.2,2975.7 596.7,2976.8 597.3,2975.9 597.8,2979.2 598.4,2975 598.9,2976.3 599.5,2977.1 600,2974.9 600.6,2974.8 601.1,2975.6 601.7,2972 602.2,2973.2 602.8,2975.2 603.3,2976.2 603.8,2975.3 604.4,2971.7 604.9,2974.3 605.5,2976.7 606,2976 606.6,2974.5 607.1,2972.6 607.7,2975.6 608.2,2972.8 608.8,2971.4 609.3,2972 609.9,2976.6 610.4,2973.8 611,2975.7 611.5,2972.1 612.1,2974.9 612.6,2971.5 613.2,2972.2 613.7,2977.6 614.3,2973.9 614.8,2971 615.4,2971.7 615.9,2972.4 616.5,2974.1 617,2970.4 617.5,2967.6 618.1,2970.5 618.6,2971 619.2,2971 619.7,2973.4 620.3,2971.1 620.8,2972 621.4,2967.8 621.9,2971.8 622.5,2974.2 623,2971.3 623.6,2970 624.1,2969.6 624.7,2972.9 625.2,2967.1 625.8,2968.6 626.3,2969.7 626.9,2970.1 627.4,2967.5 628,2968.9 628.5,2967.6 629.1,2968.3 629.6,2967.6 630.2,2965.3 630.7,2967.5 631.2,2969.3 631.8,2965.3 632.3,2966.7 632.9,2968.4 633.4,2964.6 634,2967.1 634.5,2964.4 635.1,2968.9 635.6,2971.2 636.2,2970.5 636.7,2965.6 637.3,2967.5 637.8,2966.1 638.4,2965.9 638.9,2968.8 639.5,2962.6 640,2967.5 640.6,2965 641.1,2967.9 641.7,2965.2 642.2,2963.3 642.8,2965.1 643.3,2966 643.9,2964.4 644.4,2965.2 644.9,2962.9 645.5,2959.4 646,2965.7 646.6,2965.1 647.1,2963.8 647.7,2963.5 648.2,2965.5 648.8,2962.2 649.3,2961.5 649.9,2962.5 650.4,2965.2 651,2959.7 651.5,2965 652.1,2961 652.6,2959.9 653.2,2964.7 653.7,2961.7 654.3,2959 654.8,2960.8 655.4,2963.3 655.9,2963.7 656.5,2960.2 657,2961.7 657.6,2962.2 658.1,2959.1 658.6,2961 659.2,2960 659.7,2958.7 660.3,2958.6 660.8,2959.6 661.4,2959.3 661.9,2957.8 662.5,2957.8 663,2960.8 663.6,2958.7 664.1,2959.8 664.7,2960.2 665.2,2958.7 665.8,2961.9 666.3,2955.2 666.9,2958.3 667.4,2955.6 668,2959.9 668.5,2959.3 669.1,2951.3 669.6,2953.1 670.2,2956.2 670.7,2956.1 671.3,2955.7 671.8,2953.6 672.3,2954.4 672.9,2954.4 673.4,2952.5 674,2954.4 674.5,2947 675.1,2952.6 675.6,2948.6 676.2,2952.2 676.7,2949.1 677.3,2947.1 677.8,2949 678.4,2945.5 678.9,2944.8 679.5,2942.6 680,2945 680.6,2945.2 681.1,2945.5 681.7,2942.2 682.2,2943.9 682.8,2940.9 683.3,2939.8 683.9,2940.4 684.4,2940.5 684.9,2936.7 685.5,2936 686,2935.2 686.6,2934.8 687.1,2931.7 687.7,2934.8 688.2,2930.7 688.8,2931.4 689.3,2927.4 689.9,2928.6 690.4,2927.4 691,2924.3 691.5,2928.1 692.1,2923.3 692.6,2924.9 693.2,2921.9 693.7,2917.2 694.3,2916.6 694.8,2917.2 695.4,2915.2 695.9,2914 696.5,2912.2 697,2907.9 697.6,2910.1 698.1,2904.8 698.6,2909.2 699.2,2905.8 699.7,2904.8 700.3,2904.9 700.8,2905 701.4,2900.5 701.9,2898.9 702.5,2899.5 703,2896.6 703.6,2898 704.1,2902.6 704.7,2896.2 705.2,2899 705.8,2894 706.3,2896.6 706.9,2894.5 707.4,2894.2 708,2894.8 708.5,2896.5 709.1,2892.4 709.6,2891.5 710.2,2888.4 710.7,2890.9 711.3,2888.3 711.8,2889.7 712.3,2887 712.9,2889.8 713.4,2881 714,2883.6 714.5,2884.9 715.1,2881.2 715.6,2879.2 716.2,2879.1 716.7,2875.6 717.3,2877.7 717.8,2881.5 718.4,2877.7 718.9,2872 719.5,2871.5 720,2871.5 720.6,2873.5 721.1,2868.7 721.7,2868 722.2,2870.2 722.8,2869.1 723.3,2865.3 723.9,2862.5 724.4,2860.3 725,2860.8 725.5,2856.4 726,2861.4 726.6,2857.4 727.1,2858.8 727.7,2860.6 728.2,2858.1 728.8,2852.1 729.3,2855.4 729.9,2855.1 730.4,2850.4 731,2849.6 731.5,2851.3 732.1,2848.3 732.6,2855 733.2,2847.2 733.7,2850.4 734.3,2852.7 734.8,2853.3 735.4,2854.8 735.9,2856 736.5,2856.3 737,2860.5 737.6,2855.2 738.1,2861.3 738.7,2861.7 739.2,2865.6 739.7,2868.2 740.3,2868.2 740.8,2871 741.4,2876.2 741.9,2877.4 742.5,2877.4 743,2885.3 743.6,2887.9 744.1,2882 744.7,2887.6 745.2,2894.2 745.8,2892.5 746.3,2893.1 746.9,2893.9 747.4,2894.7 748,2896.7 748.5,2897.3 749.1,2901.2 749.6,2899.8 750.2,2900.6 750.7,2899.6 751.3,2902.5 751.8,2901.1 752.4,2903 752.9,2905.9 753.4,2904.8 754,2905.4 754.5,2905.3 755.1,2904.9 755.6,2904.8 756.2,2904.6 756.7,2907.1 757.3,2903.4 757.8,2908.7 758.4,2906.2 758.9,2904.8 759.5,2905.5 760,2905.3 760.6,2907.3 761.1,2905.6 761.7,2909.6 762.2,2905.8 762.8,2902.8 763.3,2906.2 763.9,2903.7 764.4,2908 765,2910.6 765.5,2910 766.1,2906.1 766.6,2907.6 767.1,2913.3 767.7,2910.6 768.2,2910.5 768.8,2913.2 769.3,2916.7 769.9,2914.9 770.4,2913.1 771,2914.2 771.5,2915.5 772.1,2913.6 772.6,2913.3 773.2,2916.3 773.7,2915 774.3,2917.6 774.8,2918.8 775.4,2924.3 775.9,2918.5 776.5,2921 777,2921.8 777.6,2924 778.1,2926.3 778.7,2924 779.2,2924.2 779.8,2923.4 780.3,2925.7 780.8,2929.6 781.4,2929.3 781.9,2927.8 782.5,2929.8 783,2931.3 783.6,2932.9 784.1,2931.1 784.7,2932.4 785.2,2929.6 785.8,2931.6 786.3,2937.9 786.9,2930.4 787.4,2934.8 788,2936.5 788.5,2935.8 789.1,2935.4 789.6,2937.5 790.2,2938.2 790.7,2938.6 791.3,2935.4 791.8,2939.6 792.4,2938.7 792.9,2940 793.4,2942.2 794,2943.7 794.5,2944.8 795.1,2942.5 795.6,2946 796.2,2947.1 796.7,2947.6 797.3,2948.6 797.8,2945.9 798.4,2946.3 798.9,2948.9 799.5,2944.8 800,2948.5 800.6,2947.4 801.1,2948.2 801.7,2945.8 802.2,2948 802.8,2950.2 803.3,2952.6 803.9,2953.2 804.4,2951.4 805,2951.6 805.5,2950.6 806.1,2953.7 806.6,2952.7 807.1,2954.9 807.7,2957.8 808.2,2954.4 808.8,2951.8 809.3,2953.5 809.9,2952.6 810.4,2953.6 811,2959.2 811.5,2957.3 812.1,2954 812.6,2959 813.2,2960.6 813.7,2957.5 814.3,2957.1 814.8,2958.2 815.4,2959.8 815.9,2960.8 816.5,2962.2 817,2962.6 817.6,2962.8 818.1,2963.4 818.7,2962.2 819.2,2957.9 819.8,2961.1 820.3,2962.3 820.8,2961.1 821.4,2964.1 821.9,2961.7 822.5,2960.8 823,2966.1 823.6,2964.8 824.1,2964.1 824.7,2965.9 825.2,2966.5 825.8,2965.3 826.3,2959.7 826.9,2963.7 827.4,2964.4 828,2963.5 828.5,2966.2 829.1,2968.5 829.6,2965.2 830.2,2964 830.7,2970.8 831.3,2965.8 831.8,2964.3 832.4,2967.6 832.9,2968.1 833.5,2965.9 834,2969.2 834.5,2966.6 835.1,2965.9 835.6,2968.3 836.2,2969.7 836.7,2966.8 837.3,2969 837.8,2968.2 838.4,2974.5 838.9,2967.2 839.5,2971.7 840,2968.8 840.6,2968.8 841.1,2970.7 841.7,2971.1 842.2,2972 842.8,2970.1 843.3,2968.2 843.9,2968.4 844.4,2970.6 845,2970.7 845.5,2972.4 846.1,2970.4 846.6,2971.7 847.2,2972.7 847.7,2969.8 848.2,2966.4 848.8,2967 849.3,2966.4 849.9,2972.8 850.4,2967.6 851,2972 851.5,2970.6 852.1,2973 852.6,2971.5 853.2,2969.1 853.7,2968.9 854.3,2969.5 854.8,2969.6 855.4,2968.1 855.9,2969.2 856.5,2972.6 857,2965.6 857.6,2969.7 858.1,2967.2 858.7,2969.5 859.2,2970.8 859.8,2968.9 860.3,2970.6 860.9,2965.6 861.4,2971.1 861.9,2967.3 862.5,2969.7 863,2968.6 863.6,2962.6 864.1,2966.2 864.7,2968 865.2,2970.5 865.8,2967.6 866.3,2967.3 866.9,2963.5 867.4,2969.2 868,2969.8 868.5,2965.9 869.1,2965.1 869.6,2962 870.2,2967 870.7,2970.7 871.3,2966.3 871.8,2967.2 872.4,2965.5 872.9,2962.1 873.5,2966.8 874,2961.2 874.6,2963.1 875.1,2963.9 875.6,2965 876.2,2963.8 876.7,2963.5 877.3,2960.9 877.8,2959.6 878.4,2962.2 878.9,2960.4 879.5,2958.9 880,2958.8 880.6,2960.2 881.1,2957.2 881.7,2958 882.2,2957.2 882.8,2960.8 883.3,2961.1 883.9,2964.3 884.4,2956.7 885,2958.2 885.5,2961.4 886.1,2958.8 886.6,2958.4 887.2,2962.5 887.7,2958 888.3,2956.1 888.8,2955.6 889.3,2958.9 889.9,2958.7 890.4,2955 891,2955.6 891.5,2958.6 892.1,2958.6 892.6,2955.8 893.2,2958.3 893.7,2958 894.3,2952.9 894.8,2955.8 895.4,2957.1 895.9,2954.8 896.5,2951.4 897,2955.1 897.6,2957.1 898.1,2958.7 898.7,2950.7 899.2,2960.6 899.8,2952.7 900.3,2957 900.9,2957.5 901.4,2956.9 902,2955 902.5,2952.2 903,2955.9 903.6,2953 904.1,2949.1 904.7,2960.3 905.2,2955.8 905.8,2958.1 906.3,2952.3 906.9,2957.2 907.4,2957.4 908,2957.3 908.5,2954 909.1,2951.5 909.6,2953.6 910.2,2949.4 910.7,2950.4 911.3,2954.2 911.8,2952 912.4,2953.8 912.9,2954 913.5,2958.3 914,2957.1 914.6,2954.4 915.1,2957.1 915.6,2953.1 916.2,2954.1 916.7,2956.9 917.3,2952.5 917.8,2954.7 918.4,2952.7 918.9,2955.9 919.5,2959.4 920,2954.6 920.6,2957 921.1,2955 921.7,2954.8 922.2,2954.9 922.8,2960.9 923.3,2963.2 923.9,2959.6 924.4,2957.5 925,2960.9 925.5,2959.2 926.1,2962.1 926.6,2961.5 927.2,2962 927.7,2963.2 928.3,2961.3 928.8,2962.2 929.3,2959.9 929.9,2963.1 930.4,2961.5 931,2964.7 931.5,2963.4 932.1,2966.1 932.6,2967.4 933.2,2963.9 933.7,2965.7 934.3,2965.9 934.8,2969.9 935.4,2972.3 935.9,2971 936.5,2968.9 937,2973.1 937.6,2967.2 938.1,2973.9 938.7,2969.7 939.2,2965.5 939.8,2977.1 940.3,2975.1 940.9,2969.9 941.4,2972.6 942,2972.1 942.5,2972.9 943,2969.8 943.6,2971.7 944.1,2974.3 944.7,2974 945.2,2976.2 945.8,2974.1 946.3,2979.1 946.9,2972.8 947.4,2975.1 948,2970.8 948.5,2972.4 949.1,2978 949.6,2973.4 950.2,2976.8 950.7,2975.7 951.3,2973.9 951.8,2975.5 952.4,2975.3 952.9,2975.6 953.5,2978.4 954,2978.3 954.6,2975.9 955.1,2975.3 955.7,2977.9 956.2,2977.3 956.7,2979.8 957.3,2983.4 957.8,2979.7 958.4,2978 958.9,2977.8 959.5,2976.5 960,2976.6 960.6,2976.5 961.1,2977.9 961.7,2977.9 962.2,2980.5 962.8,2978.2 963.3,2978.8 963.9,2976.7 964.4,2982.8 965,2980.5 965.5,2983.3 966.1,2981.3 966.6,2982.8 967.2,2979.3 967.7,2981.3 968.3,2985.6 968.8,2977.4 969.4,2982.4 969.9,2983.6 970.4,2980.9 971,2981.6 971.5,2982.7 972.1,2978.7 972.6,2981 973.2,2978.2 973.7,2978.7 974.3,2978.8 974.8,2979.8 975.4,2980.5 975.9,2981.1 976.5,2977.1 977,2984.4 977.6,2982.7 978.1,2981.8 978.7,2979.4 979.2,2980 979.8,2981.4 980.3,2981.1 980.9,2976.6 981.4,2981.8 982,2986.5 982.5,2976.3 983.1,2982.4 983.6,2981.1 984.1,2980 984.7,2983.2 985.2,2977.7 985.8,2980.6 986.3,2983.4 986.9,2979.9 987.4,2979.4 988,2980.6 988.5,2979.4 989.1,2983.7 989.6,2978.4 990.2,2982.2 990.7,2977.6 991.3,2981.8 991.8,2980.1 992.4,2974.8 992.9,2980.4 993.5,2978.1 994,2979.4 994.6,2983.7 995.1,2978 995.7,2978.1 996.2,2983.6 996.8,2980.7 997.3,2983.8 997.8,2981.2 998.4,2978.6 998.9,2980.4 999.5,2983.2 1000,2982.6 1000.6,2980.7 1001.1,2980.8 1001.7,2980.5 1002.2,2979.6 1002.8,2985.1 1003.3,2981 1003.9,2978.6 1004.4,2980.1 1005,2982.8 1005.5,2982.7 1006.1,2981.1 1006.6,2980 1007.2,2981.6 1007.7,2978 1008.3,2978.9 1008.8,2983.6 1009.4,2980.9 1009.9,2982.9 1010.5,2984.8 1011,2983.7 1011.5,2982.4 1012.1,2987.1 1012.6,2984 1013.2,2981.9 1013.7,2984.3 1014.3,2983.7 1014.8,2981.1 1015.4,2983.2 1015.9,2982.8 1016.5,2979 1017,2982.9 1017.6,2982.8 1018.1,2982.5 1018.7,2980 1019.2,2982.9 1019.8,2983.6 1020.3,2984 1020.9,2981.3 1021.4,2985.2 1022,2981.3 1022.5,2983.4 1023.1,2986.8 1023.6,2982.5 1024.2,2982.9 1024.7,2986.3 1025.2,2983.2 1025.8,2983.4 1026.3,2984.5 1026.9,2986.3 1027.4,2979.2 1028,2982.2 1028.5,2981.8 1029.1,2981.6 1029.6,2982.1 1030.2,2982.1 1030.7,2984.6 1031.3,2982 1031.8,2984.2 1032.4,2984.7 1032.9,2982.3 1033.5,2984.1 1034,2987.3 1034.6,2984.5 1035.1,2982.4 1035.7,2983.6 1036.2,2981.8 1036.8,2984.3 1037.3,2985.5 1037.8,2981.9 1038.4,2983.2 1038.9,2986 1039.5,2982.5 1040,2984 1040.6,2981.3 1041.1,2981.7 1041.7,2982.4 1042.2,2988 1042.8,2982.6 1043.3,2982.3 1043.9,2982.2 1044.4,2983 1045,2984.7 1045.5,2983.7 1046.1,2987.5 1046.6,2983.6 1047.2,2986.2 1047.7,2983.7 1048.3,2984.4 1048.8,2980 1049.4,2982.8 1049.9,2982.9 1050.5,2982.5 1051,2978.4 1051.5,2984.8 1052.1,2982.1 1052.6,2981.9 1053.2,2982.3 1053.7,2982.3 1054.3,2983.6 1054.8,2980.1 1055.4,2980.8 1055.9,2983.3 1056.5,2983 1057,2981.8 1057.6,2981.4 1058.1,2980.8 1058.7,2982.4 1059.2,2985 1059.8,2980.3 1060.3,2985.7 1060.9,2984.2 1061.4,2981.5 1062,2984.1 1062.5,2979.3 1063.1,2978.7 1063.6,2979.6 1064.2,2981.5 1064.7,2981.6 1065.2,2981.2 1065.8,2982.5 1066.3,2977.8 1066.9,2983.3 1067.4,2979.2 1068,2980.8 1068.5,2981.3 1069.1,2979.7 1069.6,2979.2 1070.2,2980 1070.7,2982 1071.3,2983.3 1071.8,2983.2 1072.4,2979.9 1072.9,2980.3 1073.5,2980 1074,2982.9 1074.6,2977.6 1075.1,2984.5 1075.7,2980.8 1076.2,2980.2 1076.8,2982.5 1077.3,2984 1077.9,2982.5 1078.4,2984 1078.9,2982 1079.5,2984.3 1080,2984.3 1080.6,2981.5 1081.1,2984.7 1081.7,2982 1082.2,2981.8 1082.8,2979.6 1083.3,2981 1083.9,2983.2 1084.4,2978.8 1085,2982.9 1085.5,2982.2 1086.1,2982 1086.6,2976.8 1087.2,2981.2 1087.7,2982.8 1088.3,2979.8 1088.8,2981.5 1089.4,2976.3 1089.9,2982.7 1090.5,2979.9 1091,2983.1 1091.6,2977.4 1092.1,2982.7 1092.6,2980.7 1093.2,2982.9 1093.7,2979.2 1094.3,2979.9 1094.8,2985.9 1095.4,2979.4 1095.9,2979.6 1096.5,2980.5 1097,2978.9 1097.6,2983.6 1098.1,2984.7 1098.7,2979.6 1099.2,2977.4 1099.8,2983.5 1100.3,2983.3 1100.9,2982.7 1101.4,2983.4 1102,2979.1 1102.5,2980.6 1103.1,2978 1103.6,2977.9 1104.2,2982.9 1104.7,2979.5 1105.3,2985.6 1105.8,2981 1106.3,2979.5 1106.9,2982.5 1107.4,2984.6 1108,2981.8 1108.5,2978.2 1109.1,2981.5 1109.6,2983.6 1110.2,2979.7 1110.7,2979.1 1111.3,2982.8 1111.8,2980.9 1112.4,2978.3 1112.9,2979.8 1113.5,2979 1114,2981.2 1114.6,2980.8 1115.1,2983 1115.7,2982 1116.2,2977.2 1116.8,2981.4 1117.3,2982.4 1117.9,2981.4 1118.4,2982.6 1119,2979.3 1119.5,2978.4 1120,2982.4 1120.6,2978.2 1121.1,2975.8 1121.7,2982.5 1122.2,2978.8 1122.8,2979.7 1123.3,2977.4 1123.9,2977.5 1124.4,2977.9 1125,2979.5 1125.5,2981 1126.1,2975.4 1126.6,2981.8 1127.2,2977.7 1127.7,2977.9 1128.3,2981.6 1128.8,2980 1129.4,2976.9 1129.9,2984 1130.5,2978.3 1131,2980.6 1131.6,2980.5 1132.1,2983 1132.7,2979.1 1133.2,2982.2 1133.7,2978.5 1134.3,2982.4 1134.8,2978.4 1135.4,2979.2 1135.9,2984 1136.5,2980.6 1137,2980.2 1137.6,2984.6 1138.1,2980.7 1138.7,2978.2 1139.2,2981.4 1139.8,2977.4 1140.3,2982.2 1140.9,2982.4 1141.4,2978.6 1142,2978.5 1142.5,2980.2 1143.1,2979.8 1143.6,2977.7 1144.2,2981 1144.7,2975.5 1145.3,2978.9 1145.8,2978.9 1146.3,2979.2 1146.9,2980.4 1147.4,2977.1 1148,2980.9 1148.5,2979.3 1149.1,2978.3 1149.6,2976.8 1150.2,2977.2 1150.7,2980.4 1151.3,2977.6 1151.8,2979.8 1152.4,2981.9 1152.9,2981.8 1153.5,2982.9 1154,2979 1154.6,2977.3 1155.1,2981.7 1155.7,2980.2 1156.2,2981.9 1156.8,2979.6 1157.3,2982.1 1157.9,2981.3 1158.4,2981.1 1159,2980.6 1159.5,2980.4 1160,2980 1160.6,2980 1161.1,2981.6 1161.7,2978.5 1162.2,2983.2 1162.8,2979.3 1163.3,2981.6 1163.9,2979.3 1164.4,2979 1165,2983.8 1165.5,2978.9 1166.1,2976.8 1166.6,2978 1167.2,2978.8 1167.7,2984 1168.3,2979.9 1168.8,2981.5 1169.4,2977.4 1169.9,2980.2 1170.5,2980.9 1171,2983.3 1171.6,2978.1 1172.1,2980.8 1172.7,2980.2 1173.2,2977.4 1173.7,2979.5 1174.3,2979 1174.8,2974.7 1175.4,2980.8 1175.9,2980.7 1176.5,2978.7 1177,2976.8 1177.6,2982.7 1178.1,2980.2 1178.7,2981.8 1179.2,2982.6 1179.8,2978.6 1180.3,2981.4 1180.9,2979.2 1181.4,2979.6 1182,2979.6 1182.5,2979.8 1183.1,2982.2 1183.6,2980.1 1184.2,2979.6 1184.7,2979.3 1185.3,2980.7 1185.8,2978.1 1186.4,2978.9 1186.9,2979.9 1187.4,2978.9 1188,2979.8 1188.5,2978.8 1189.1,2984.3 1189.6,2983 1190.2,2981.1 1190.7,2980.1 1191.3,2984.9 1191.8,2981 1192.4,2980.1 1192.9,2981 1193.5,2981 1194,2983.4 1194.6,2980.4 1195.1,2984.9 1195.7,2978.6 1196.2,2982 1196.8,2978.5 1197.3,2984.4 1197.9,2979.9 1198.4,2980.5 1199,2982.6 1199.5,2983.4 1200.1,2978.4 1200.6,2980.1 1201.1,2977.9 1201.7,2981.1 1202.2,2980.7 1202.8,2980.2 1203.3,2979.5 1203.9,2980.2 1204.4,2979.4 1205,2982.1 1205.5,2984.2 1206.1,2977 1206.6,2980.9 1207.2,2980.3 1207.7,2982.2 1208.3,2979.2 1208.8,2980.9 1209.4,2979.1 1209.9,2982.7 1210.5,2981.5 1211,2981 1211.6,2982.1 1212.1,2980.9 1212.7,2978.1 1213.2,2982.7 1213.8,2982.1 1214.3,2981.2 1214.8,2983.6 1215.4,2984.1 1215.9,2979.2 1216.5,2979.9 1217,2984.8 1217.6,2984.6 1218.1,2980.1 1218.7,2979.2 1219.2,2980.3 1219.8,2980.6 1220.3,2978.4 1220.9,2981.8 1221.4,2979.1 1222,2979.2 1222.5,2983.7 1223.1,2980.4 1223.6,2981.7 1224.2,2983.2 1224.7,2983.6 1225.3,2981.2 1225.8,2982 1226.4,2980.2 1226.9,2985.6 1227.5,2983.4 1228,2979.7 1228.5,2982.1 1229.1,2983.6 1229.6,2983.1 1230.2,2986 1230.7,2985 1231.3,2981 1231.8,2982 1232.4,2979.5 1232.9,2982.8 1233.5,2982.6 1234,2987.9 1234.6,2982.5 1235.1,2977.9 1235.7,2980.9 1236.2,2982.6 1236.8,2979.7 1237.3,2980.6 1237.9,2981.7 1238.4,2983.2 1239,2982.1 1239.5,2980.6 1240.1,2984.2 1240.6,2981.4 1241.2,2981.5 1241.7,2979.7 1242.2,2980.9 1242.8,2984 1243.3,2979.2 1243.9,2982.5 1244.4,2984.2 1245,2981.9 1245.5,2983.2 1246.1,2980.4 1246.6,2985.5 1247.2,2985.1 1247.7,2983.3 1248.3,2979.1 1248.8,2980.6 1249.4,2984.9 1249.9,2986.4 1250.5,2983.5 1251,2985.5 1251.6,2981.6 1252.1,2982.5 1252.7,2982.9 1253.2,2983.8 1253.8,2979.7 1254.3,2984.9 1254.9,2985.7 1255.4,2980.5 1255.9,2980.1 1256.5,2983.7 1257,2981.6 1257.6,2978 1258.1,2984.7 1258.7,2983.3 1259.2,2982 1259.8,2987.4 1260.3,2983.3 1260.9,2981.4 1261.4,2983.2 1262,2980.8 1262.5,2981.4 1263.1,2983.8 1263.6,2981.8 1264.2,2982.1 1264.7,2986.5 1265.3,2984.8 1265.8,2984.7 1266.4,2984.1 1266.9,2984 1267.5,2986 1268,2982.9 1268.5,2986.9 1269.1,2981 1269.6,2982.4 1270.2,2980.1 1270.7,2982.2 1271.3,2984 1271.8,2986 1272.4,2981.6 1272.9,2983 1273.5,2982.2 1274,2981.4 1274.6,2980.4 1275.1,2983 1275.7,2979.3 1276.2,2983.1 1276.8,2982.9 1277.3,2981.5 1277.9,2980.8 1278.4,2980 1279,2986.8 1279.5,2980 1280.1,2986.1 1280.6,2984.1 1281.2,2982.1 1281.7,2980.4 1282.2,2985 1282.8,2986.4 1283.3,2980.8 1283.9,2982.2 1284.4,2985 1285,2983.5 1285.5,2987 1286.1,2981.6 1286.6,2983.9 1287.2,2980.1 1287.7,2987.1 1288.3,2981.2 1288.8,2978.1 1289.4,2982.4 1289.9,2982.4 1290.5,2986.7 1291,2982 1291.6,2982.6 1292.1,2983.9 1292.7,2986 1293.2,2982.5 1293.8,2984.8 1294.3,2983.7 1294.9,2982 1295.4,2982.8 1295.9,2982.7 1296.5,2980.7 1297,2985.1 1297.6,2979.7 1298.1,2985 1298.7,2984.6 1299.2,2982.4 1299.8,2981 1300.3,2982.1 1300.9,2983.5 1301.4,2984.1 1302,2983.1 1302.5,2984.6 1303.1,2981.4 1303.6,2983 1304.2,2979.2 1304.7,2984.1 1305.3,2982.8 1305.8,2981.6 1306.4,2984.9 1306.9,2984 1307.5,2976.6 1308,2982.6 1308.6,2979.4 1309.1,2984.7 1309.6,2987.7 1310.2,2981.4 1310.7,2982.7 1311.3,2982 1311.8,2983.2 1312.4,2983.9 1312.9,2985.2 1313.5,2980.4 1314,2985.8 1314.6,2980.5 1315.1,2983.1 1315.7,2984.9 1316.2,2984 1316.8,2980.5 1317.3,2981 1317.9,2981.5 1318.4,2982.4 1319,2984.9 1319.5,2979.8 1320.1,2983.5 1320.6,2983.8 1321.2,2983.7 1321.7,2983.5 1322.3,2985.7 1322.8,2983.5 1323.3,2984.3 1323.9,2983.7 1324.4,2986.3 1325,2978.5 1325.5,2985.2 1326.1,2982 1326.6,2981.9 1327.2,2980.5 1327.7,2978.6 1328.3,2981.7 1328.8,2981.1 1329.4,2983.5 1329.9,2979.4 1330.5,2985.5 1331,2983.1 1331.6,2982 1332.1,2981 1332.7,2980.8 1333.2,2980.1 1333.8,2981.4 1334.3,2982.5 1334.9,2982.1 1335.4,2979.5 1336,2981.9 1336.5,2980.6 1337,2982.8 1337.6,2986.4 1338.1,2983.8 1338.7,2981.8 1339.2,2979.1 1339.8,2979.5 1340.3,2979 1340.9,2984 1341.4,2980.9 1342,2982.6 1342.5,2981.2 1343.1,2982.7 1343.6,2985.4 1344.2,2981.1 1344.7,2981.8 1345.3,2980.8 1345.8,2984.3 1346.4,2980.3 1346.9,2980.1 1347.5,2979.6 1348,2979.5 1348.6,2983.5 1349.1,2987.9 1349.7,2980.4 1350.2,2984.5 1350.7,2983 1351.3,2980.2 1351.8,2981.9 1352.4,2982 1352.9,2981 1353.5,2986.5 1354,2978.5 1354.6,2983.3 1355.1,2983.2 1355.7,2981.3 1356.2,2982.8 1356.8,2984.3 1357.3,2982.8 1357.9,2983.3 1358.4,2983.9 1359,2978.2 1359.5,2985.6 1360.1,2987.2 1360.6,2984.5 1361.2,2984.6 1361.7,2979.5 1362.3,2982.2 1362.8,2980.7 1363.4,2981.2 1363.9,2984.4 1364.4,2980.7 1365,2982.1 1365.5,2978.4 1366.1,2982 1366.6,2982.5 1367.2,2980.9 1367.7,2980.8 1368.3,2986.3 1368.8,2979.8 1369.4,2980.1 1369.9,2980.6 1370.5,2984.8 1371,2986.7 1371.6,2983 1372.1,2980.8 1372.7,2981.4 1373.2,2984.5 1373.8,2980.3 1374.3,2985.3 1374.9,2985.2 1375.4,2982.3 1376,2983.5 1376.5,2983.8 1377.1,2985.4 1377.6,2979.9 1378.1,2984.6 1378.7,2981.3 1379.2,2980.5 1379.8,2982.3 1380.3,2981.6 1380.9,2980 1381.4,2978.7 1382,2980.1 1382.5,2985.1 1383.1,2986.2 1383.6,2983.4 1384.2,2984.5 1384.7,2980.9 1385.3,2981.8 1385.8,2982.6 1386.4,2979.7 1386.9,2979.9 1387.5,2982.2 1388,2981.3 1388.6,2979.7 1389.1,2982.7 1389.7,2981.3 1390.2,2984 1390.7,2981.9 1391.3,2981.2 1391.8,2982.1 1392.4,2981.5 1392.9,2980.4 1393.5,2981 1394,2983.4 1394.6,2983.1 1395.1,2984.4 1395.7,2978.2 1396.2,2980.9 1396.8,2980.8 1397.3,2982 1397.9,2980.7 1398.4,2980.6 1399,2983.3 1399.5,2982 1400.1,2979.1 1400.6,2984.4 1401.2,2983.6 1401.7,2980.3 1402.3,2983.2 1402.8,2979.9 1403.4,2983.8 1403.9,2981 1404.4,2979.7 1405,2980.6 1405.5,2979.8 1406.1,2981.7 1406.6,2981.7 1407.2,2981.4 1407.7,2980.1 1408.3,2973.5 1408.8,2981.4 1409.4,2977.2 1409.9,2981.7 1410.5,2983.5 1411,2981.7 1411.6,2980.2 1412.1,2980.7 1412.7,2980.7 1413.2,2979.8 1413.8,2979.7 1414.3,2979 1414.9,2983.3 1415.4,2980.8 1416,2982.8 1416.5,2980.2 1417.1,2980.8 1417.6,2980.2 1418.1,2981.5 1418.7,2982.2 1419.2,2980.9 1419.8,2978.9 1420.3,2978.6 1420.9,2983.7 1421.4,2979.5 1422,2979.4 1422.5,2983.1 1423.1,2982.2 1423.6,2981 1424.2,2978.9 1424.7,2984.6 1425.3,2980.4 1425.8,2980.7 1426.4,2979.1 1426.9,2976.4 1427.5,2976.5 1428,2980 1428.6,2979.9 1429.1,2978.5 1429.7,2976.5 1430.2,2975.8 1430.8,2978.1 1431.3,2975.6 1431.8,2980.5 1432.4,2980.9 1432.9,2984.4 1433.5,2980.2 1434,2977 1434.6,2976.4 1435.1,2970.9 1435.7,2976.8 1436.2,2977.6 1436.8,2979.9 1437.3,2979.1 1437.9,2979 1438.4,2978.1 1439,2979 1439.5,2980.6 1440.1,2975.2 1440.6,2976.4 1441.2,2974.4 1441.7,2980.6 1442.3,2979.9 1442.8,2978.7 1443.4,2974.5 1443.9,2977.3 1444.5,2976.4 1445,2977 1445.5,2976.3 1446.1,2977.7 1446.6,2975.7 1447.2,2978.3 1447.7,2976.9 1448.3,2975.7 1448.8,2976 1449.4,2975.3 1449.9,2977.8 1450.5,2975.5 1451,2976.6 1451.6,2975.1 1452.1,2972.7 1452.7,2977.6 1453.2,2973.4 1453.8,2977 1454.3,2976.4 1454.9,2971.9 1455.4,2973.3 1456,2974.1 1456.5,2973.4 1457.1,2972.6 1457.6,2976.5 1458.2,2974.3 1458.7,2975.6 1459.2,2973.8 1459.8,2975.2 1460.3,2972.9 1460.9,2974.3 1461.4,2975.5 1462,2974.2 1462.5,2973.1 1463.1,2971.6 1463.6,2974.1 1464.2,2974.4 1464.7,2973 1465.3,2971.8 1465.8,2974.4 1466.4,2978.3 1466.9,2972.4 1467.5,2973.6 1468,2973.5 1468.6,2967.2 1469.1,2972.7 1469.7,2970.8 1470.2,2975.1 1470.8,2971.5 1471.3,2970.3 1471.9,2971.4 1472.4,2972 1472.9,2970.4 1473.5,2971.4 1474,2968.5 1474.6,2970.8 1475.1,2972.8 1475.7,2975.2 1476.2,2972.4 1476.8,2971.4 1477.3,2973.3 1477.9,2972.8 1478.4,2974.1 1479,2972.8 1479.5,2970.2 1480.1,2970.9 1480.6,2970.6 1481.2,2970.8 1481.7,2970.5 1482.3,2968.4 1482.8,2965.5 1483.4,2968.5 1483.9,2965.5 1484.5,2969.9 1485,2969.7 1485.6,2966.1 1486.1,2971 1486.6,2971.3 1487.2,2969.6 1487.7,2972.8 1488.3,2973.2 1488.8,2966.7 1489.4,2971.3 1489.9,2970 1490.5,2969.9 1491,2971 1491.6,2967.4 1492.1,2967.7 1492.7,2967.1 1493.2,2967.2 1493.8,2968.6 1494.3,2965.7 1494.9,2966.5 1495.4,2969.8 1496,2968.4 1496.5,2969.3 1497.1,2964.5 1497.6,2966.8 1498.2,2967.2 1498.7,2968.4 1499.2,2967.1 1499.8,2970.2 1500.3,2968.1 1500.9,2968.2 1501.4,2968.2 1502,2969.6 1502.5,2967.1 1503.1,2970.4 1503.6,2969 1504.2,2968.4 1504.7,2968.1 1505.3,2969.1 1505.8,2970.1 1506.4,2970 1506.9,2968.8 1507.5,2969.8 1508,2968.3 1508.6,2970.6 1509.1,2968 1509.7,2963.7 1510.2,2970.9 1510.8,2968.3 1511.3,2965.6 1511.9,2967.7 1512.4,2966.3 1512.9,2972.6 1513.5,2969.3 1514,2965 1514.6,2969.4 1515.1,2967.5 1515.7,2972.4 1516.2,2966.2 1516.8,2963.8 1517.3,2968.7 1517.9,2967.8 1518.4,2967.7 1519,2964.2 1519.5,2969.6 1520.1,2972.3 1520.6,2964.8 1521.2,2971.3 1521.7,2967.7 1522.3,2973.9 1522.8,2970 1523.4,2968.7 1523.9,2971.5 1524.5,2970.4 1525,2968.1 1525.6,2971 1526.1,2968.5 1526.6,2965.9 1527.2,2974.1 1527.7,2969.2 1528.3,2968.8 1528.8,2970.9 1529.4,2967 1529.9,2967.6 1530.5,2969.5 1531,2969.6 1531.6,2971 1532.1,2973.4 1532.7,2970.2 1533.2,2972.3 1533.8,2972.7 1534.3,2969.3 1534.9,2972.2 1535.4,2969.9 1536,2974.3 1536.5,2973.1 1537.1,2972.3 1537.6,2969.6 1538.2,2972.8 1538.7,2971 1539.3,2974.3 1539.8,2972.7 1540.3,2971.3 1540.9,2975.1 1541.4,2974.8 1542,2972.2 1542.5,2976 1543.1,2973.1 1543.6,2973.2 1544.2,2974.3 1544.7,2972.6 1545.3,2973.4 1545.8,2974.1 1546.4,2977.8 1546.9,2977.8 1547.5,2974.3 1548,2978.3 1548.6,2975 1549.1,2976 1549.7,2977.2 1550.2,2976 1550.8,2980.6 1551.3,2976.1 1551.9,2973.2 1552.4,2978.6 1553,2975 1553.5,2975.3 1554,2969.8 1554.6,2978.2 1555.1,2977.9 1555.7,2978 1556.2,2978.4 1556.8,2980 1557.3,2976.4 1557.9,2978.6 1558.4,2975.1 1559,2976 1559.5,2979 1560.1,2977.7 1560.6,2974.2 1561.2,2977.8 1561.7,2976.7 1562.3,2975.5 1562.8,2978.2 1563.4,2976.5 1563.9,2974.1 1564.5,2975.1 1565,2981.3 1565.6,2974.4 1566.1,2978.2 1566.7,2979 1567.2,2979.2 1567.7,2975.3 1568.3,2977.3 1568.8,2978.3 1569.4,2979.7 1569.9,2976.8 1570.5,2975.7 1571,2980.3 1571.6,2980.6 1572.1,2979.1 1572.7,2977.1 1573.2,2979.3 1573.8,2978.7 1574.3,2980.3 1574.9,2976 1575.4,2978.9 1576,2978.3 1576.5,2976.4 1577.1,2979.2 1577.6,2978.8 1578.2,2977.9 1578.7,2979.7 1579.3,2975.9 1579.8,2978.8 1580.4,2979.8 1580.9,2979.5 1581.4,2981.2 1582,2976.4 1582.5,2975.8 1583.1,2979.5 1583.6,2979.9 1584.2,2983.4 1584.7,2980.3 1585.3,2977.2 1585.8,2980.7 1586.4,2977.2 1586.9,2975.9 1587.5,2984.5 1588,2979.6 1588.6,2980.4 1589.1,2980.1 1589.7,2982.7 1590.2,2979.5 1590.8,2981.4 1591.3,2976.7 1591.9,2975.9 1592.4,2981.8 1593,2981.8 1593.5,2979.8 1594.1,2979.2 1594.6,2979 1595.1,2977.2 1595.7,2981.8 1596.2,2979.9 1596.8,2979.6 1597.3,2979.3 1597.9,2980.6 1598.4,2979.4 1599,2979.9 1599.5,2975.8 1600.1,2979.3 1600.6,2982.8 1601.2,2977.1 1601.7,2977.9 1602.3,2980 1602.8,2980 1603.4,2979.3 1603.9,2974.5 1604.5,2979 1605,2975.4 1605.6,2976.1 1606.1,2978.9 1606.7,2977.1 1607.2,2979.4 1607.8,2984.3 1608.3,2979.2 1608.8,2979.1 1609.4,2975.7 1609.9,2976.2 1610.5,2975.2 1611,2976.3 1611.6,2975.1 1612.1,2976 1612.7,2976.9 1613.2,2975.2 1613.8,2974.2 1614.3,2974.3 1614.9,2978.1 1615.4,2977.2 1616,2979.2 1616.5,2979.2 1617.1,2976.2 1617.6,2978.3 1618.2,2973.8 1618.7,2981.6 1619.3,2979.2 1619.8,2976.2 1620.4,2974.2 1620.9,2977.4 1621.4,2972.6 1622,2974.9 1622.5,2978 1623.1,2976.6 1623.6,2975.3 1624.2,2978.3 1624.7,2974.1 1625.3,2976.8 1625.8,2975.2 1626.4,2974.4 1626.9,2977.1 1627.5,2974 1628,2980.1 1628.6,2974.8 1629.1,2980.2 1629.7,2973.7 1630.2,2977.3 1630.8,2973.5 1631.3,2973.2 1631.9,2976.3 1632.4,2977.4 1633,2973.3 1633.5,2978.5 1634.1,2974.4 1634.6,2976.3 1635.1,2976.9 1635.7,2977.3 1636.2,2972.4 1636.8,2979.6 1637.3,2977.4 1637.9,2975.3 1638.4,2974.1 1639,2972.8 1639.5,2973.5 1640.1,2977.6 1640.6,2975.8 1641.2,2974.2 1641.7,2975.5 1642.3,2979.9 1642.8,2976 1643.4,2975.5 1643.9,2979.7 1644.5,2977.9 1645,2977 1645.6,2975.7 1646.1,2973.8 1646.7,2974.7 1647.2,2976.2 1647.8,2976.8 1648.3,2978.1 1648.8,2978.5 1649.4,2977.9 1649.9,2978 1650.5,2975.5 1651,2973.1 1651.6,2976.6 1652.1,2975.7 1652.7,2976.4 1653.2,2977.3 1653.8,2975.3 1654.3,2975.6 1654.9,2977.8 1655.4,2978.3 1656,2976.7 1656.5,2979.2 1657.1,2977.7 1657.6,2976.1 1658.2,2978.3 1658.7,2982.2 1659.3,2976.9 1659.8,2980.8 1660.4,2981.3 1660.9,2981.6 1661.5,2976.8 1662,2982.8 1662.5,2978.8 1663.1,2978.1 1663.6,2978.2 1664.2,2980 1664.7,2978.8 1665.3,2978.4 1665.8,2981.5 1666.4,2977.3 1666.9,2976.7 1667.5,2980.6 1668,2980.5 1668.6,2981.3 1669.1,2976.8 1669.7,2981.4 1670.2,2980.1 1670.8,2982.9 1671.3,2976.6 1671.9,2979.7 1672.4,2978.7 1673,2976 1673.5,2977.8 1674.1,2981.8 1674.6,2978.4 1675.2,2977.9 1675.7,2981.3"/>
<polyline fill="none" stroke="#ff0000" stroke-width="2.1" stroke-linejoin="round" stroke-linecap="round" points="141.9,2665 142.4,2667.1 143,2666.9 143.5,2664.2 144.1,2664.5 144.6,2664.2 145.2,2665.9 145.7,2665 146.3,2666.3 146.8,2662.1 147.4,2667.6 147.9,2664.9 148.5,2666.2 149,2664.9 149.6,2664.5 150.1,2665.9 150.7,2666.5 151.2,2664.8 151.8,2664.9 152.3,2666.3 152.9,2663.8 153.4,2662.8 154,2665.9 154.5,2664.2 155.1,2662.2 155.6,2664 156.1,2664.5 156.7,2663.4 157.2,2662.9 157.8,2665.4 158.3,2666.8 158.9,2665 159.4,2664.2 160,2666 160.5,2666.5 161.1,2664.9 161.6,2666.3 162.2,2667.1 162.7,2665.1 163.3,2664.1 163.8,2666 164.4,2665.9 164.9,2667.2 165.5,2663.4 166,2664.4 166.6,2664.2 167.1,2662.8 167.7,2665.7 168.2,2666.4 168.8,2664.4 169.3,2667.8 169.8,2666.9 170.4,2666.6 170.9,2666.3 171.5,2667.2 172,2663.5 172.6,2666.6 173.1,2666.6 173.7,2662.8 174.2,2666.2 174.8,2665.3 175.3,2667 175.9,2665 176.4,2665.7 177,2666.3 177.5,2664.4 178.1,2666.7 178.6,2665.6 179.2,2666.6 179.7,2665 180.3,2667.6 180.8,2666.8 181.4,2665.6 181.9,2666.9 182.5,2667.9 183,2668.8 183.5,2663.4 184.1,2667.3 184.6,2666.7 185.2,2665.8 185.7,2664.3 186.3,2668 186.8,2664 187.4,2666.9 187.9,2668.1 188.5,2663.4 189,2665.5 189.6,2663.9 190.1,2666.4 190.7,2668.5 191.2,2669.3 191.8,2663.2 192.3,2665.2 192.9,2667.2 193.4,2668.6 194,2666.8 194.5,2665 195.1,2666.6 195.6,2666.1 196.2,2665.9 196.7,2665 197.2,2666.8 197.8,2666.7 198.3,2666.1 198.9,2665.9 199.4,2664.2 200,2665.5 200.5,2668.2 201.1,2666 201.6,2664 202.2,2668.5 202.7,2667.2 203.3,2669.7 203.8,2666.5 204.4,2665.6 204.9,2664.1 205.5,2668.5 206,2670.5 206.6,2665.1 207.1,2665.4 207.7,2667.4 208.2,2665.1 208.8,2666 209.3,2665.9 209.8,2666.8 210.4,2668.3 210.9,2666.5 211.5,2668 212,2665.9 212.6,2667.1 213.1,2663.1 213.7,2664.3 214.2,2667.9 214.8,2665.7 215.3,2667.5 215.9,2667.5 216.4,2668.8 217,2667.9 217.5,2668.3 218.1,2666.5 218.6,2665.6 219.2,2665.5 219.7,2665.9 220.3,2664.9 220.8,2665.9 221.4,2666.6 221.9,2667.2 222.5,2666.2 223,2663.7 223.5,2666.7 224.1,2667.2 224.6,2668.6 225.2,2667.8 225.7,2665.8 226.3,2665.7 226.8,2670.1 227.4,2668.1 227.9,2669.8 228.5,2670.3 229,2665.6 229.6,2667.5 230.1,2667.7 230.7,2667.8 231.2,2667.8 231.8,2667.3 232.3,2667.3 232.9,2664.6 233.4,2666.8 234,2665.8 234.5,2667.2 235.1,2666.3 235.6,2668.1 236.2,2668.4 236.7,2667.6 237.2,2667.6 237.8,2667.3 238.3,2666.4 238.9,2666.9 239.4,2666.4 240,2667.8 240.5,2667.2 241.1,2668.1 241.6,2665.1 242.2,2668.7 242.7,2666 243.3,2666.1 243.8,2667 244.4,2666.4 244.9,2667.8 245.5,2666.4 246,2665.6 246.6,2666 247.1,2669.5 247.7,2667.5 248.2,2665.5 248.8,2667.4 249.3,2665 249.9,2670.3 250.4,2665 250.9,2668.3 251.5,2668.4 252,2665.2 252.6,2668 253.1,2669.1 253.7,2668.3 254.2,2668 254.8,2669.1 255.3,2667.9 255.9,2668.2 256.4,2667.4 257,2668.7 257.5,2666.2 258.1,2669 258.6,2666.9 259.2,2666 259.7,2668.3 260.3,2670.5 260.8,2669.3 261.4,2667 261.9,2668.9 262.5,2667.1 263,2667.6 263.6,2668 264.1,2664.2 264.6,2668.2 265.2,2666.3 265.7,2666.8 266.3,2665.6 266.8,2665.5 267.4,2666.5 267.9,2669.3 268.5,2670.7 269,2668 269.6,2669.8 270.1,2667.6 270.7,2665 271.2,2668.3 271.8,2668.8 272.3,2667.4 272.9,2668.6 273.4,2669.1 274,2666.8 274.5,2665.8 275.1,2667.8 275.6,2667.9 276.2,2667.7 276.7,2669.8 277.3,2671 277.8,2667.6 278.3,2669.4 278.9,2669.8 279.4,2669.4 280,2670 280.5,2667.7 281.1,2669.5 281.6,2671.6 282.2,2669.7 282.7,2667.4 283.3,2669.4 283.8,2670.4 284.4,2669 284.9,2667.5 285.5,2670.9 286,2666.5 286.6,2669.3 287.1,2668.5 287.7,2666.6 288.2,2670.5 288.8,2669.1 289.3,2666.7 289.9,2669.5 290.4,2667.9 291,2665.5 291.5,2667.5 292,2669 292.6,2669.6 293.1,2668.9 293.7,2668.7 294.2,2669.4 294.8,2668.3 295.3,2670.5 295.9,2668.9 296.4,2669.2 297,2669.6 297.5,2667 298.1,2667.6 298.6,2671.2 299.2,2669.3 299.7,2668.3 300.3,2669.3 300.8,2668 301.4,2669.2 301.9,2667.7 302.5,2669.2 303,2666.3 303.6,2670.9 304.1,2668 304.7,2666.3 305.2,2668.5 305.7,2668.2 306.3,2669.1 306.8,2667 307.4,2669.5 307.9,2674.6 308.5,2666.8 309,2669.4 309.6,2668.4 310.1,2669.2 310.7,2666 311.2,2667 311.8,2669.6 312.3,2668.8 312.9,2671.5 313.4,2667.8 314,2669.2 314.5,2673.5 315.1,2667.7 315.6,2667.4 316.2,2668.8 316.7,2668.8 317.3,2670.2 317.8,2669.1 318.4,2667.7 318.9,2669.2 319.4,2673.1 320,2670.9 320.5,2664.4 321.1,2668.7 321.6,2667.5 322.2,2669.9 322.7,2668.6 323.3,2672 323.8,2670.4 324.4,2670.3 324.9,2669.2 325.5,2668.8 326,2669.4 326.6,2670.9 327.1,2669.7 327.7,2668.3 328.2,2670.9 328.8,2669.2 329.3,2668.7 329.9,2667.6 330.4,2668 331,2667.8 331.5,2664.4 332,2670.5 332.6,2669.8 333.1,2668.5 333.7,2670.5 334.2,2669.5 334.8,2669.4 335.3,2664.9 335.9,2668.5 336.4,2669.7 337,2671.4 337.5,2671.8 338.1,2671.1 338.6,2666.9 339.2,2665.3 339.7,2669.7 340.3,2668.8 340.8,2670.3 341.4,2668.6 341.9,2669.1 342.5,2666.4 343,2669.5 343.6,2668.1 344.1,2669.3 344.7,2669.5 345.2,2668.6 345.7,2669.2 346.3,2668.7 346.8,2669.9 347.4,2669.5 347.9,2667.8 348.5,2667.8 349,2671.5 349.6,2668.5 350.1,2670.2 350.7,2669.3 351.2,2667.7 351.8,2667.4 352.3,2668.8 352.9,2669 353.4,2669.5 354,2666.5 354.5,2667.5 355.1,2668.3 355.6,2671 356.2,2664.6 356.7,2669 357.3,2667.3 357.8,2668.8 358.4,2667.2 358.9,2668.4 359.4,2670.2 360,2668 360.5,2667.9 361.1,2667.5 361.6,2665.5 362.2,2667.2 362.7,2665.7 363.3,2664.4 363.8,2665.3 364.4,2664.8 364.9,2666.1 365.5,2664.7 366,2663.9 366.6,2667.1 367.1,2666.5 367.7,2667.2 368.2,2666.4 368.8,2665.5 369.3,2665.3 369.9,2665.9 370.4,2668.1 371,2667.1 371.5,2664.8 372.1,2667.3 372.6,2665.3 373.1,2668 373.7,2666 374.2,2666 374.8,2668.3 375.3,2668 375.9,2665.6 376.4,2669.5 377,2671.8 377.5,2666 378.1,2671.3 378.6,2667.3 379.2,2667.6 379.7,2668.1 380.3,2666.1 380.8,2670.5 381.4,2669.2 381.9,2667.2 382.5,2668 383,2666 383.6,2667.9 384.1,2670 384.7,2665.7 385.2,2667.8 385.8,2668.7 386.3,2670.1 386.8,2670.6 387.4,2667.7 387.9,2667.3 388.5,2669.2 389,2667.9 389.6,2668 390.1,2670.2 390.7,2671.2 391.2,2668.9 391.8,2668.1 392.3,2669.4 392.9,2665.4 393.4,2668.4 394,2666.7 394.5,2672.3 395.1,2669.6 395.6,2668.7 396.2,2668.1 396.7,2664.4 397.3,2669.6 397.8,2671 398.4,2667.3 398.9,2669.5 399.5,2669.6 400,2665.9 400.5,2669.9 401.1,2670.6 401.6,2668.8 402.2,2668.3 402.7,2669.7 403.3,2665.9 403.8,2668.5 404.4,2670.1 404.9,2666.4 405.5,2670 406,2667.7 406.6,2665 407.1,2668.2 407.7,2666.8 408.2,2668.9 408.8,2666.5 409.3,2670 409.9,2667.2 410.4,2668.9 411,2667.4 411.5,2667.8 412.1,2670.2 412.6,2668.7 413.2,2667.7 413.7,2666.3 414.2,2670.2 414.8,2669.5 415.3,2667.8 415.9,2668.7 416.4,2666.7 417,2666.7 417.5,2667 418.1,2668.9 418.6,2668.8 419.2,2667.1 419.7,2669.5 420.3,2669.5 420.8,2668.5 421.4,2669.9 421.9,2667.8 422.5,2668.1 423,2669 423.6,2668.2 424.1,2669.5 424.7,2666.2 425.2,2670.5 425.8,2667 426.3,2668 426.9,2666 427.4,2669.2 427.9,2670.3 428.5,2669.9 429,2669.5 429.6,2665.7 430.1,2667 430.7,2667.5 431.2,2666.7 431.8,2670 432.3,2668.5 432.9,2668.1 433.4,2669 434,2666.7 434.5,2666.7 435.1,2666.8 435.6,2669 436.2,2668.7 436.7,2669.1 437.3,2669.9 437.8,2666 438.4,2667.2 438.9,2668.4 439.5,2666 440,2667.3 440.5,2669.8 441.1,2669.9 441.6,2669.8 442.2,2668.2 442.7,2667.8 443.3,2669.8 443.8,2667.5 444.4,2668.6 444.9,2670.2 445.5,2667.5 446,2667.1 446.6,2668.1 447.1,2669 447.7,2668.8 448.2,2668.3 448.8,2669 449.3,2665.5 449.9,2666.7 450.4,2668.3 451,2666.6 451.5,2665.9 452.1,2666.1 452.6,2666.6 453.2,2667.7 453.7,2666.4 454.2,2668.4 454.8,2670.7 455.3,2667.8 455.9,2670 456.4,2668.5 457,2666.2 457.5,2667.6 458.1,2666.4 458.6,2669.2 459.2,2666.1 459.7,2670.1 460.3,2668.9 460.8,2664.7 461.4,2669.2 461.9,2670.4 462.5,2666.7 463,2669.5 463.6,2665 464.1,2668.3 464.7,2665.2 465.2,2668.7 465.8,2665 466.3,2663.7 466.9,2668.5 467.4,2671.5 467.9,2666.9 468.5,2669.2 469,2668 469.6,2667.3 470.1,2668.8 470.7,2670.5 471.2,2665.8 471.8,2668.7 472.3,2668.4 472.9,2665.5 473.4,2670.4 474,2670.9 474.5,2666.3 475.1,2670.5 475.6,2667.9 476.2,2667.5 476.7,2670.1 477.3,2668.1 477.8,2668.2 478.4,2670.1 478.9,2669.8 479.5,2669.1 480,2665.4 480.6,2665.2 481.1,2669.5 481.6,2666.2 482.2,2667.9 482.7,2665.9 483.3,2667.3 483.8,2665.6 484.4,2670.2 484.9,2666 485.5,2667.4 486,2667.3 486.6,2669.5 487.1,2665.3 487.7,2667.5 488.2,2667.2 488.8,2668.4 489.3,2668.3 489.9,2666.7 490.4,2667.9 491,2666.9 491.5,2668.2 492.1,2667.3 492.6,2666.4 493.2,2667.4 493.7,2668 494.3,2671 494.8,2666.6 495.3,2667.8 495.9,2669.7 496.4,2664 497,2664.5 497.5,2665.4 498.1,2667.1 498.6,2671.1 499.2,2667.8 499.7,2669.1 500.3,2666.8 500.8,2663.2 501.4,2663.4 501.9,2668.7 502.5,2667.4 503,2665 503.6,2668.8 504.1,2664.6 504.7,2668.8 505.2,2669.3 505.8,2665.7 506.3,2665.1 506.9,2668.2 507.4,2665.1 508,2668.2 508.5,2664.9 509,2668.1 509.6,2666.9 510.1,2666 510.7,2665.2 511.2,2667 511.8,2663.6 512.3,2666.1 512.9,2665.9 513.4,2667.5 514,2664.4 514.5,2669.1 515.1,2665.8 515.6,2664.4 516.2,2668.4 516.7,2668.8 517.3,2665.8 517.8,2664.6 518.4,2666 518.9,2664.8 519.5,2665.3 520,2668.2 520.6,2666.3 521.1,2665.8 521.7,2666.1 522.2,2665.3 522.7,2666.7 523.3,2666.7 523.8,2664.6 524.4,2665.2 524.9,2668.8 525.5,2665.5 526,2664.4 526.6,2667.9 527.1,2664.5 527.7,2662.6 528.2,2665.3 528.8,2662.6 529.3,2663.1 529.9,2664.2 530.4,2663.3 531,2662.1 531.5,2662.2 532.1,2661.9 532.6,2664.5 533.2,2661.3 533.7,2661.2 534.3,2665.1 534.8,2660.7 535.4,2663.6 535.9,2662.9 536.4,2660.2 537,2657.7 537.5,2660.3 538.1,2660.1 538.6,2660 539.2,2658 539.7,2659.1 540.3,2658.7 540.8,2653.9 541.4,2657 541.9,2654 542.5,2651.7 543,2650.9 543.6,2653.1 544.1,2650.2 544.7,2644.1 545.2,2645.4 545.8,2643.1 546.3,2641 546.9,2638.2 547.4,2634.3 548,2635.5 548.5,2630 549.1,2628.3 549.6,2625.2 550.1,2622.5 550.7,2622.5 551.2,2619.9 551.8,2616.6 552.3,2615.1 552.9,2615.4 553.4,2617.8 554,2617.3 554.5,2618.8 555.1,2619.7 555.6,2622 556.2,2625.1 556.7,2624.4 557.3,2632.5 557.8,2631.3 558.4,2634.1 558.9,2639.5 559.5,2640 560,2641.8 560.6,2642.7 561.1,2642.9 561.7,2647.3 562.2,2650.4 562.7,2648.4 563.3,2653.2 563.8,2650.3 564.4,2651.9 564.9,2654.8 565.5,2654.8 566,2656.6 566.6,2654.9 567.1,2655.1 567.7,2654.2 568.2,2655.8 568.8,2656.4 569.3,2656.2 569.9,2659.4 570.4,2658.1 571,2656.3 571.5,2663.7 572.1,2658.7 572.6,2658.2 573.2,2662.4 573.7,2662.5 574.3,2658.9 574.8,2658.6 575.4,2659.5 575.9,2663 576.4,2660.8 577,2660.1 577.5,2661.5 578.1,2663.6 578.6,2659.5 579.2,2661.2 579.7,2659.7 580.3,2665.4 580.8,2664.9 581.4,2663.6 581.9,2661.9 582.5,2663.2 583,2658.9 583.6,2662.7 584.1,2660.2 584.7,2660.2 585.2,2661.3 585.8,2661.9 586.3,2663.4 586.9,2663.6 587.4,2662.9 588,2661 588.5,2663.6 589.1,2662.4 589.6,2664.4 590.1,2661.1 590.7,2658.2 591.2,2661.8 591.8,2666 592.3,2663.4 592.9,2662.3 593.4,2664 594,2663.4 594.5,2663.4 595.1,2661.8 595.6,2662.8 596.2,2663 596.7,2661.6 597.3,2660.8 597.8,2662.8 598.4,2664.2 598.9,2663.7 599.5,2663.4 600,2663.4 600.6,2666.7 601.1,2663 601.7,2664.3 602.2,2665.7 602.8,2662.7 603.3,2663 603.8,2664.2 604.4,2665.2 604.9,2663 605.5,2663.1 606,2662.7 606.6,2660.6 607.1,2664.3 607.7,2662.1 608.2,2659.7 608.8,2662.2 609.3,2659.7 609.9,2660.8 610.4,2662.4 611,2660.9 611.5,2664.1 612.1,2660 612.6,2662.8 613.2,2663.2 613.7,2664.6 614.3,2663.8 614.8,2662.6 615.4,2662.4 615.9,2662.1 616.5,2664 617,2661.1 617.5,2663 618.1,2662 618.6,2662.5 619.2,2661.7 619.7,2665.5 620.3,2661 620.8,2662.5 621.4,2662.5 621.9,2663 622.5,2662.7 623,2662.6 623.6,2663.5 624.1,2659.5 624.7,2661.9 625.2,2659.9 625.8,2662.2 626.3,2659.9 626.9,2660.3 627.4,2661.7 628,2664 628.5,2662.6 629.1,2662.2 629.6,2663.9 630.2,2660.1 630.7,2658.3 631.2,2660.9 631.8,2661.1 632.3,2663.5 632.9,2664.9 633.4,2659.3 634,2665.4 634.5,2663.9 635.1,2662.7 635.6,2662 636.2,2665.2 636.7,2661.4 637.3,2660.5 637.8,2661.5 638.4,2659 638.9,2661.9 639.5,2661 640,2661.6 640.6,2661.7 641.1,2659.4 641.7,2663.1 642.2,2659.4 642.8,2662.4 643.3,2658.4 643.9,2661.5 644.4,2659.5 644.9,2660.9 645.5,2659.7 646,2657.3 646.6,2658.9 647.1,2660.8 647.7,2661.6 648.2,2658.3 648.8,2657.2 649.3,2659.1 649.9,2660.1 650.4,2659.4 651,2659.1 651.5,2661.7 652.1,2661.9 652.6,2661.5 653.2,2658.7 653.7,2660.3 654.3,2659.8 654.8,2657.8 655.4,2661.5 655.9,2660.2 656.5,2659.2 657,2662.2 657.6,2661.1 658.1,2661.2 658.6,2661.7 659.2,2660.9 659.7,2657.6 660.3,2659 660.8,2661.2 661.4,2658.3 661.9,2659.5 662.5,2660 663,2661.6 663.6,2661.3 664.1,2660.6 664.7,2658.8 665.2,2660.5 665.8,2659.8 666.3,2658.7 666.9,2661 667.4,2659.6 668,2657.5 668.5,2660.6 669.1,2658.1 669.6,2659.4 670.2,2655.9 670.7,2658.2 671.3,2656.7 671.8,2656.5 672.3,2654.9 672.9,2661.3 673.4,2657.5 674,2658 674.5,2659.3 675.1,2657.2 675.6,2658.1 676.2,2655 676.7,2657.3 677.3,2656.2 677.8,2657.5 678.4,2656.8 678.9,2654.1 679.5,2653.2 680,2654.3 680.6,2656.9 681.1,2656.2 681.7,2655.9 682.2,2651.8 682.8,2650.4 683.3,2653.4 683.9,2653.6 684.4,2652.8 684.9,2654 685.5,2652.7 686,2650.6 686.6,2650.6 687.1,2651.6 687.7,2650.9 688.2,2649.9 688.8,2652.8 689.3,2647.8 689.9,2647.3 690.4,2644.3 691,2643.9 691.5,2643.8 692.1,2642.1 692.6,2638.9 693.2,2637.6 693.7,2634.6 694.3,2628.7 694.8,2623.5 695.4,2629.2 695.9,2623.4 696.5,2618.3 697,2611.8 697.6,2608.6 698.1,2608.9 698.6,2598.5 699.2,2598.9 699.7,2597.7 700.3,2594.1 700.8,2593.5 701.4,2591.3 701.9,2595.5 702.5,2591.1 703,2592.4 703.6,2597.5 704.1,2602.3 704.7,2603 705.2,2608.1 705.8,2608.8 706.3,2610.8 706.9,2617.8 707.4,2620.7 708,2623.1 708.5,2622 709.1,2622.7 709.6,2624.2 710.2,2627 710.7,2629.4 711.3,2630.1 711.8,2627.7 712.3,2630.9 712.9,2631.1 713.4,2631.7 714,2631.9 714.5,2632 715.1,2633.7 715.6,2633.3 716.2,2633.9 716.7,2632.8 717.3,2635 717.8,2634.6 718.4,2631.8 718.9,2636.2 719.5,2635.3 720,2637.4 720.6,2635.8 721.1,2636 721.7,2636.4 722.2,2635.8 722.8,2634.8 723.3,2632.1 723.9,2637.3 724.4,2630.9 725,2631.8 725.5,2632 726,2629.8 726.6,2627.9 727.1,2625.5 727.7,2622.8 728.2,2616.8 728.8,2615.4 729.3,2601.9 729.9,2594.8 730.4,2582.5 731,2567.9 731.5,2551.6 732.1,2532 732.6,2502.8 733.2,2472.4 733.7,2439.5 734.3,2399.3 734.8,2357.1 735.4,2307.4 735.9,2255 736.5,2201.6 737,2150.2 737.6,2100.1 738.1,2054 738.7,2020.3 739.2,1995.4 739.7,1984 740.3,1987.2 740.8,2009.3 741.4,2039.4 741.9,2081.3 742.5,2126.6 743,2177 743.6,2229.7 744.1,2280.7 744.7,2327.1 745.2,2371 745.8,2412.2 746.3,2446.1 746.9,2474.6 747.4,2501.7 748,2523.7 748.5,2543.8 749.1,2557.2 749.6,2571.7 750.2,2583.7 750.7,2591.4 751.3,2597.1 751.8,2603.5 752.4,2609.7 752.9,2614.5 753.4,2618.6 754,2620.1 754.5,2621 755.1,2627.7 755.6,2628 756.2,2630.1 756.7,2631.7 757.3,2631.1 757.8,2633.7 758.4,2635.9 758.9,2638.4 759.5,2637.9 760,2633.9 760.6,2639.4 761.1,2641.3 761.7,2643.6 762.2,2643.4 762.8,2647 763.3,2645.9 763.9,2646.4 764.4,2646.4 765,2643.2 765.5,2647.3 766.1,2647.3 766.6,2646 767.1,2648.2 767.7,2648.3 768.2,2647.3 768.8,2648.2 769.3,2648.3 769.9,2649.4 770.4,2648.7 771,2650.5 771.5,2646.8 772.1,2649.7 772.6,2647.7 773.2,2649.9 773.7,2651.7 774.3,2651.1 774.8,2651.1 775.4,2651.6 775.9,2654.2 776.5,2650.1 777,2653.4 777.6,2649.7 778.1,2651.6 778.7,2652.7 779.2,2651.2 779.8,2653.1 780.3,2654 780.8,2651.1 781.4,2653 781.9,2652.6 782.5,2650.2 783,2653.1 783.6,2652.2 784.1,2655.8 784.7,2652.3 785.2,2656.5 785.8,2653 786.3,2657.1 786.9,2654.9 787.4,2654.8 788,2655.5 788.5,2655.7 789.1,2656.6 789.6,2657.2 790.2,2653.9 790.7,2652.5 791.3,2650.3 791.8,2654 792.4,2655.9 792.9,2655.3 793.4,2655 794,2654.3 794.5,2653.9 795.1,2654.5 795.6,2655.6 796.2,2652.2 796.7,2656.2 797.3,2652.8 797.8,2654.9 798.4,2654.2 798.9,2654.6 799.5,2653.6 800,2653.4 800.6,2654.9 801.1,2653.6 801.7,2659.3 802.2,2654.7 802.8,2654.4 803.3,2654.6 803.9,2653.8 804.4,2651.6 805,2655.1 805.5,2656 806.1,2653.2 806.6,2655.6 807.1,2653.7 807.7,2655.6 808.2,2656.2 808.8,2656.5 809.3,2656.4 809.9,2654.6 810.4,2657.1 811,2655 811.5,2656.3 812.1,2656.9 812.6,2655.3 813.2,2653.7 813.7,2656.8 814.3,2654 814.8,2654.4 815.4,2654.1 815.9,2657.2 816.5,2655.6 817,2652.3 817.6,2657.1 818.1,2659.2 818.7,2658.8 819.2,2655 819.8,2656 820.3,2656.7 820.8,2657.4 821.4,2656 821.9,2654.2 822.5,2657.2 823,2656.9 823.6,2653.8 824.1,2655.4 824.7,2656.4 825.2,2656 825.8,2656.8 826.3,2657.3 826.9,2656.8 827.4,2655.8 828,2653.8 828.5,2657 829.1,2658.2 829.6,2659.2 830.2,2655.9 830.7,2655.9 831.3,2658.3 831.8,2658.3 832.4,2656.5 832.9,2657.1 833.5,2654.8 834,2656.9 834.5,2654.7 835.1,2655.8 835.6,2655.8 836.2,2655.2 836.7,2652.6 837.3,2654.7 837.8,2656.5 838.4,2655.9 838.9,2655.3 839.5,2656.6 840,2657.1 840.6,2657.3 841.1,2654.7 841.7,2656 842.2,2655.4 842.8,2654.5 843.3,2653.5 843.9,2655.8 844.4,2654.5 845,2659.4 845.5,2655.7 846.1,2655.5 846.6,2655.2 847.2,2658.9 847.7,2654.4 848.2,2655.6 848.8,2654.6 849.3,2655.6 849.9,2655.8 850.4,2657.6 851,2653.6 851.5,2655.8 852.1,2658.4 852.6,2655 853.2,2655.5 853.7,2654.3 854.3,2651.6 854.8,2655.6 855.4,2657.6 855.9,2655 856.5,2652.8 857,2656.1 857.6,2655.8 858.1,2657.3 858.7,2657.1 859.2,2655.2 859.8,2656.3 860.3,2652.7 860.9,2657.4 861.4,2655.9 861.9,2657.3 862.5,2657.2 863,2655.1 863.6,2655.3 864.1,2654.1 864.7,2652.2 865.2,2655.2 865.8,2655.7 866.3,2653.7 866.9,2656.5 867.4,2655.5 868,2656.1 868.5,2654.1 869.1,2652.5 869.6,2656.5 870.2,2656.2 870.7,2655 871.3,2654.5 871.8,2654.7 872.4,2654.9 872.9,2654.3 873.5,2651.8 874,2656.3 874.6,2652.6 875.1,2654.4 875.6,2654.4 876.2,2655.3 876.7,2652.3 877.3,2656.7 877.8,2655.8 878.4,2655.9 878.9,2656.7 879.5,2653.3 880,2649.6 880.6,2655.1 881.1,2656.6 881.7,2656.3 882.2,2653.5 882.8,2654.2 883.3,2654.7 883.9,2651.3 884.4,2653 885,2653 885.5,2656.5 886.1,2652.8 886.6,2656.3 887.2,2653.7 887.7,2650.9 888.3,2657.1 888.8,2651.9 889.3,2654.3 889.9,2656 890.4,2652.3 891,2651 891.5,2654.5 892.1,2652.8 892.6,2650.6 893.2,2650.7 893.7,2651.7 894.3,2653.7 894.8,2651.5 895.4,2652.8 895.9,2654.2 896.5,2653.4 897,2653.4 897.6,2652.9 898.1,2648.1 898.7,2652.3 899.2,2650.6 899.8,2649.6 900.3,2647.7 900.9,2646.5 901.4,2646.9 902,2648.2 902.5,2645.9 903,2646 903.6,2645.7 904.1,2647.2 904.7,2645 905.2,2644.5 905.8,2646 906.3,2642.4 906.9,2642.8 907.4,2638.9 908,2639.6 908.5,2637.6 909.1,2635.7 909.6,2632.3 910.2,2628.7 910.7,2626.7 911.3,2622.7 911.8,2620.7 912.4,2615.5 912.9,2606.3 913.5,2602.7 914,2593.4 914.6,2586.6 915.1,2575.9 915.6,2564.2 916.2,2557.3 916.7,2544.9 917.3,2530.3 917.8,2517.1 918.4,2507.3 918.9,2495.1 919.5,2486.4 920,2480 920.6,2475.8 921.1,2470.2 921.7,2473.6 922.2,2477 922.8,2481.1 923.3,2487.9 923.9,2502.5 924.4,2513.6 925,2528.5 925.5,2539.1 926.1,2549.9 926.6,2562.6 927.2,2568.8 927.7,2580.6 928.3,2588.7 928.8,2600 929.3,2605.2 929.9,2605.7 930.4,2618.3 931,2619.4 931.5,2626.2 932.1,2627.8 932.6,2631.9 933.2,2635.1 933.7,2636.6 934.3,2636.6 934.8,2642 935.4,2641.8 935.9,2642.3 936.5,2644.5 937,2643.4 937.6,2648.1 938.1,2646.2 938.7,2647.1 939.2,2647.6 939.8,2646.1 940.3,2646.2 940.9,2648.9 941.4,2649.5 942,2651.5 942.5,2650.4 943,2648.3 943.6,2651.2 944.1,2652 944.7,2652.5 945.2,2651.7 945.8,2649.4 946.3,2653.5 946.9,2650.7 947.4,2652.9 948,2649.7 948.5,2653.6 949.1,2651.3 949.6,2654.4 950.2,2655.7 950.7,2654.9 951.3,2651.3 951.8,2651.7 952.4,2652 952.9,2654.5 953.5,2654.1 954,2653.9 954.6,2654.3 955.1,2654.8 955.7,2655 956.2,2656.8 956.7,2654.1 957.3,2654.5 957.8,2651.3 958.4,2652.2 958.9,2653.3 959.5,2652.6 960,2654.9 960.6,2656.3 961.1,2654 961.7,2654 962.2,2654 962.8,2655 963.3,2654 963.9,2655.6 964.4,2655.5 965,2655.6 965.5,2656.3 966.1,2655.2 966.6,2655.4 967.2,2658 967.7,2655.1 968.3,2656.5 968.8,2655.4 969.4,2654.6 969.9,2654.6 970.4,2654.1 971,2655.4 971.5,2654.5 972.1,2654.8 972.6,2657.4 973.2,2655.3 973.7,2657.4 974.3,2656 974.8,2657 975.4,2654.6 975.9,2655.9 976.5,2659.9 977,2657 977.6,2657.3 978.1,2656.1 978.7,2657.1 979.2,2653.9 979.8,2654.4 980.3,2656.5 980.9,2657.1 981.4,2655.2 982,2655.6 982.5,2655.3 983.1,2655.6 983.6,2654 984.1,2653.6 984.7,2655.8 985.2,2653.2 985.8,2654.4 986.3,2654.9 986.9,2654.3 987.4,2656.4 988,2655.3 988.5,2655.9 989.1,2654.4 989.6,2654.8 990.2,2656.9 990.7,2656.6 991.3,2655.3 991.8,2656.6 992.4,2656.4 992.9,2656.3 993.5,2658.6 994,2655.5 994.6,2656.8 995.1,2656.8 995.7,2655.8 996.2,2654.3 996.8,2657.2 997.3,2656.6 997.8,2656.2 998.4,2656.2 998.9,2656.2 999.5,2654.7 1000,2656.6 1000.6,2653.3 1001.1,2656.2 1001.7,2653.8 1002.2,2655.6 1002.8,2657.4 1003.3,2655.8 1003.9,2655.5 1004.4,2657 1005,2655.8 1005.5,2655.6 1006.1,2655.6 1006.6,2658.7 1007.2,2657.3 1007.7,2657 1008.3,2654.4 1008.8,2657.3 1009.4,2654.2 1009.9,2657 1010.5,2654.5 1011,2659.4 1011.5,2653.6 1012.1,2658.2 1012.6,2657.6 1013.2,2653.5 1013.7,2655.9 1014.3,2658.6 1014.8,2658.1 1015.4,2653.7 1015.9,2655.5 1016.5,2654.4 1017,2654.7 1017.6,2655.3 1018.1,2659.3 1018.7,2656.5 1019.2,2656 1019.8,2655.8 1020.3,2657.4 1020.9,2657.5 1021.4,2654.9 1022,2658.7 1022.5,2654.6 1023.1,2655.9 1023.6,2657.1 1024.2,2659.1 1024.7,2655.8 1025.2,2656.8 1025.8,2658.5 1026.3,2657.4 1026.9,2658.2 1027.4,2658 1028,2656.8 1028.5,2657.4 1029.1,2657.9 1029.6,2656.4 1030.2,2659 1030.7,2653.2 1031.3,2654.9 1031.8,2658.7 1032.4,2657.1 1032.9,2655.4 1033.5,2657 1034,2658.2 1034.6,2655.5 1035.1,2657.7 1035.7,2656.2 1036.2,2656.2 1036.8,2656.3 1037.3,2658.2 1037.8,2654.6 1038.4,2655.8 1038.9,2657.5 1039.5,2654.5 1040,2653.9 1040.6,2657.4 1041.1,2656.4 1041.7,2656.2 1042.2,2656.7 1042.8,2654.9 1043.3,2661.1 1043.9,2654.9 1044.4,2655.8 1045,2654.2 1045.5,2655.8 1046.1,2658.9 1046.6,2656.5 1047.2,2657.4 1047.7,2655.7 1048.3,2659.4 1048.8,2656.7 1049.4,2654.5 1049.9,2657.7 1050.5,2655.9 1051,2657.4 1051.5,2656.7 1052.1,2656.9 1052.6,2656.7 1053.2,2655 1053.7,2654.1 1054.3,2658 1054.8,2656.3 1055.4,2656.9 1055.9,2655.7 1056.5,2653.2 1057,2654.4 1057.6,2658.7 1058.1,2655.2 1058.7,2655.9 1059.2,2654.1 1059.8,2655.6 1060.3,2655.9 1060.9,2656.1 1061.4,2656.4 1062,2655.5 1062.5,2655.6 1063.1,2656.5 1063.6,2657 1064.2,2656.3 1064.7,2659.3 1065.2,2656.8 1065.8,2656.7 1066.3,2655.4 1066.9,2658.1 1067.4,2654.8 1068,2653.9 1068.5,2654.9 1069.1,2657.5 1069.6,2654.7 1070.2,2658.6 1070.7,2656.4 1071.3,2654.1 1071.8,2656.1 1072.4,2659.3 1072.9,2655.1 1073.5,2654.4 1074,2657.3 1074.6,2658.6 1075.1,2658.1 1075.7,2656 1076.2,2656.8 1076.8,2657 1077.3,2658.4 1077.9,2659.9 1078.4,2656.3 1078.9,2658.6 1079.5,2655.9 1080,2657.4 1080.6,2655 1081.1,2655.3 1081.7,2657.1 1082.2,2655 1082.8,2657.9 1083.3,2655.6 1083.9,2656.6 1084.4,2656.3 1085,2655.9 1085.5,2656.7 1086.1,2658.2 1086.6,2661.4 1087.2,2654.6 1087.7,2656.9 1088.3,2656.2 1088.8,2655 1089.4,2656.9 1089.9,2655 1090.5,2656.3 1091,2658.4 1091.6,2653.2 1092.1,2656.8 1092.6,2657.2 1093.2,2654.9 1093.7,2657.3 1094.3,2657 1094.8,2655.9 1095.4,2658.4 1095.9,2654.3 1096.5,2657.5 1097,2656.1 1097.6,2654.7 1098.1,2656.1 1098.7,2655.9 1099.2,2657.7 1099.8,2654 1100.3,2656.1 1100.9,2655.7 1101.4,2658.9 1102,2654.6 1102.5,2658.1 1103.1,2653.6 1103.6,2656.9 1104.2,2656.2 1104.7,2657 1105.3,2655.3 1105.8,2653.3 1106.3,2653.9 1106.9,2658.5 1107.4,2656.7 1108,2655 1108.5,2657.8 1109.1,2655.1 1109.6,2655.1 1110.2,2654.4 1110.7,2658.2 1111.3,2659.5 1111.8,2654.8 1112.4,2656.8 1112.9,2657.9 1113.5,2659.7 1114,2652.4 1114.6,2656.5 1115.1,2657.3 1115.7,2653.9 1116.2,2656.9 1116.8,2656.5 1117.3,2657.4 1117.9,2655.3 1118.4,2656.9 1119,2655.2 1119.5,2657.2 1120,2656.4 1120.6,2655.6 1121.1,2653.9 1121.7,2658.8 1122.2,2657.9 1122.8,2657.5 1123.3,2655 1123.9,2655.5 1124.4,2658.8 1125,2657.3 1125.5,2654.7 1126.1,2656.1 1126.6,2656.3 1127.2,2655.7 1127.7,2654.5 1128.3,2658 1128.8,2656.9 1129.4,2655.7 1129.9,2653.4 1130.5,2655 1131,2655.9 1131.6,2657.3 1132.1,2655.3 1132.7,2657.7 1133.2,2656.1 1133.7,2654.7 1134.3,2651.4 1134.8,2653.9 1135.4,2653.4 1135.9,2655.5 1136.5,2656.3 1137,2658 1137.6,2655.7 1138.1,2653.8 1138.7,2659.4 1139.2,2656.1 1139.8,2655.2 1140.3,2655.2 1140.9,2653.4 1141.4,2656.5 1142,2656.1 1142.5,2658 1143.1,2657.2 1143.6,2656.8 1144.2,2657.4 1144.7,2654.9 1145.3,2654.6 1145.8,2655.2 1146.3,2653.2 1146.9,2654.9 1147.4,2654.6 1148,2656.1 1148.5,2655 1149.1,2651.9 1149.6,2655 1150.2,2657.1 1150.7,2651.9 1151.3,2653.5 1151.8,2654.7 1152.4,2652.5 1152.9,2653.7 1153.5,2654.5 1154,2652.3 1154.6,2654.8 1155.1,2654.9 1155.7,2652.1 1156.2,2654.1 1156.8,2655.6 1157.3,2653.5 1157.9,2654.4 1158.4,2654.6 1159,2653 1159.5,2654.8 1160,2653.7 1160.6,2651.3 1161.1,2653.5 1161.7,2653.9 1162.2,2653.6 1162.8,2651 1163.3,2652.5 1163.9,2653.7 1164.4,2651.5 1165,2652.7 1165.5,2652.5 1166.1,2650 1166.6,2650.6 1167.2,2648.6 1167.7,2650.3 1168.3,2647.9 1168.8,2646.5 1169.4,2646.7 1169.9,2645.9 1170.5,2645.8 1171,2645.1 1171.6,2641.6 1172.1,2641.5 1172.7,2642.1 1173.2,2641.2 1173.7,2639.5 1174.3,2642.4 1174.8,2638.7 1175.4,2635.6 1175.9,2635.6 1176.5,2635.3 1177,2632.6 1177.6,2628 1178.1,2629.8 1178.7,2628.8 1179.2,2631.3 1179.8,2624.2 1180.3,2629.2 1180.9,2626.2 1181.4,2627.9 1182,2626.1 1182.5,2627.3 1183.1,2629.5 1183.6,2628.6 1184.2,2631.1 1184.7,2630.4 1185.3,2631 1185.8,2632.6 1186.4,2633.4 1186.9,2635.2 1187.4,2638.8 1188,2636 1188.5,2636.4 1189.1,2640.1 1189.6,2643.9 1190.2,2643.9 1190.7,2645.3 1191.3,2646.1 1191.8,2643.8 1192.4,2645.9 1192.9,2642.2 1193.5,2646.1 1194,2648.7 1194.6,2645.8 1195.1,2645.6 1195.7,2647.3 1196.2,2650.1 1196.8,2652.1 1197.3,2654.7 1197.9,2653.2 1198.4,2648.8 1199,2647.8 1199.5,2652 1200.1,2653.7 1200.6,2649.7 1201.1,2651.6 1201.7,2651.9 1202.2,2652.9 1202.8,2652.7 1203.3,2654 1203.9,2655 1204.4,2653.5 1205,2654.7 1205.5,2656.8 1206.1,2652.1 1206.6,2652.2 1207.2,2654.7 1207.7,2657 1208.3,2654.4 1208.8,2655.9 1209.4,2653.8 1209.9,2655.8 1210.5,2653.4 1211,2655.5 1211.6,2655.1 1212.1,2655.2 1212.7,2656.8 1213.2,2656.4 1213.8,2653.8 1214.3,2656.2 1214.8,2652.1 1215.4,2656.4 1215.9,2659.3 1216.5,2655.8 1217,2655.8 1217.6,2655.1 1218.1,2656.4 1218.7,2654.3 1219.2,2656.2 1219.8,2654.7 1220.3,2654.5 1220.9,2655.4 1221.4,2655.1 1222,2652.5 1222.5,2658.6 1223.1,2655.5 1223.6,2652.6 1224.2,2657.1 1224.7,2655.3 1225.3,2655.7 1225.8,2656.5 1226.4,2654 1226.9,2650.7 1227.5,2655.3 1228,2655.8 1228.5,2657.1 1229.1,2654.3 1229.6,2655.1 1230.2,2656.1 1230.7,2655 1231.3,2655.1 1231.8,2655.9 1232.4,2653.9 1232.9,2658.1 1233.5,2654.1 1234,2655.6 1234.6,2655 1235.1,2654.4 1235.7,2656.4 1236.2,2657.2 1236.8,2657.9 1237.3,2656.5 1237.9,2654.9 1238.4,2657 1239,2653.3 1239.5,2655.7 1240.1,2656.5 1240.6,2656.5 1241.2,2653.8 1241.7,2653.2 1242.2,2658.3 1242.8,2654.8 1243.3,2653 1243.9,2653.7 1244.4,2655.7 1245,2657.5 1245.5,2655.7 1246.1,2657.6 1246.6,2656 1247.2,2656.4 1247.7,2657.2 1248.3,2655.1 1248.8,2656.1 1249.4,2655 1249.9,2654.6 1250.5,2656.7 1251,2654.4 1251.6,2655.8 1252.1,2654.4 1252.7,2655.5 1253.2,2654.8 1253.8,2657.4 1254.3,2655.8 1254.9,2655.8 1255.4,2658.3 1255.9,2651 1256.5,2653.9 1257,2651.3 1257.6,2655.6 1258.1,2656.3 1258.7,2656.7 1259.2,2656.1 1259.8,2654.2 1260.3,2658.4 1260.9,2656.1 1261.4,2655.2 1262,2653.8 1262.5,2656.3 1263.1,2654.8 1263.6,2654.9 1264.2,2656 1264.7,2656 1265.3,2654.3 1265.8,2657.6 1266.4,2654 1266.9,2653.8 1267.5,2656.1 1268,2655.8 1268.5,2655.7 1269.1,2655 1269.6,2655.7 1270.2,2654.7 1270.7,2653 1271.3,2656.8 1271.8,2654 1272.4,2655.3 1272.9,2656.8 1273.5,2655.7 1274,2660 1274.6,2653.4 1275.1,2654.4 1275.7,2655.8 1276.2,2657.8 1276.8,2655.2 1277.3,2653.3 1277.9,2657.4 1278.4,2654.1 1279,2655.3 1279.5,2657 1280.1,2654.5 1280.6,2654.9 1281.2,2656.4 1281.7,2655.3 1282.2,2656.1 1282.8,2654.1 1283.3,2655.4 1283.9,2653.9 1284.4,2653.1 1285,2658.4 1285.5,2656.3 1286.1,2657.1 1286.6,2654 1287.2,2655.6 1287.7,2655.3 1288.3,2653.3 1288.8,2656.5 1289.4,2654.4 1289.9,2655.3 1290.5,2653.2 1291,2657.2 1291.6,2656.8 1292.1,2656.2 1292.7,2654.1 1293.2,2654.7 1293.8,2657.5 1294.3,2655.1 1294.9,2656 1295.4,2655.8 1295.9,2653.8 1296.5,2658 1297,2652.4 1297.6,2655.9 1298.1,2655.4 1298.7,2653 1299.2,2656.1 1299.8,2656.4 1300.3,2655.7 1300.9,2654.3 1301.4,2656.3 1302,2657.4 1302.5,2655.9 1303.1,2658.3 1303.6,2657 1304.2,2656.8 1304.7,2657.8 1305.3,2654.5 1305.8,2654.7 1306.4,2656.4 1306.9,2656.4 1307.5,2658 1308,2657.4 1308.6,2655.9 1309.1,2655.9 1309.6,2655.1 1310.2,2655 1310.7,2654.9 1311.3,2657 1311.8,2654.8 1312.4,2655 1312.9,2655.8 1313.5,2654.8 1314,2655.2 1314.6,2652.1 1315.1,2656.2 1315.7,2655.1 1316.2,2655.9 1316.8,2656.2 1317.3,2652.6 1317.9,2659.5 1318.4,2655.9 1319,2655.9 1319.5,2652.8 1320.1,2656.7 1320.6,2656.3 1321.2,2655.1 1321.7,2656.1 1322.3,2657.8 1322.8,2655.2 1323.3,2654.3 1323.9,2657.9 1324.4,2656.2 1325,2655.5 1325.5,2659.5 1326.1,2656 1326.6,2655.5 1327.2,2656.2 1327.7,2655.1 1328.3,2656.1 1328.8,2656 1329.4,2654.7 1329.9,2655.3 1330.5,2656.3 1331,2656.4 1331.6,2656.7 1332.1,2657 1332.7,2656.1 1333.2,2656.6 1333.8,2655.1 1334.3,2655.3 1334.9,2657.4 1335.4,2652.6 1336,2656.3 1336.5,2660.8 1337,2652.7 1337.6,2658.1 1338.1,2652.9 1338.7,2656.3 1339.2,2658.3 1339.8,2658 1340.3,2654.2 1340.9,2653.6 1341.4,2653.3 1342,2656.8 1342.5,2655 1343.1,2655.6 1343.6,2656 1344.2,2656.2 1344.7,2656.4 1345.3,2655.8 1345.8,2653 1346.4,2657.9 1346.9,2651.2 1347.5,2657.5 1348,2654.6 1348.6,2655.2 1349.1,2654.7 1349.7,2655 1350.2,2655.5 1350.7,2655.1 1351.3,2653.8 1351.8,2656.9 1352.4,2654.6 1352.9,2657.7 1353.5,2655.3 1354,2654.4 1354.6,2656.2 1355.1,2656.9 1355.7,2654 1356.2,2655.1 1356.8,2657.8 1357.3,2653.9 1357.9,2654.1 1358.4,2655.8 1359,2653.6 1359.5,2651.6 1360.1,2652.8 1360.6,2656.1 1361.2,2656.5 1361.7,2656.4 1362.3,2656.1 1362.8,2653.5 1363.4,2656.6 1363.9,2657.3 1364.4,2654.4 1365,2657 1365.5,2654.9 1366.1,2655.8 1366.6,2656.1 1367.2,2653.1 1367.7,2657.8 1368.3,2654.1 1368.8,2655.3 1369.4,2654.7 1369.9,2656.2 1370.5,2656.1 1371,2655.5 1371.6,2657.7 1372.1,2655.9 1372.7,2654.8 1373.2,2650.8 1373.8,2655 1374.3,2655 1374.9,2654 1375.4,2654 1376,2656.4 1376.5,2657.1 1377.1,2658.4 1377.6,2657.2 1378.1,2654.3 1378.7,2655.8 1379.2,2653.2 1379.8,2656.6 1380.3,2656 1380.9,2654.4 1381.4,2655.2 1382,2655 1382.5,2654.4 1383.1,2657.5 1383.6,2660.3 1384.2,2656.7 1384.7,2657.1 1385.3,2655.6 1385.8,2654.8 1386.4,2658.9 1386.9,2654.8 1387.5,2656 1388,2655.2 1388.6,2656.3 1389.1,2655.3 1389.7,2656.3 1390.2,2653.3 1390.7,2655.2 1391.3,2657.5 1391.8,2653.7 1392.4,2654.2 1392.9,2657.5 1393.5,2655.9 1394,2657 1394.6,2651.7 1395.1,2655.5 1395.7,2653.2 1396.2,2653 1396.8,2655.9 1397.3,2657.2 1397.9,2652.9 1398.4,2653.5 1399,2654.3 1399.5,2655 1400.1,2653.1 1400.6,2658.9 1401.2,2656.2 1401.7,2654.6 1402.3,2654.4 1402.8,2658.9 1403.4,2658.8 1403.9,2654.4 1404.4,2655.7 1405,2657.2 1405.5,2653.3 1406.1,2654.2 1406.6,2657.3 1407.2,2654 1407.7,2654.4 1408.3,2653 1408.8,2653.9 1409.4,2656.2 1409.9,2653.8 1410.5,2653 1411,2654.1 1411.6,2657.9 1412.1,2655.3 1412.7,2654.1 1413.2,2655.3 1413.8,2655.7 1414.3,2655.2 1414.9,2652.1 1415.4,2655.5 1416,2654.6 1416.5,2656.3 1417.1,2652.8 1417.6,2656.6 1418.1,2654.1 1418.7,2652.2 1419.2,2657 1419.8,2654.1 1420.3,2655.5 1420.9,2654.6 1421.4,2656.6 1422,2656.6 1422.5,2656.6 1423.1,2656 1423.6,2652.2 1424.2,2652.1 1424.7,2655.1 1425.3,2653.2 1425.8,2655.5 1426.4,2655 1426.9,2652.4 1427.5,2653 1428,2652.8 1428.6,2653.2 1429.1,2654.3 1429.7,2655.7 1430.2,2656.8 1430.8,2653 1431.3,2653.7 1431.8,2657.1 1432.4,2656 1432.9,2654.9 1433.5,2650.7 1434,2652.9 1434.6,2654.7 1435.1,2653.5 1435.7,2657.7 1436.2,2654.6 1436.8,2654.9 1437.3,2652.6 1437.9,2652.7 1438.4,2653.3 1439,2653.3 1439.5,2653.9 1440.1,2654.9 1440.6,2654.7 1441.2,2655.9 1441.7,2652.1 1442.3,2654.6 1442.8,2654.6 1443.4,2656.7 1443.9,2653.8 1444.5,2654.7 1445,2652.8 1445.5,2654.8 1446.1,2654.7 1446.6,2653 1447.2,2653.3 1447.7,2653.9 1448.3,2654.9 1448.8,2652.1 1449.4,2655.4 1449.9,2653.4 1450.5,2656.9 1451,2656.2 1451.6,2653.2 1452.1,2652.8 1452.7,2657.7 1453.2,2654.8 1453.8,2654.6 1454.3,2653 1454.9,2653.4 1455.4,2654.9 1456,2654.6 1456.5,2652.2 1457.1,2655.5 1457.6,2654 1458.2,2651.9 1458.7,2655 1459.2,2653.1 1459.8,2654.6 1460.3,2652.4 1460.9,2653.8 1461.4,2650.6 1462,2653.8 1462.5,2650.6 1463.1,2653.3 1463.6,2648.9 1464.2,2652.8 1464.7,2654 1465.3,2653.6 1465.8,2654.7 1466.4,2650.9 1466.9,2655.1 1467.5,2655.1 1468,2650.5 1468.6,2651.1 1469.1,2651.3 1469.7,2652.1 1470.2,2652.3 1470.8,2647.9 1471.3,2652.7 1471.9,2651.1 1472.4,2649.7 1472.9,2652.7 1473.5,2650.3 1474,2652.5 1474.6,2651.2 1475.1,2649.5 1475.7,2651.5 1476.2,2650.6 1476.8,2648 1477.3,2645.7 1477.9,2647 1478.4,2648.3 1479,2646.3 1479.5,2648.9 1480.1,2645.8 1480.6,2645.1 1481.2,2644.7 1481.7,2641.9 1482.3,2642.4 1482.8,2640.9 1483.4,2637.5 1483.9,2637.8 1484.5,2641.4 1485,2639 1485.6,2639.3 1486.1,2636.9 1486.6,2638.3 1487.2,2640.6 1487.7,2639.7 1488.3,2639.1 1488.8,2642.8 1489.4,2640.7 1489.9,2640.8 1490.5,2643.8 1491,2639.8 1491.6,2644 1492.1,2641.9 1492.7,2643 1493.2,2643.7 1493.8,2645.5 1494.3,2645.9 1494.9,2646.6 1495.4,2646.8 1496,2649.1 1496.5,2649.8 1497.1,2648.5 1497.6,2648.7 1498.2,2647.1 1498.7,2646 1499.2,2648.8 1499.8,2648 1500.3,2649.3 1500.9,2645 1501.4,2652.2 1502,2645.8 1502.5,2647.8 1503.1,2649.2 1503.6,2645.2 1504.2,2646.4 1504.7,2643.9 1505.3,2644.6 1505.8,2643.5 1506.4,2646.6 1506.9,2646.6 1507.5,2645.3 1508,2647.5 1508.6,2647.3 1509.1,2644.6 1509.7,2643.8 1510.2,2643.1 1510.8,2642.3 1511.3,2644.5 1511.9,2642 1512.4,2640.3 1512.9,2639.6 1513.5,2639.8 1514,2637.2 1514.6,2637.1 1515.1,2635.1 1515.7,2635.8 1516.2,2633.7 1516.8,2627.6 1517.3,2627.4 1517.9,2626.4 1518.4,2621.8 1519,2620.8 1519.5,2616.6 1520.1,2613.4 1520.6,2608.3 1521.2,2604.5 1521.7,2600.2 1522.3,2592.1 1522.8,2587.9 1523.4,2582.5 1523.9,2581.7 1524.5,2574.5 1525,2570.2 1525.6,2566.2 1526.1,2562.4 1526.6,2560.5 1527.2,2562.9 1527.7,2562.1 1528.3,2567.6 1528.8,2568.8 1529.4,2572.9 1529.9,2577.2 1530.5,2582.5 1531,2587.9 1531.6,2595.5 1532.1,2601.8 1532.7,2600.9 1533.2,2607.6 1533.8,2612.5 1534.3,2613.7 1534.9,2617.6 1535.4,2621 1536,2620.7 1536.5,2628.1 1537.1,2629.3 1537.6,2631.2 1538.2,2633.3 1538.7,2635.2 1539.3,2640 1539.8,2637.9 1540.3,2640.1 1540.9,2638.9 1541.4,2641.3 1542,2641 1542.5,2642.1 1543.1,2641.5 1543.6,2642.3 1544.2,2644.9 1544.7,2645.9 1545.3,2645.9 1545.8,2644.5 1546.4,2646.5 1546.9,2642.2 1547.5,2648.2 1548,2646.9 1548.6,2647.7 1549.1,2649.4 1549.7,2647.1 1550.2,2649.5 1550.8,2647.5 1551.3,2649.3 1551.9,2648 1552.4,2649.3 1553,2651.3 1553.5,2648.1 1554,2648.3 1554.6,2648.9 1555.1,2650 1555.7,2654 1556.2,2648.8 1556.8,2646.6 1557.3,2648.9 1557.9,2647.5 1558.4,2649.2 1559,2650.2 1559.5,2648.7 1560.1,2649.2 1560.6,2647.4 1561.2,2650.7 1561.7,2649.3 1562.3,2652.2 1562.8,2652.2 1563.4,2649.1 1563.9,2650 1564.5,2650.6 1565,2651.8 1565.6,2647.9 1566.1,2650.4 1566.7,2653.5 1567.2,2650.3 1567.7,2650.8 1568.3,2650.4 1568.8,2648.4 1569.4,2651.7 1569.9,2650.5 1570.5,2650.3 1571,2651.1 1571.6,2651 1572.1,2646.6 1572.7,2650.3 1573.2,2648.4 1573.8,2649.4 1574.3,2647.8 1574.9,2647.4 1575.4,2650.1 1576,2648.3 1576.5,2647.7 1577.1,2647.5 1577.6,2647.8 1578.2,2647.4 1578.7,2643.4 1579.3,2645.6 1579.8,2646.4 1580.4,2647.8 1580.9,2648.6 1581.4,2644.7 1582,2649.2 1582.5,2646.1 1583.1,2646.6 1583.6,2644.9 1584.2,2644.7 1584.7,2648 1585.3,2645.3 1585.8,2645.6 1586.4,2647.7 1586.9,2648.7 1587.5,2643.7 1588,2646 1588.6,2646.4 1589.1,2649.6 1589.7,2650.9 1590.2,2647.1 1590.8,2648 1591.3,2649.1 1591.9,2649.8 1592.4,2647.7 1593,2649.9 1593.5,2647.6 1594.1,2644.7 1594.6,2647 1595.1,2649.8 1595.7,2651 1596.2,2646.3 1596.8,2647.3 1597.3,2650.3 1597.9,2645.2 1598.4,2651.7 1599,2652.6 1599.5,2646.3 1600.1,2652.5 1600.6,2651.1 1601.2,2653.8 1601.7,2652.1 1602.3,2651.4 1602.8,2652.1 1603.4,2653.5 1603.9,2652.4 1604.5,2652.2 1605,2649.9 1605.6,2653.1 1606.1,2652.4 1606.7,2655.4 1607.2,2652.5 1607.8,2652.4 1608.3,2651.6 1608.8,2653.8 1609.4,2652.3 1609.9,2651.6 1610.5,2655.3 1611,2655.6 1611.6,2652.1 1612.1,2651.2 1612.7,2654.7 1613.2,2651.5 1613.8,2657.4 1614.3,2652.7 1614.9,2654.5 1615.4,2650.9 1616,2652.9 1616.5,2654.7 1617.1,2653.7 1617.6,2652.2 1618.2,2657 1618.7,2654.2 1619.3,2652.7 1619.8,2652.1 1620.4,2652.6 1620.9,2655.3 1621.4,2651.9 1622,2653.2 1622.5,2651.8 1623.1,2655.2 1623.6,2652.9 1624.2,2654.5 1624.7,2654.1 1625.3,2652.2 1625.8,2654.3 1626.4,2654.7 1626.9,2651.4 1627.5,2654.3 1628,2658.9 1628.6,2652.8 1629.1,2654.3 1629.7,2651.1 1630.2,2654 1630.8,2652.3 1631.3,2654.5 1631.9,2653.2 1632.4,2651.4 1633,2655.1 1633.5,2652.9 1634.1,2651.7 1634.6,2653.4 1635.1,2651.8 1635.7,2654 1636.2,2653.2 1636.8,2652.7 1637.3,2654.4 1637.9,2651.3 1638.4,2654.9 1639,2650.1 1639.5,2655.9 1640.1,2653.6 1640.6,2652.9 1641.2,2652.2 1641.7,2654.3 1642.3,2653.1 1642.8,2653.1 1643.4,2655 1643.9,2652.7 1644.5,2653 1645,2654.1 1645.6,2655.1 1646.1,2653.2 1646.7,2653.7 1647.2,2653.5 1647.8,2654.6 1648.3,2655.8 1648.8,2651.9 1649.4,2653.2 1649.9,2653.3 1650.5,2654.4 1651,2655.9 1651.6,2653.4 1652.1,2653.8 1652.7,2655.3 1653.2,2651.4 1653.8,2652.2 1654.3,2652.7 1654.9,2653.4 1655.4,2653.8 1656,2652.6 1656.5,2656.3 1657.1,2652.3 1657.6,2653.1 1658.2,2655.2 1658.7,2654.7 1659.3,2653.4 1659.8,2654.1 1660.4,2654.8 1660.9,2653.5 1661.5,2654.5 1662,2652 1662.5,2653.6 1663.1,2650.8 1663.6,2652 1664.2,2651.6 1664.7,2655.5 1665.3,2652.7 1665.8,2654 1666.4,2652 1666.9,2653.1 1667.5,2653 1668,2652.1 1668.6,2654.9 1669.1,2650.8 1669.7,2654.5 1670.2,2657.8 1670.8,2652.1 1671.3,2653.5 1671.9,2650.9 1672.4,2653.4 1673,2650.6 1673.5,2654.5 1674.1,2652.7 1674.6,2650.5 1675.2,2651.4 1675.7,2650.9"/>
<g stroke="#000" stroke-width="4.5" stroke-linecap="round" fill="none">
<path d="M141.9 1830.5 V3090"/>
<path d="M141.9 3066 H1675.7" stroke-linecap="butt"/>
<path d="M269.7 3066 v11.5 M397.5 3066 v24 M525.4 3066 v11.5 M653.2 3066 v24 M781 3066 v11.5 M908.8 3066 v24 M1036.6 3066 v11.5 M1164.4 3066 v24 M1292.2 3066 v11.5 M1420.1 3066 v24 M1547.9 3066 v11.5 M1675.7 3066 v24"/>
</g>
<g font-family='"Liberation Sans", Arial, Helvetica, sans-serif' font-size="55" text-anchor="middle" fill="#000">
<text transform="translate(141.3 3148.5) scale(1 1.020)" x="0" y="0">20</text>
<text transform="translate(396.9 3148.5) scale(1 1.020)" x="0" y="0">30</text>
<text transform="translate(652.6 3148.5) scale(1 1.020)" x="0" y="0">40</text>
<text transform="translate(908.2 3148.5) scale(1 1.020)" x="0" y="0">50</text>
<text transform="translate(1163.8 3148.5) scale(1 1.020)" x="0" y="0">60</text>
<text transform="translate(1419.5 3148.5) scale(1 1.020)" x="0" y="0">70</text>
<text transform="translate(1675.1 3148.5) scale(1 1.020)" x="0" y="0">80</text>
</g>
<text transform="translate(892 3233.2) scale(1.000 1.030)" x="-3.2" y="0" font-family='"Liberation Sans", Arial, Helvetica, sans-serif' font-size="64.5" fill="#000">2</text>
<text transform="translate(929.2 3233.2) scale(1.090 1.000)" x="-3.1" y="0" font-family='"Liberation Serif", "Times New Roman", serif' font-size="66" fill="#000">θ</text>
<text transform="translate(963 3233.2) scale(1.050 1.000)" x="-2.5" y="0" font-family='"Liberation Serif", "Times New Roman", serif' font-size="66" fill="#000">,</text>
<text transform="translate(995 3233.2) scale(1.000 1.030)" x="-2.7" y="0" font-family='"Liberation Sans", Arial, Helvetica, sans-serif' font-size="64.5" fill="#000">deg.</text>
<text transform="translate(82.3 2629.3) rotate(-90) scale(1.011 1.04)" font-family='"Liberation Sans", Arial, Helvetica, sans-serif' font-size="64.5" fill="#000">Intensity, a. u.</text>
<g font-family='"Liberation Sans", Arial, Helvetica, sans-serif' font-size="57" fill="#000" stroke="#000" stroke-width="0.7">
<text transform="translate(555.8 2561) scale(1 0.960)" x="-11.1" y="39.6">*</text>
<text transform="translate(703 2531.3) scale(1 0.960)" x="-11.1" y="39.6">*</text>
<text transform="translate(1185 2567.4) scale(1 0.960)" x="-11.1" y="39.6">*</text>
<text transform="translate(1485.3 2587.7) scale(1 0.960)" x="-11.1" y="39.6">*</text>
</g>
<g font-family='"Liberation Sans", Arial, Helvetica, sans-serif' font-size="63.2" fill="#000">
<text transform="translate(740.6 1937.7) scale(1 0.897)" x="-18.5" y="36.8">&gt;</text>
<text transform="translate(923 2414) scale(1 0.897)" x="-18.5" y="36.8">&gt;</text>
<text transform="translate(1529.4 2503) scale(1 0.897)" x="-18.5" y="36.8">&gt;</text>
<text transform="translate(736.5 2791.4) scale(1 0.897)" x="-18.5" y="36.8">&gt;</text>
<text transform="translate(914.6 2885.3) scale(1 0.897)" x="-18.5" y="36.8">&gt;</text>
</g>
<g font-family='"Liberation Sans", Arial, Helvetica, sans-serif' font-size="57" fill="#000" stroke="#000" stroke-width="0.7">
<text transform="translate(1367.7 2000.8) scale(1 0.960)" x="-11.1" y="39.6">*</text>
</g>
<g font-family='"Liberation Sans", Arial, Helvetica, sans-serif' font-size="64" fill="#000">
<text transform="translate(1374.2 2088.2) scale(1 0.897)" x="-18.7" y="37.3">&gt;</text>
</g>
<text transform="translate(1400.6 2045.9) scale(1.000 1.030)" x="-1.5" y="0" font-family='"Liberation Sans", Arial, Helvetica, sans-serif' font-size="65" fill="#000">TiC</text>
<text transform="translate(1413.7 2124.8) scale(1.000 1.030)" x="-3.3" y="0" font-family='"Liberation Sans", Arial, Helvetica, sans-serif' font-size="65" fill="#000">Cu</text>
<text transform="translate(809.3 2338.8) scale(1 1.03)" x="-1.4" y="0" font-family='"Liberation Sans", Arial, Helvetica, sans-serif' font-size="64.3" fill="#000">Ti<tspan font-size="38.5" dy="22.5">25</tspan><tspan dy="-22.5">Cu</tspan><tspan font-size="38.5" dy="22.5">75</tspan><tspan dy="-22.5">+carbon black, ball-milled, SPS</tspan></text>
<text transform="translate(905.7 2794.5) scale(1 1.03)" x="-1.4" y="0" font-family='"Liberation Sans", Arial, Helvetica, sans-serif' font-size="64.3" fill="#000">Ti<tspan font-size="38.5" dy="22.5">25</tspan><tspan dy="-22.5">Cu</tspan><tspan font-size="38.5" dy="22.5">75</tspan><tspan dy="-22.5">+carbon black,ball-milled</tspan></text>
</g>
<text transform="translate(2144.6 2619.7) scale(0.930 1.000)" x="-3.5" y="0" font-family='"Liberation Serif", "Times New Roman", serif' font-size="80.3" fill="#000">(</text>
<text transform="translate(2167.3 2619.7) scale(1.020 1.000)" x="-1.1" y="0" font-family='"Liberation Serif", "Times New Roman", serif' font-size="83" font-weight="bold" fill="#000">b</text>
<text transform="translate(2216.4 2619.7) scale(0.930 1.000)" x="-2.6" y="0" font-family='"Liberation Serif", "Times New Roman", serif' font-size="80.3" fill="#000">)</text>
</svg>
</body></html>
